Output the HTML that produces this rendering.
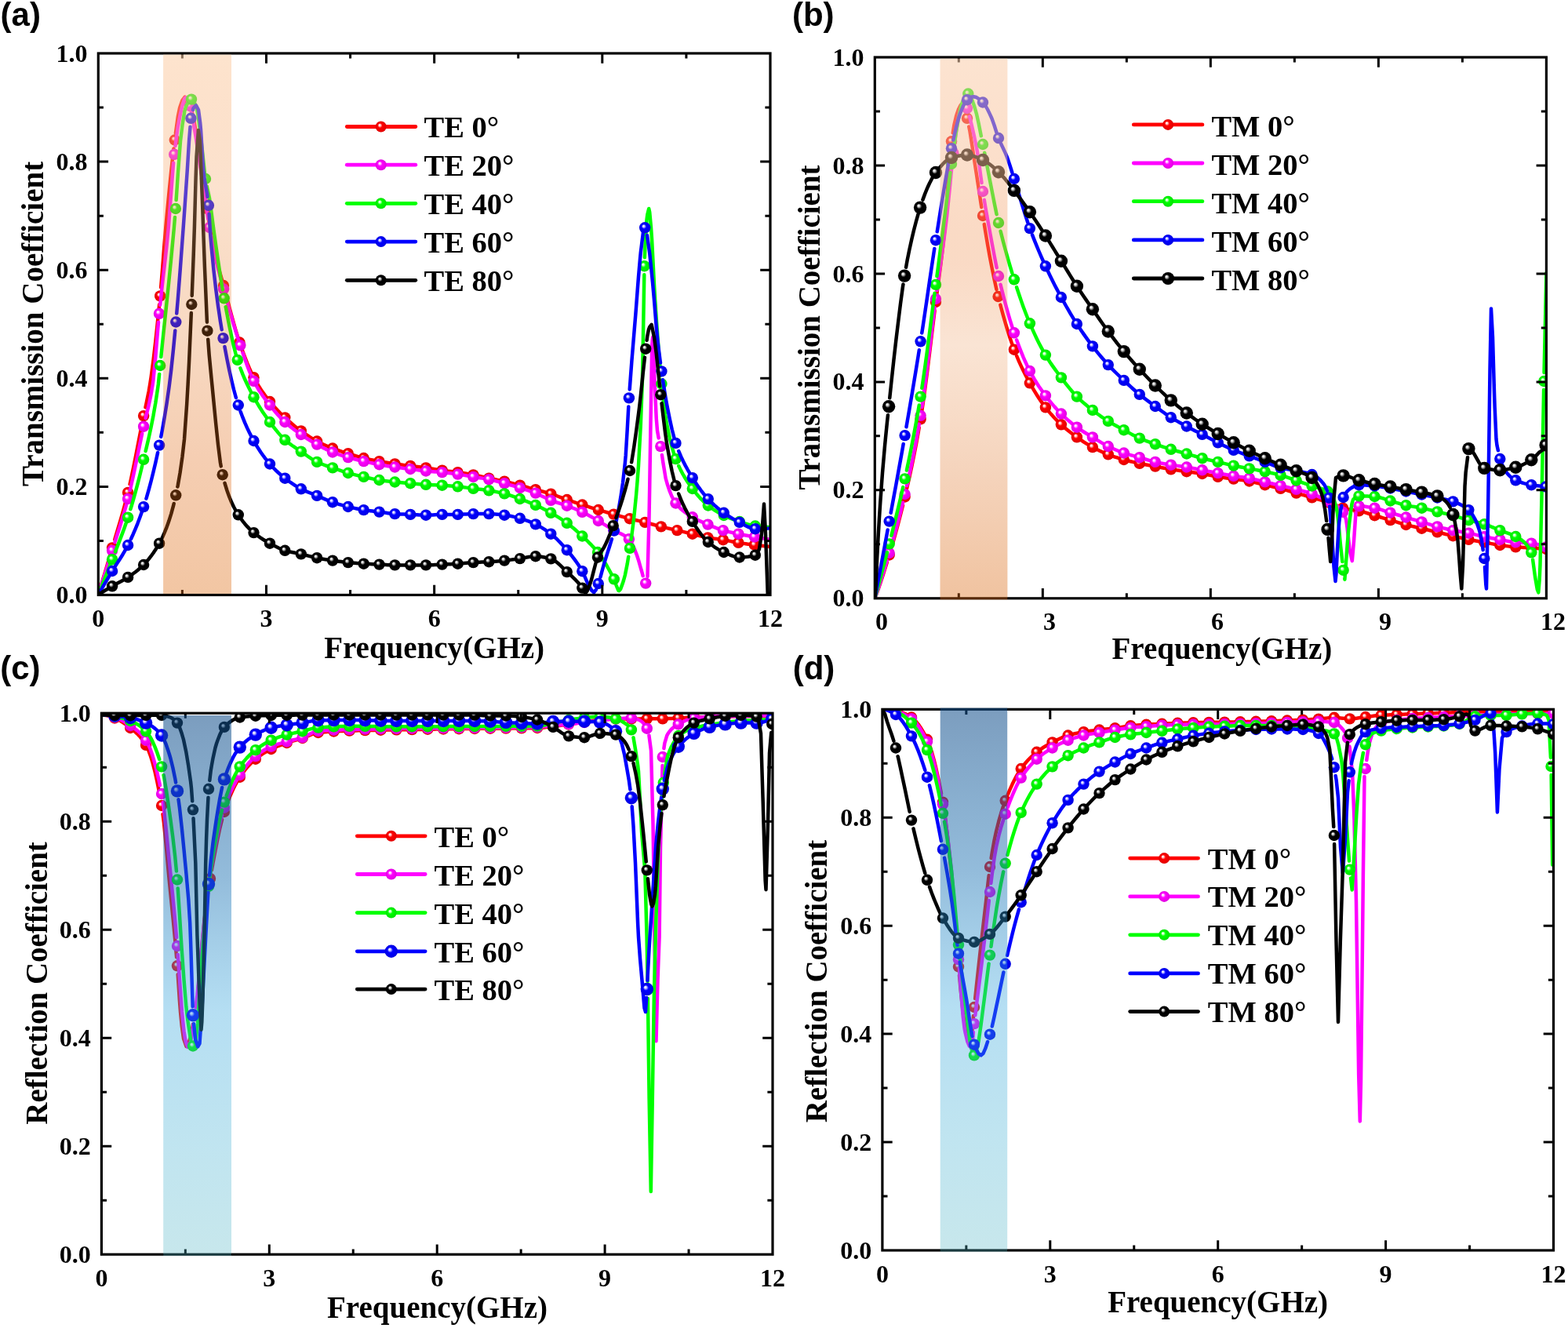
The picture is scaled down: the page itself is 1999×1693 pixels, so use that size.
<!DOCTYPE html><html><head><meta charset="utf-8"><title>Transmission and Reflection Coefficients</title><style>html,body{margin:0;padding:0;background:#fff;overflow:hidden}svg{display:block}</style></head><body><svg xmlns="http://www.w3.org/2000/svg" width="1999" height="1693" viewBox="0 0 1999 1693"><defs><radialGradient id="sr" cx="0.5" cy="0.5" r="0.5" fx="0.36" fy="0.33"><stop offset="0" stop-color="#ffffff"/><stop offset="0.16" stop-color="#ffd9d9"/><stop offset="0.42" stop-color="#ff0000"/><stop offset="1" stop-color="#e00000"/></radialGradient><radialGradient id="sm" cx="0.5" cy="0.5" r="0.5" fx="0.36" fy="0.33"><stop offset="0" stop-color="#ffffff"/><stop offset="0.16" stop-color="#ffd9ff"/><stop offset="0.42" stop-color="#ff00ff"/><stop offset="1" stop-color="#e000e0"/></radialGradient><radialGradient id="sg" cx="0.5" cy="0.5" r="0.5" fx="0.36" fy="0.33"><stop offset="0" stop-color="#ffffff"/><stop offset="0.16" stop-color="#d9ffd9"/><stop offset="0.42" stop-color="#00ff00"/><stop offset="1" stop-color="#00e000"/></radialGradient><radialGradient id="sb" cx="0.5" cy="0.5" r="0.5" fx="0.36" fy="0.33"><stop offset="0" stop-color="#ffffff"/><stop offset="0.16" stop-color="#d9d9ff"/><stop offset="0.42" stop-color="#0000ff"/><stop offset="1" stop-color="#0000e0"/></radialGradient><radialGradient id="sk" cx="0.5" cy="0.5" r="0.5" fx="0.36" fy="0.33"><stop offset="0" stop-color="#ffffff"/><stop offset="0.16" stop-color="#d9d9d9"/><stop offset="0.42" stop-color="#000000"/><stop offset="1" stop-color="#000000"/></radialGradient><linearGradient id="bandA" x1="0" y1="0" x2="0" y2="1"><stop offset="0" stop-color="rgb(252,205,165)" stop-opacity="0.55"/><stop offset="0.25" stop-color="rgb(246,175,120)" stop-opacity="0.36"/><stop offset="0.5" stop-color="rgb(229,118,33)" stop-opacity="0.27"/><stop offset="0.75" stop-color="rgb(225,106,22)" stop-opacity="0.33"/><stop offset="1" stop-color="rgb(221,105,13)" stop-opacity="0.38"/></linearGradient><linearGradient id="bandB" x1="0" y1="0" x2="0" y2="1"><stop offset="0" stop-color="rgb(250,205,170)" stop-opacity="0.55"/><stop offset="0.2" stop-color="rgb(248,190,150)" stop-opacity="0.5"/><stop offset="0.38" stop-color="rgb(240,150,90)" stop-opacity="0.35"/><stop offset="0.53" stop-color="rgb(234,143,76)" stop-opacity="0.24"/><stop offset="0.76" stop-color="rgb(224,120,46)" stop-opacity="0.32"/><stop offset="1" stop-color="rgb(218,104,16)" stop-opacity="0.4"/></linearGradient><linearGradient id="bandC" x1="0" y1="0" x2="0" y2="1"><stop offset="0" stop-color="rgb(20,80,140)" stop-opacity="0.56"/><stop offset="0.3" stop-color="rgb(30,115,180)" stop-opacity="0.48"/><stop offset="0.55" stop-color="rgb(55,167,222)" stop-opacity="0.37"/><stop offset="0.8" stop-color="rgb(65,175,210)" stop-opacity="0.33"/><stop offset="1" stop-color="rgb(80,180,195)" stop-opacity="0.32"/></linearGradient><clipPath id="clipa"><rect x="125.3" y="68" width="856.7" height="690.5"/></clipPath><clipPath id="clipb"><rect x="1115.3" y="73" width="856.1" height="689.8"/></clipPath><clipPath id="clipc"><rect x="129.4" y="909.2" width="855.6" height="690"/></clipPath><clipPath id="clipd"><rect x="1124.9" y="904.3" width="855.6" height="689.7"/></clipPath></defs><rect width="1999" height="1693" fill="#fff"/><g clip-path="url(#clipa)"><path d="M125.3 758 127 752.45 129.85 743.05 132.7 733.59 135.55 724.05 138.4 714.43 141.25 704.73M146.22 687.85 146.95 685.4 149.8 675.91 152.65 666.34 155.5 656.52 158.35 646.29 161.2 635.49M165.56 617.18 166.9 611.3 169.75 597.76 172.6 583.58 175.46 569.02 178.31 554.34 181.16 539.8M185.42 519.35 186.86 512.67 189.71 498.61 191.2 490 192.56 481.17 195.41 459.9 198.26 435.49 201.11 408.59 203.12 388.35M205.13 366.44 206.81 346.51 209.66 309.44 211.3 290 212.51 276.82 215.36 246.6 218.21 218.23 221.06 192.52 221.45 189.42M223.91 169.86 226.76 149.04 229 138 229.61 136.01 232.46 127.8 235.7 123.6 238.16 125.7M243.87 139.08 247 152 249.57 167.04 252 184 255.27 208.05 258 228 260.97 247.22 262.25 255.14M265.68 276.87 266.67 283.28 269.52 301.48 272 315 275.22 329 278.07 339.74 280.92 349.69 283.77 359.58M286.62 369.99 289.47 380.7 292.32 391.46 295.17 402.1 298.02 412.43 300.87 422.28 303.72 431.48M306.57 439.89 309.43 447.91 312.27 455.59 315.13 462.85 317.98 469.64 320.83 475.89M326.53 486.67 329.38 491.47 332.23 495.96 335.08 500.17 337.93 504.15 340.78 507.93M346.48 515 349.33 518.28 352.18 521.39 355.03 524.37 357.88 527.23 360.73 529.98M366.43 535.27 369.28 537.79 372.13 540.24 374.99 542.61 377.83 544.89 380.69 547.09M386.39 551.26 389.24 553.26 392.09 555.21 394.94 557.08 397.79 558.88 400.64 560.58M406.34 563.67 409.19 565.09 412.04 566.44 414.89 567.73 417.74 568.97 420.59 570.15M426.29 572.37 429.14 573.4 431.99 574.39 434.84 575.35 437.69 576.27 440.55 577.18M446.25 578.97 449.1 579.86 451.95 580.73 454.8 581.59 457.65 582.41 460.5 583.19M466.2 584.59 469.05 585.23 471.9 585.84 474.75 586.43 477.6 586.99 480.45 587.53M486.15 588.58 489 589.09 491.85 589.58 494.7 590.06 497.55 590.52 500.4 590.96M506.1 591.78 508.95 592.15 511.81 592.51 514.66 592.86 517.51 593.2 520.36 593.55M526.06 594.26 528.91 594.6 531.76 594.95 534.61 595.3 537.46 595.66 540.31 596.03M546.01 596.85 548.86 597.3 551.71 597.78 554.56 598.26 557.41 598.74 560.26 599.2M565.96 600 568.81 600.34 571.66 600.67 574.51 600.99 577.37 601.31 580.22 601.65M585.92 602.43 588.77 602.87 591.62 603.32 594.47 603.8 597.32 604.29 600.17 604.81M605.87 605.87 608.72 606.45 611.57 607.06 614.42 607.68 617.27 608.3 620.12 608.92M625.82 610.12 628.67 610.7 631.52 611.27 634.37 611.84 637.22 612.43 640.08 613.03M645.77 614.32 648.63 615.01 651.48 615.72 654.33 616.45 657.18 617.19 660.03 617.94M665.73 619.46 668.58 620.23 671.43 621.02 674.28 621.82 677.13 622.62 679.98 623.42M685.68 624.98 688.53 625.74 691.38 626.5 694.23 627.27 697.08 628.05 699.93 628.88M705.63 630.7 708.49 631.71 711.34 632.76 714.19 633.83 717.04 634.91 719.89 635.96M725.59 637.96 728.44 638.93 731.29 639.88 734.14 640.83 736.99 641.77 739.84 642.7M745.54 644.55 748.39 645.48 751.24 646.39 754.09 647.3 756.94 648.2 759.79 649.08M765.49 650.8 768.34 651.64 771.19 652.46 774.04 653.28 776.89 654.08 779.75 654.88M785.45 656.48 788.3 657.28 791.15 658.07 794 658.86 796.85 659.63 799.7 660.39M805.4 661.85 808.25 662.54 811.1 663.22 813.95 663.88 816.8 664.55 819.65 665.24M825.35 666.69 828.2 667.47 831.05 668.25 833.9 669.04 836.75 669.82 839.61 670.58M845.3 672.01 848.16 672.68 851.01 673.33 853.86 673.97 856.71 674.6 859.56 675.24M865.26 676.56 868.11 677.22 870.96 677.89 873.81 678.57 876.66 679.24 879.51 679.92M885.21 681.29 888.06 682.02 890.91 682.76 893.76 683.49 896.61 684.18 899.46 684.82M905.16 685.86 908.01 686.29 910.87 686.67 913.72 687.04 916.57 687.42 919.42 687.82M925.12 688.77 927.97 689.32 930.82 689.89 933.67 690.47 936.52 691.03 939.37 691.56M945.07 692.46 947.92 692.88 950.77 693.27 953.62 693.65 956.47 694.02 959.32 694.38M965.02 695.08 967.87 695.43 970.72 695.76 973.58 696.09 976.42 696.41 979.28 696.71 982 697" fill="none" stroke="#ff0000" stroke-width="4.5" stroke-linecap="round" stroke-linejoin="round"/>
<circle cx="143.1" cy="698.4" r="7.2" fill="url(#sr)"/><circle cx="163.1" cy="627.9" r="7.2" fill="url(#sr)"/><circle cx="183.1" cy="530.1" r="7.2" fill="url(#sr)"/><circle cx="204.2" cy="377.4" r="7.2" fill="url(#sr)"/><circle cx="222.8" cy="178.5" r="7.2" fill="url(#sr)"/><circle cx="241" cy="131" r="7.2" fill="url(#sr)"/><circle cx="264" cy="266" r="7.2" fill="url(#sr)"/><circle cx="285" cy="364" r="7.2" fill="url(#sr)"/><circle cx="305.4" cy="436.5" r="7.2" fill="url(#sr)"/><circle cx="323.5" cy="481.2" r="7.2" fill="url(#sr)"/><circle cx="344" cy="512" r="7.2" fill="url(#sr)"/><circle cx="363.3" cy="532.4" r="7.2" fill="url(#sr)"/><circle cx="383.8" cy="549.4" r="7.2" fill="url(#sr)"/><circle cx="404.1" cy="562.5" r="7.2" fill="url(#sr)"/><circle cx="424" cy="571.5" r="7.2" fill="url(#sr)"/><circle cx="443.8" cy="578.2" r="7.2" fill="url(#sr)"/><circle cx="463.7" cy="584" r="7.2" fill="url(#sr)"/><circle cx="483.5" cy="588.1" r="7.2" fill="url(#sr)"/><circle cx="503.4" cy="591.4" r="7.2" fill="url(#sr)"/><circle cx="523.2" cy="593.9" r="7.2" fill="url(#sr)"/><circle cx="543" cy="596.4" r="7.2" fill="url(#sr)"/><circle cx="563.7" cy="599.7" r="7.2" fill="url(#sr)"/><circle cx="583.6" cy="602.1" r="7.2" fill="url(#sr)"/><circle cx="603.4" cy="605.4" r="7.2" fill="url(#sr)"/><circle cx="623.3" cy="609.6" r="7.2" fill="url(#sr)"/><circle cx="643.1" cy="613.7" r="7.2" fill="url(#sr)"/><circle cx="662.9" cy="618.7" r="7.2" fill="url(#sr)"/><circle cx="682.8" cy="624.2" r="7.2" fill="url(#sr)"/><circle cx="702.3" cy="629.6" r="7.2" fill="url(#sr)"/><circle cx="722.8" cy="637" r="7.2" fill="url(#sr)"/><circle cx="742.3" cy="643.5" r="7.2" fill="url(#sr)"/><circle cx="762.8" cy="650" r="7.2" fill="url(#sr)"/><circle cx="782.3" cy="655.6" r="7.2" fill="url(#sr)"/><circle cx="802.8" cy="661.2" r="7.2" fill="url(#sr)"/><circle cx="822.3" cy="665.9" r="7.2" fill="url(#sr)"/><circle cx="842.8" cy="671.4" r="7.2" fill="url(#sr)"/><circle cx="863.3" cy="676.1" r="7.2" fill="url(#sr)"/><circle cx="882.8" cy="680.7" r="7.2" fill="url(#sr)"/><circle cx="902.4" cy="685.4" r="7.2" fill="url(#sr)"/><circle cx="921.9" cy="688.2" r="7.2" fill="url(#sr)"/><circle cx="941.4" cy="691.9" r="7.2" fill="url(#sr)"/><circle cx="961.9" cy="694.7" r="7.2" fill="url(#sr)"/>
</g>
<g clip-path="url(#clipa)"><path d="M125.3 758 127 752.74 129.85 743.86 132.7 734.92 135.55 725.93 138.4 716.87 141.25 707.75M146.42 691.31 146.95 689.62 149.8 680.75 152.65 671.82 155.5 662.67 158.35 653.12 161.2 643.01M165.7 625.21 166.9 620.29 169.75 607.51 172.6 594.12 175.46 580.36 178.31 566.5 181.16 552.81M185.66 533 186.86 527.98 189.71 516.38 192.56 502.79 194.7 490 195.41 484.77 198.26 455.55 201.11 420.86 202.02 410.76M204.17 388.86 206.81 364.29 209.66 339.35 212.51 313.3 214.8 290 218.21 245.51 221.06 208.24 221.11 207.75M223.51 185.88 223.91 182.52 226.76 162.06 230 145 232.46 134.78 235.31 125.8 237 124 238.16 124.88M243.87 142.38 247 159 249.57 174.31 252 190 255.27 211.34 258.12 230.4 260 243 260.97 249.58 263.82 269.51 265.31 279.13M268.97 300.82 269.52 303.84 272.37 318.05 275 330 278.07 342.63 280.92 353.4 283.77 363.72M286.62 373.99 289.47 384.23 292.32 394.36 295.17 404.32 298.02 414.03 300.87 423.44 303.72 432.49M309.43 449.55 312.27 457.87 315.13 465.88 317.98 473.39 320.83 480.21M326.53 491.36 329.38 496.16 332.23 500.58 335.08 504.72 337.93 508.62 340.78 512.37M346.48 519.62 349.33 523.1 352.18 526.44 355.03 529.64 357.88 532.69 360.73 535.56M366.43 540.79 369.28 543.2 372.13 545.49 374.99 547.68 377.83 549.78 380.69 551.82M386.39 555.76 389.24 557.65 392.09 559.49 394.94 561.26 397.79 562.98 400.64 564.65M406.34 567.83 409.19 569.38 412.04 570.89 414.89 572.36 417.74 573.75 420.59 575.06M426.29 577.39 429.14 578.45 431.99 579.44 434.84 580.39 437.69 581.29 440.55 582.15M446.25 583.79 449.1 584.56 451.95 585.29 454.8 586.01 457.65 586.7 460.5 587.37M466.2 588.66 469.05 589.29 471.9 589.9 474.75 590.49 477.6 591.07 480.45 591.63M486.15 592.68 489 593.19 491.85 593.68 494.7 594.16 497.55 594.62 500.4 595.06M506.1 595.88 508.95 596.25 511.81 596.61 514.66 596.96 517.51 597.3 520.36 597.65M526.06 598.37 528.91 598.76 531.76 599.14 534.61 599.52 537.46 599.89 540.31 600.22M546.01 600.77 548.86 600.99 551.71 601.19 554.56 601.38 557.41 601.58 560.26 601.8M565.96 602.33 568.81 602.64 571.66 602.98 574.51 603.34 577.37 603.72 580.22 604.12M585.92 604.94 588.77 605.4 591.62 605.87 594.47 606.36 597.32 606.86 600.17 607.35M605.87 608.3 608.72 608.75 611.57 609.19 614.42 609.63 617.27 610.1 620.12 610.6M625.82 611.73 628.67 612.39 631.52 613.09 634.37 613.83 637.22 614.6 640.08 615.38M645.77 616.93 648.63 617.74 651.48 618.56 654.33 619.39 657.18 620.25 660.03 621.11M665.73 622.87 668.58 623.75 671.43 624.65 674.28 625.56 677.13 626.52 679.98 627.53M685.68 629.83 688.53 631.19 691.38 632.64 694.23 634.12 697.08 635.56 699.93 636.91M705.63 639.13 708.49 640.08 711.34 640.98 714.19 641.86 717.04 642.75 719.89 643.67M725.59 645.74 728.44 646.85 731.29 647.98 734.14 649.16 736.99 650.39 739.84 651.66M745.54 654.38 748.39 655.86 751.24 657.4 754.09 658.99 756.94 660.61 759.79 662.26M765.49 665.59 768.34 667.33 771.19 669.11 774.04 670.91 776.89 672.7 779.75 674.46M785.45 677.68 788.3 679 791.15 680.28 794 681.65 796.85 683.27 799.7 685.29M805.4 692.32 808.25 698.51 811.1 705.66 812 708 813.95 713.93 816.8 724 818 728 819.65 734.15M825.5 735 827.5 660 828.2 621.82 829.5 540 831.2 440 832.2 430 833.8 470 836.75 533.34 838 549 839.61 558.04 839.7 558.41M843.91 579.98 845.3 589.41 848.7 610 851.01 618.05 853.86 626.48 856.71 633.31 859.56 638.66M865.26 645.95 868.11 648.81 870.96 651.31 873.81 653.51 876.66 655.48 879.51 657.3M885.21 660.7 888.06 662.21 890.91 663.6 893.76 664.91 896.61 666.15 899.46 667.36M905.16 669.78 908.01 670.98 910.87 672.16 913.72 673.29 916.57 674.35 919.42 675.33M925.12 677 927.97 677.73 930.82 678.41 933.67 679.06 936.52 679.68 939.37 680.28M945.07 681.44 947.92 681.99 950.77 682.51 953.62 683.03 956.47 683.53 959.32 684.04M965.02 685.06 967.87 685.56 970.72 686.06 973.58 686.56 976.42 687.05 979.28 687.54 982 688" fill="none" stroke="#ff00ff" stroke-width="4.5" stroke-linecap="round" stroke-linejoin="round"/>
<circle cx="143.1" cy="701.8" r="7.2" fill="url(#sm)"/><circle cx="163.1" cy="635.9" r="7.2" fill="url(#sm)"/><circle cx="183.1" cy="543.7" r="7.2" fill="url(#sm)"/><circle cx="203" cy="399.8" r="7.2" fill="url(#sm)"/><circle cx="222.2" cy="196.8" r="7.2" fill="url(#sm)"/><circle cx="242" cy="135" r="7.2" fill="url(#sm)"/><circle cx="267" cy="290" r="7.2" fill="url(#sm)"/><circle cx="285.1" cy="368.5" r="7.2" fill="url(#sm)"/><circle cx="306.3" cy="440.3" r="7.2" fill="url(#sm)"/><circle cx="323.5" cy="485.8" r="7.2" fill="url(#sm)"/><circle cx="344" cy="516.5" r="7.2" fill="url(#sm)"/><circle cx="363.3" cy="538" r="7.2" fill="url(#sm)"/><circle cx="383.8" cy="554" r="7.2" fill="url(#sm)"/><circle cx="404.1" cy="566.6" r="7.2" fill="url(#sm)"/><circle cx="424" cy="576.5" r="7.2" fill="url(#sm)"/><circle cx="443.8" cy="583.1" r="7.2" fill="url(#sm)"/><circle cx="463.7" cy="588.1" r="7.2" fill="url(#sm)"/><circle cx="483.5" cy="592.2" r="7.2" fill="url(#sm)"/><circle cx="503.4" cy="595.5" r="7.2" fill="url(#sm)"/><circle cx="523.2" cy="598" r="7.2" fill="url(#sm)"/><circle cx="543" cy="600.5" r="7.2" fill="url(#sm)"/><circle cx="563.7" cy="602.1" r="7.2" fill="url(#sm)"/><circle cx="583.6" cy="604.6" r="7.2" fill="url(#sm)"/><circle cx="603.4" cy="607.9" r="7.2" fill="url(#sm)"/><circle cx="623.3" cy="611.2" r="7.2" fill="url(#sm)"/><circle cx="643.1" cy="616.2" r="7.2" fill="url(#sm)"/><circle cx="662.9" cy="622" r="7.2" fill="url(#sm)"/><circle cx="682.8" cy="628.6" r="7.2" fill="url(#sm)"/><circle cx="702.3" cy="637.9" r="7.2" fill="url(#sm)"/><circle cx="722.8" cy="644.7" r="7.2" fill="url(#sm)"/><circle cx="742.3" cy="652.8" r="7.2" fill="url(#sm)"/><circle cx="762.8" cy="664" r="7.2" fill="url(#sm)"/><circle cx="782.3" cy="676" r="7.2" fill="url(#sm)"/><circle cx="801.9" cy="687.2" r="7.2" fill="url(#sm)"/><circle cx="823.2" cy="743.6" r="7.2" fill="url(#sm)"/><circle cx="842.3" cy="569.1" r="7.2" fill="url(#sm)"/><circle cx="861.5" cy="641.5" r="7.2" fill="url(#sm)"/><circle cx="882.8" cy="659.3" r="7.2" fill="url(#sm)"/><circle cx="902.4" cy="668.6" r="7.2" fill="url(#sm)"/><circle cx="921.9" cy="676.1" r="7.2" fill="url(#sm)"/><circle cx="941.4" cy="680.7" r="7.2" fill="url(#sm)"/><circle cx="961.9" cy="684.5" r="7.2" fill="url(#sm)"/>
</g>
<g clip-path="url(#clipa)"><path d="M125.3 758 127 753.84 129.85 746.81 132.7 739.7 135.55 732.53 138.4 725.29 141.25 717.98M146.95 703.37 149.8 696.16 152.65 688.89 155.5 681.42 158.35 673.65 161.2 665.45M166.37 649.2 166.9 647.48 169.75 637.76 172.6 627.57 175.46 616.88 178.31 605.71 181.16 594.04M185.63 575.09 186.86 569.9 189.71 557.64 192.56 544.61 195.41 530.2 198.26 513.87 201.11 495.01 201.8 490 203.11 476.95M205.31 455.06 206.81 440.39 209.66 413.02 212.51 385.79 215.36 358.11 218.21 329.46 221.06 299.25 221.9 290 222.99 276.96M224.63 255.02 226.76 222.91 230 180 232.46 159.66 235.31 141.87 237 136 238.16 133.52 241.01 128.65M246.72 128.65 250 135 252.42 146.81 255.27 169.24 256 175 258.12 193.86 260.97 220.54M263.82 237.43 267 252.4 269.52 270.62 272 290 275.22 312.84 278.07 332.67 280.92 351.66 283.77 369.33 283.8 369.47M287.71 391.11 289.47 400.58 292.32 415.24 295.17 428.99 298.02 441.51 300.87 452.5M306.4 469.29 306.57 469.79 309.43 477.12 312.27 483.81 315.13 489.98 317.98 495.74 320.83 501.22M326.53 511.63 329.38 516.46 332.23 521.04 335.08 525.41 337.93 529.59 340.78 533.62M346.48 541.31 349.33 545.04 352.18 548.66 355.03 552.12 357.88 555.37 360.73 558.36M366.43 563.47 369.28 565.69 372.13 567.76 374.99 569.72 377.83 571.62 380.69 573.5M386.39 577.41 389.24 579.44 392.09 581.48 394.94 583.46 397.79 585.34 400.64 587.07M406.34 589.93 409.19 591.13 412.04 592.23 414.89 593.26 417.74 594.25 420.59 595.22M426.29 597.21 429.14 598.22 431.99 599.22 434.84 600.19 437.69 601.14 440.55 602.04M446.25 603.68 449.1 604.43 451.95 605.15 454.8 605.85 457.65 606.52 460.5 607.18M466.2 608.47 469.05 609.11 471.9 609.75 474.75 610.36 477.6 610.95 480.45 611.49M486.15 612.4 489 612.81 491.85 613.18 494.7 613.54 497.55 613.87 500.4 614.19M506.1 614.77 508.95 615.03 511.81 615.27 514.66 615.51 517.51 615.74 520.36 615.97M526.06 616.44 528.91 616.7 531.76 616.95 534.61 617.19 537.46 617.42 540.31 617.63M546.01 617.95 548.86 618.08 551.71 618.19 554.56 618.3 557.41 618.4 560.26 618.53M565.96 618.84 568.81 619.03 571.66 619.24 574.51 619.47 577.37 619.71 580.22 619.97M585.92 620.54 588.77 620.87 591.62 621.23 594.47 621.61 597.32 622 600.17 622.38M605.87 623.1 608.72 623.44 611.57 623.77 614.42 624.1 617.27 624.45 620.12 624.83M625.82 625.71 628.67 626.22 631.52 626.76 634.37 627.35 637.22 627.98 640.08 628.65M645.77 630.13 648.63 630.99 651.48 631.92 654.33 632.9 657.18 633.92 660.03 634.95M665.73 637.03 668.58 638.1 671.43 639.19 674.28 640.31 677.13 641.47 679.98 642.67M685.68 645.21 688.53 646.57 691.38 647.97 694.23 649.43 697.08 650.93 699.93 652.48M705.63 655.71 708.49 657.38 711.34 659.12 714.19 660.91 717.04 662.78 719.89 664.72M725.59 668.9 728.44 671.17 731.29 673.55 734.14 676.03 736.99 678.58 739.84 681.2M745.54 686.54 748.39 689.24 751.24 692.02 754.09 694.92 756.94 697.99 759.79 701.28M765.49 708.68 768.34 712.83 771.19 717.27 774.04 722.01 776.89 727.03 779.75 732.32M785.45 745.76 788.3 752.71 789.1 753.2 791.15 750.95 794 743.12 795 740 796.85 733.22 799.7 719.05 801.22 709.76M804.59 688.02 805.4 682.46 808.25 659.46 811.1 630.82 812.6 612.8 813.95 594.29 816.8 541.89 818.9 485 819.65 447.93 821.31 350.2M821.91 328.21 822.5 312.49 824.5 280 825.35 273.45 827.2 266 828.2 270.44 830 290 831.05 304.99 833.9 360.79 835 380 836.75 406.37 839.61 446.09 842.44 478.44M844.6 500.33 845.3 506.73 848.16 528.79 850 540 851.01 545.25 853.86 558.74 856.71 570.21 859.56 579.72M865.26 593.98 868.11 599.89 870.96 605.2 873.81 610.01 876.66 614.41 879.51 618.52M885.21 626.15 888.06 629.7 890.91 633.03 893.76 636.14 896.61 639.03 899.46 641.69M905.16 646.32 908.01 648.37 910.87 650.28 913.72 652.07 916.57 653.73 919.42 655.28M925.12 658.1 927.97 659.39 930.82 660.6 933.67 661.75 936.52 662.83 939.37 663.85M945.07 665.75 947.92 666.7 950.77 667.63 953.62 668.51 956.47 669.28 959.32 669.93M965.02 670.77 967.87 671.09 970.72 671.39 973.58 671.64 976.42 671.83 979.28 671.96 982 672" fill="none" stroke="#00ff00" stroke-width="4.5" stroke-linecap="round" stroke-linejoin="round"/>
<circle cx="143.1" cy="713.2" r="7.2" fill="url(#sg)"/><circle cx="163.1" cy="659.7" r="7.2" fill="url(#sg)"/><circle cx="183.1" cy="585.8" r="7.2" fill="url(#sg)"/><circle cx="204.2" cy="466" r="7.2" fill="url(#sg)"/><circle cx="223.9" cy="266" r="7.2" fill="url(#sg)"/><circle cx="244" cy="126.6" r="7.2" fill="url(#sg)"/><circle cx="262" cy="228" r="7.2" fill="url(#sg)"/><circle cx="285.7" cy="380.3" r="7.2" fill="url(#sg)"/><circle cx="302.8" cy="458.9" r="7.2" fill="url(#sg)"/><circle cx="323.5" cy="506.2" r="7.2" fill="url(#sg)"/><circle cx="344" cy="538" r="7.2" fill="url(#sg)"/><circle cx="363.3" cy="560.8" r="7.2" fill="url(#sg)"/><circle cx="383.8" cy="575.6" r="7.2" fill="url(#sg)"/><circle cx="404.1" cy="588.9" r="7.2" fill="url(#sg)"/><circle cx="424" cy="596.4" r="7.2" fill="url(#sg)"/><circle cx="443.8" cy="603" r="7.2" fill="url(#sg)"/><circle cx="463.7" cy="607.9" r="7.2" fill="url(#sg)"/><circle cx="483.5" cy="612" r="7.2" fill="url(#sg)"/><circle cx="503.4" cy="614.5" r="7.2" fill="url(#sg)"/><circle cx="523.2" cy="616.2" r="7.2" fill="url(#sg)"/><circle cx="543" cy="617.8" r="7.2" fill="url(#sg)"/><circle cx="563.7" cy="618.7" r="7.2" fill="url(#sg)"/><circle cx="583.6" cy="620.3" r="7.2" fill="url(#sg)"/><circle cx="603.4" cy="622.8" r="7.2" fill="url(#sg)"/><circle cx="623.3" cy="625.3" r="7.2" fill="url(#sg)"/><circle cx="643.1" cy="629.4" r="7.2" fill="url(#sg)"/><circle cx="662.9" cy="636" r="7.2" fill="url(#sg)"/><circle cx="682.8" cy="643.9" r="7.2" fill="url(#sg)"/><circle cx="702.3" cy="653.8" r="7.2" fill="url(#sg)"/><circle cx="722.8" cy="666.8" r="7.2" fill="url(#sg)"/><circle cx="742.3" cy="683.5" r="7.2" fill="url(#sg)"/><circle cx="762" cy="704" r="7.2" fill="url(#sg)"/><circle cx="782.8" cy="738.3" r="7.2" fill="url(#sg)"/><circle cx="803" cy="698.9" r="7.2" fill="url(#sg)"/><circle cx="821.5" cy="339.2" r="7.2" fill="url(#sg)"/><circle cx="843.4" cy="489.4" r="7.2" fill="url(#sg)"/><circle cx="861.5" cy="585.1" r="7.2" fill="url(#sg)"/><circle cx="882.8" cy="623" r="7.2" fill="url(#sg)"/><circle cx="902.8" cy="644.5" r="7.2" fill="url(#sg)"/><circle cx="922.8" cy="657" r="7.2" fill="url(#sg)"/><circle cx="942.8" cy="665" r="7.2" fill="url(#sg)"/><circle cx="962.8" cy="670.5" r="7.2" fill="url(#sg)"/>
</g>
<g clip-path="url(#clipa)"><path d="M125.3 758 127 755.11 129.85 750.28 132.7 745.46 135.55 740.65 138.4 735.86 141.25 731.09M146.95 721.79 149.8 717.37 152.65 712.96 155.5 708.44 158.35 703.7 161.2 698.63M166.9 687.22 169.75 680.98 172.6 674.35 175.46 667.31 178.31 659.81 181.16 651.83M186.39 635.6 186.86 634.13 189.71 624.18 192.56 613.5 195.41 602.07 198.26 589.91 201.11 577.03M205.22 556.81 206.81 548.67 209.66 532.48 212.51 514.6 215.36 494.74 216 490 218.21 471.86 221.06 444.73 223.26 421.45M225.24 399.54 226.76 381.86 229.61 345.37 232.46 306.89 233.7 290 235.31 267.3 238.7 218 241.01 180.17 242.51 161.76M245.99 140.11 246.5 138 249.9 134.3 253 140 255.27 157.14 256 165 258.12 199.43 259.4 218 260.97 230.34 263.82 245.8 264.48 250.89M266.57 272.78 268.2 299.6 269.52 314.67 272.37 343.77 275.22 368.78 278.07 390.45 280.92 409.56 282.7 420.25M286.43 441.93 286.62 443.02 289.47 458.08 292.32 472.03 295.17 484.84 298.02 496.49 300.87 506.98M306.57 524.58 309.43 532.2 312.27 539.19 315.13 545.63 317.98 551.58 320.83 557.12M326.53 567.21 329.38 571.83 332.23 576.17 335.08 580.26 337.93 584.1 340.78 587.7M346.48 594.25 349.33 597.24 352.18 600.07 355.03 602.74 357.88 605.26 360.73 607.65M366.43 612.1 369.28 614.2 372.13 616.21 374.99 618.12 377.83 619.93 380.69 621.61M386.39 624.58 389.24 625.88 392.09 627.09 394.94 628.24 397.79 629.36 400.64 630.49M406.34 632.86 409.19 634.1 412.04 635.36 414.89 636.6 417.74 637.81 420.59 638.95M426.29 640.98 429.14 641.9 431.99 642.78 434.84 643.63 437.69 644.43 440.55 645.19M446.25 646.58 449.1 647.24 451.95 647.88 454.8 648.48 457.65 649.04 460.5 649.57M466.2 650.47 469.05 650.86 471.9 651.22 474.75 651.56 477.6 651.89 480.45 652.23M486.15 652.95 489 653.36 491.85 653.78 494.7 654.19 497.55 654.55 500.4 654.86M506.1 655.25 508.95 655.38 511.81 655.5 514.66 655.6 517.51 655.69 520.36 655.79M526.06 656.03 528.91 656.18 531.76 656.33 534.61 656.47 537.46 656.59 540.31 656.67M546.01 656.65 548.86 656.54 551.71 656.39 554.56 656.23 557.41 656.08 560.26 655.96M565.96 655.9 568.81 655.9 571.66 655.9 574.51 655.9 577.37 655.9 580.22 655.9M585.92 655.87 588.77 655.76 591.62 655.61 594.47 655.44 597.32 655.28 600.17 655.16M605.87 655.1 608.72 655.1 611.57 655.1 614.42 655.1 617.27 655.1 620.12 655.1M625.82 655.14 628.67 655.27 631.52 655.47 634.37 655.72 637.22 656.02 640.08 656.35M645.77 657.05 648.63 657.52 651.48 658.06 654.33 658.66 657.18 659.33 660.03 660.04M665.73 661.61 668.58 662.53 671.43 663.54 674.28 664.65 677.13 665.83 679.98 667.09M685.68 669.84 688.53 671.41 691.38 673.1 694.23 674.92 697.08 676.86 699.93 678.91M705.63 683.43 708.49 685.99 711.34 688.73 714.19 691.64 717.04 694.69 719.89 697.86M725.59 704.48 728.44 707.95 731.29 711.59 734.14 715.45 736.99 719.58 739.84 724.05M745.54 735.17 748.39 741.85 750 745 751.24 747.26 754.09 752.45 757.2 755.2 759.79 751.84M765.49 735.62 768.34 724.96 770 719 771.19 715.03 774.04 706.08 776.89 697.29 779.75 687.96 779.95 687.22M785.31 665.89 785.45 665.3 788.3 651.36 791.3 634 794 615.53 796.85 590.24 797.7 580.9 799.7 547.92 801.3 518.38M802.72 496.43 805.4 460.33 808.25 426.14 810.4 400 811.1 391.03 813.95 353.53 816 330 816.8 321.81 820 296M825 300 828.2 322.69 831.05 350.49 832 360 833.9 381.56 836.75 416.81 838 430 839.61 444.36 841.97 462.49M844.97 484.29 845.3 486.59 848.16 504.7 850 515 851.01 520.22 853.86 534.48 856.71 547.47 859.56 558.63M865.26 575.07 868.11 581.87 870.96 588 873.81 593.61 876.66 598.79 879.51 603.68M885.21 612.95 888.06 617.3 890.91 621.41 893.76 625.29 896.61 628.95 899.46 632.38M905.16 638.57 908.01 641.41 910.87 644.09 913.72 646.63 916.57 649.02 919.42 651.28M925.12 655.43 927.97 657.36 930.82 659.2 933.67 660.94 936.52 662.59 939.37 664.15M945.07 667.07 947.92 668.65 950.77 670.22 953.62 671.68 956.47 672.91 959.32 673.78M965.02 674.2 967.87 674.18 970.72 674.14 973.58 674.04 976.42 673.88 979.28 673.63 982 673.3" fill="none" stroke="#0000ff" stroke-width="4.5" stroke-linecap="round" stroke-linejoin="round"/>
<circle cx="143.1" cy="728" r="7.2" fill="url(#sb)"/><circle cx="163.1" cy="695" r="7.2" fill="url(#sb)"/><circle cx="183.1" cy="646.1" r="7.2" fill="url(#sb)"/><circle cx="203.1" cy="567.6" r="7.2" fill="url(#sb)"/><circle cx="224.3" cy="410.5" r="7.2" fill="url(#sb)"/><circle cx="243.4" cy="150.8" r="7.2" fill="url(#sb)"/><circle cx="265.9" cy="261.8" r="7.2" fill="url(#sb)"/><circle cx="284.5" cy="431.1" r="7.2" fill="url(#sb)"/><circle cx="303.8" cy="516.5" r="7.2" fill="url(#sb)"/><circle cx="323.5" cy="562" r="7.2" fill="url(#sb)"/><circle cx="344" cy="591.5" r="7.2" fill="url(#sb)"/><circle cx="363.3" cy="609.7" r="7.2" fill="url(#sb)"/><circle cx="383.8" cy="623.3" r="7.2" fill="url(#sb)"/><circle cx="404.1" cy="631.9" r="7.2" fill="url(#sb)"/><circle cx="424" cy="640.2" r="7.2" fill="url(#sb)"/><circle cx="443.8" cy="646" r="7.2" fill="url(#sb)"/><circle cx="463.7" cy="650.1" r="7.2" fill="url(#sb)"/><circle cx="483.5" cy="652.6" r="7.2" fill="url(#sb)"/><circle cx="503.4" cy="655.1" r="7.2" fill="url(#sb)"/><circle cx="523.2" cy="655.9" r="7.2" fill="url(#sb)"/><circle cx="543" cy="656.7" r="7.2" fill="url(#sb)"/><circle cx="563.7" cy="655.9" r="7.2" fill="url(#sb)"/><circle cx="583.6" cy="655.9" r="7.2" fill="url(#sb)"/><circle cx="603.4" cy="655.1" r="7.2" fill="url(#sb)"/><circle cx="623.3" cy="655.1" r="7.2" fill="url(#sb)"/><circle cx="643.1" cy="656.7" r="7.2" fill="url(#sb)"/><circle cx="662.9" cy="660.8" r="7.2" fill="url(#sb)"/><circle cx="682.8" cy="668.4" r="7.2" fill="url(#sb)"/><circle cx="702.3" cy="680.7" r="7.2" fill="url(#sb)"/><circle cx="722.8" cy="701.2" r="7.2" fill="url(#sb)"/><circle cx="742.3" cy="728.2" r="7.2" fill="url(#sb)"/><circle cx="762.8" cy="744" r="7.2" fill="url(#sb)"/><circle cx="782.8" cy="676.6" r="7.2" fill="url(#sb)"/><circle cx="801.9" cy="507.4" r="7.2" fill="url(#sb)"/><circle cx="822.2" cy="290.3" r="7.2" fill="url(#sb)"/><circle cx="843.4" cy="473.4" r="7.2" fill="url(#sb)"/><circle cx="861.5" cy="564.9" r="7.2" fill="url(#sb)"/><circle cx="882.8" cy="609.1" r="7.2" fill="url(#sb)"/><circle cx="902.8" cy="636.1" r="7.2" fill="url(#sb)"/><circle cx="922.8" cy="653.8" r="7.2" fill="url(#sb)"/><circle cx="942.8" cy="665.9" r="7.2" fill="url(#sb)"/><circle cx="962.8" cy="674.2" r="7.2" fill="url(#sb)"/>
</g>
<g clip-path="url(#clipa)"><path d="M125.3 758 127 756.96 129.85 755.22 132.7 753.49 135.55 751.77 138.4 750.07 141.25 748.39M146.95 745.12 149.8 743.57 152.65 742.04 155.5 740.48 158.35 738.85 161.2 737.12M166.9 733.33 169.75 731.31 172.6 729.18 175.46 726.93 178.31 724.51 181.16 721.9M186.86 715.98 189.71 712.61 192.56 708.94 195.41 704.97 198.26 700.69 201.11 696.1M206.81 685.57 209.66 679.2 212.51 672.05 214 668 215.36 664.1 218.21 655.09 221.06 644.71 221.69 642.01M226.4 620.52 226.76 618.75 229.61 602.42 232.46 582.28 235 560 238.16 515.35 239.6 490 241.01 462.7 243.82 398.99M244.72 377.01 246.72 324.87 247.9 290 249.57 227.55 250.5 200 252.9 166.1 255 180 258.12 261.17 259.1 290 260.97 341.01 263.93 410.71M265.21 432.67 266.67 452.48 269.52 482.24 270.3 490 272.37 511.17 275.22 540.35 278.07 567.37 280.92 589.88 281.74 594.38M286.51 615.83 286.62 616.24 289.47 625.49 292.32 633.43 295.17 640.28 298.02 646.22 300.87 651.46M306.57 660.5 309.43 664.41 312.27 667.94 315.13 671.16 317.98 674.08 320.83 676.77M326.53 681.55 329.38 683.68 332.23 685.65 335.08 687.5 337.93 689.24 340.78 690.9M346.48 694.06 349.33 695.61 352.18 697.1 355.03 698.51 357.88 699.8 360.73 700.93M366.43 702.68 369.28 703.38 372.13 704 374.99 704.58 377.83 705.14 380.69 705.72M386.39 707.01 389.24 707.71 392.09 708.42 394.94 709.12 397.79 709.81 400.64 710.47M406.34 711.64 409.19 712.17 412.04 712.68 414.89 713.17 417.74 713.64 420.59 714.09M426.29 714.93 429.14 715.33 431.99 715.72 434.84 716.09 437.69 716.44 440.55 716.76M446.25 717.34 449.1 717.6 451.95 717.85 454.8 718.08 457.65 718.3 460.5 718.5M466.2 718.84 469.05 718.98 471.9 719.11 474.75 719.24 477.6 719.36 480.45 719.47M486.15 719.72 489 719.87 491.85 720.02 494.7 720.17 497.55 720.29 500.4 720.37M506.1 720.4 508.95 720.4 511.81 720.4 514.66 720.4 517.51 720.4 520.36 720.4M526.06 720.4 528.91 720.4 531.76 720.4 534.61 720.4 537.46 720.4 540.31 720.4M546.01 720.37 548.86 720.29 551.71 720.18 554.56 720.05 557.41 719.9 560.26 719.76M565.96 719.51 568.81 719.39 571.66 719.27 574.51 719.15 577.37 719.02 580.22 718.88M585.92 718.55 588.77 718.32 591.62 718.07 594.47 717.81 597.32 717.55 600.17 717.32M605.87 716.97 608.72 716.84 611.57 716.72 614.42 716.61 617.27 716.49 620.12 716.37M625.82 716.04 628.67 715.85 631.52 715.64 634.37 715.4 637.22 715.15 640.08 714.89M645.77 714.32 648.63 713.99 651.48 713.64 654.33 713.27 657.18 712.88 660.03 712.49M665.73 711.66 668.58 711.13 671.43 710.58 674.28 710.06 677.13 709.62 679.98 709.31M685.68 709.29 688.53 709.54 691.38 709.94 694.23 710.46 697.08 711.08 699.93 711.77M705.63 713.8 708.49 715.67 711.34 717.99 714.19 720.64 717.04 723.46 719.89 726.31M725.59 731.63 728.44 734.2 731.29 736.86 734.14 739.7 736.99 742.8 739.84 746.26M746 756.5 748.39 753.86 751.24 746.9 752 745 754.09 738.69 756.94 727.64 759.79 716.75M765.49 704.63 768.34 700.66 770 697.9 771.19 695.59 774.04 689.5 776.89 682.73 779.75 675.43M785.45 660.02 788.3 652.07 791.15 643.71 794 634.73 796.85 624.93 799.7 614.1 800.49 610.71M805.1 589.2 805.4 587.69 808.25 569.98 811.1 549.83 813.95 528.16 815 520 816.8 504.44 819.65 476.51 821.98 455.63M824.63 433.79 825.35 428.32 827 420 828.2 416.94 830.6 413.8 834 430 836.75 451 839.61 478.25 841.12 492.26M843.56 514.13 845.3 529.16 848.16 552.45 850 565 851.01 570.98 853.86 586.82 856.71 600.78 859.56 612.53M865.14 629.48 865.26 629.8 868.11 636.94 870.96 643.35 873.81 649.17 876.66 654.5 879.51 659.47M885.21 668.75 888.06 673.11 890.91 677.24 893.76 681.1 896.61 684.63 899.46 687.81M905.16 692.99 908.01 695.23 910.87 697.29 913.72 699.17 916.57 700.88 919.42 702.41M925.12 705.03 927.97 706.31 930.82 707.54 933.67 708.65 936.52 709.57 939.37 710.2M945.07 710.47 947.92 710.34 950.77 710.1 953.62 709.75 956.47 709.27 959.32 708.65M965.02 705.85 968 700 970.72 682.43 972 670 974 642.6 976 680 978.7 757 982 757" fill="none" stroke="#000000" stroke-width="4.5" stroke-linecap="round" stroke-linejoin="round"/>
<circle cx="143.1" cy="747.3" r="7.2" fill="url(#sk)"/><circle cx="163.1" cy="735.9" r="7.2" fill="url(#sk)"/><circle cx="183.1" cy="720" r="7.2" fill="url(#sk)"/><circle cx="203.1" cy="692.7" r="7.2" fill="url(#sk)"/><circle cx="224.2" cy="631.3" r="7.2" fill="url(#sk)"/><circle cx="244.3" cy="388" r="7.2" fill="url(#sk)"/><circle cx="264.4" cy="421.7" r="7.2" fill="url(#sk)"/><circle cx="283.7" cy="605.2" r="7.2" fill="url(#sk)"/><circle cx="303.8" cy="656.3" r="7.2" fill="url(#sk)"/><circle cx="323.5" cy="679.1" r="7.2" fill="url(#sk)"/><circle cx="344" cy="692.7" r="7.2" fill="url(#sk)"/><circle cx="363.3" cy="701.8" r="7.2" fill="url(#sk)"/><circle cx="383.8" cy="706.4" r="7.2" fill="url(#sk)"/><circle cx="404.1" cy="711.2" r="7.2" fill="url(#sk)"/><circle cx="424" cy="714.6" r="7.2" fill="url(#sk)"/><circle cx="443.8" cy="717.1" r="7.2" fill="url(#sk)"/><circle cx="463.7" cy="718.7" r="7.2" fill="url(#sk)"/><circle cx="483.5" cy="719.6" r="7.2" fill="url(#sk)"/><circle cx="503.4" cy="720.4" r="7.2" fill="url(#sk)"/><circle cx="523.2" cy="720.4" r="7.2" fill="url(#sk)"/><circle cx="543" cy="720.4" r="7.2" fill="url(#sk)"/><circle cx="563.7" cy="719.6" r="7.2" fill="url(#sk)"/><circle cx="583.6" cy="718.7" r="7.2" fill="url(#sk)"/><circle cx="603.4" cy="717.1" r="7.2" fill="url(#sk)"/><circle cx="623.3" cy="716.2" r="7.2" fill="url(#sk)"/><circle cx="643.1" cy="714.6" r="7.2" fill="url(#sk)"/><circle cx="662.9" cy="712.1" r="7.2" fill="url(#sk)"/><circle cx="682.8" cy="709.2" r="7.2" fill="url(#sk)"/><circle cx="702.3" cy="712.4" r="7.2" fill="url(#sk)"/><circle cx="722.8" cy="729.1" r="7.2" fill="url(#sk)"/><circle cx="742.3" cy="749.6" r="7.2" fill="url(#sk)"/><circle cx="762" cy="710.5" r="7.2" fill="url(#sk)"/><circle cx="781.7" cy="670.2" r="7.2" fill="url(#sk)"/><circle cx="803" cy="600" r="7.2" fill="url(#sk)"/><circle cx="823.2" cy="444.7" r="7.2" fill="url(#sk)"/><circle cx="842.3" cy="503.2" r="7.2" fill="url(#sk)"/><circle cx="861.5" cy="619.1" r="7.2" fill="url(#sk)"/><circle cx="882.8" cy="664.9" r="7.2" fill="url(#sk)"/><circle cx="902.8" cy="691" r="7.2" fill="url(#sk)"/><circle cx="922.8" cy="704" r="7.2" fill="url(#sk)"/><circle cx="942.8" cy="710.5" r="7.2" fill="url(#sk)"/><circle cx="962.8" cy="707.7" r="7.2" fill="url(#sk)"/>
</g>
<rect x="125.3" y="68" width="856.7" height="690.5" fill="none" stroke="#000" stroke-width="3.2"/>
<path d="M232.39 758.5v-6.6M232.39 68v6.6M339.48 758.5v-12.8M339.48 68v12.8M446.56 758.5v-6.6M446.56 68v6.6M553.65 758.5v-12.8M553.65 68v12.8M660.74 758.5v-6.6M660.74 68v6.6M767.82 758.5v-12.8M767.82 68v12.8M874.91 758.5v-6.6M874.91 68v6.6M125.3 689.45h6.6M982 689.45h-6.6M125.3 620.4h12.8M982 620.4h-12.8M125.3 551.35h6.6M982 551.35h-6.6M125.3 482.3h12.8M982 482.3h-12.8M125.3 413.25h6.6M982 413.25h-6.6M125.3 344.2h12.8M982 344.2h-12.8M125.3 275.15h6.6M982 275.15h-6.6M125.3 206.1h12.8M982 206.1h-12.8M125.3 137.05h6.6M982 137.05h-6.6" stroke="#000" stroke-width="3" fill="none"/>
<rect x="208.1" y="69.6" width="86.9" height="687.3" fill="url(#bandA)"/>
<g font-family="'Liberation Serif','Times New Roman',serif" font-weight="bold" font-size="32" fill="#000">
<text x="125.3" y="799" text-anchor="middle">0</text>
<text x="339.48" y="799" text-anchor="middle">3</text>
<text x="553.65" y="799" text-anchor="middle">6</text>
<text x="767.82" y="799" text-anchor="middle">9</text>
<text x="982" y="799" text-anchor="middle">12</text>
<text x="111.6" y="769.1" text-anchor="end">0.0</text>
<text x="111.6" y="631" text-anchor="end">0.2</text>
<text x="111.6" y="492.9" text-anchor="end">0.4</text>
<text x="111.6" y="354.8" text-anchor="end">0.6</text>
<text x="111.6" y="216.7" text-anchor="end">0.8</text>
<text x="111.6" y="78.6" text-anchor="end">1.0</text>
</g>
<g font-family="'Liberation Serif','Times New Roman',serif" font-weight="bold" font-size="39" fill="#000">
<text x="553.6" y="839.3" text-anchor="middle">Frequency(GHz)</text>
<text transform="translate(55.1 412.9) rotate(-90)" text-anchor="middle">Transmission Coefficient</text>
</g>
<text x="0.6" y="33" font-family="'Liberation Sans',Arial,sans-serif" font-weight="bold" font-size="42" fill="#000">(a)</text>
<line x1="442.3" y1="161.5" x2="529.8" y2="161.5" stroke="#ff0000" stroke-width="4.8" stroke-linecap="round"/>
<circle cx="485.7" cy="161.5" r="7.0" fill="url(#sr)"/>
<text x="540.5" y="175.3" font-family="'Liberation Serif','Times New Roman',serif" font-weight="bold" font-size="38.5" fill="#000">TE 0°</text>
<line x1="442.3" y1="210.2" x2="529.8" y2="210.2" stroke="#ff00ff" stroke-width="4.8" stroke-linecap="round"/>
<circle cx="485.7" cy="210.2" r="7.0" fill="url(#sm)"/>
<text x="540.5" y="224" font-family="'Liberation Serif','Times New Roman',serif" font-weight="bold" font-size="38.5" fill="#000">TE 20°</text>
<line x1="442.3" y1="259.3" x2="529.8" y2="259.3" stroke="#00ff00" stroke-width="4.8" stroke-linecap="round"/>
<circle cx="485.7" cy="259.3" r="7.0" fill="url(#sg)"/>
<text x="540.5" y="273.1" font-family="'Liberation Serif','Times New Roman',serif" font-weight="bold" font-size="38.5" fill="#000">TE 40°</text>
<line x1="442.3" y1="308.1" x2="529.8" y2="308.1" stroke="#0000ff" stroke-width="4.8" stroke-linecap="round"/>
<circle cx="485.7" cy="308.1" r="7.0" fill="url(#sb)"/>
<text x="540.5" y="321.9" font-family="'Liberation Serif','Times New Roman',serif" font-weight="bold" font-size="38.5" fill="#000">TE 60°</text>
<line x1="442.3" y1="357.3" x2="529.8" y2="357.3" stroke="#000000" stroke-width="4.8" stroke-linecap="round"/>
<circle cx="485.7" cy="357.3" r="7.0" fill="url(#sk)"/>
<text x="540.5" y="371.1" font-family="'Liberation Serif','Times New Roman',serif" font-weight="bold" font-size="38.5" fill="#000">TE 80°</text>
<g clip-path="url(#clipb)"><path d="M1115.3 762.8 1116.61 759.28 1119.46 751.39 1122.31 743.18 1125.15 734.68 1128 725.89 1130.85 716.83M1136.55 697.93 1139.4 688.09 1142.25 677.94 1145.09 667.44 1147.94 656.53 1150.79 645.18 1151.03 644.19M1156.09 622.79 1156.49 621.07 1159.34 608.41 1162.19 595.21 1165.03 581.36 1167.88 566.71 1170.73 551.14 1171.74 545.24M1175.28 523.53 1176.43 516.12 1179.28 495.65 1182.13 473.64 1184.97 450.62 1187.82 427.13 1190.67 403.72 1191.64 395.92M1194.44 374.09 1196.37 359.41 1199.22 337.84 1202.07 314.22 1204 296 1204.91 285.87 1207.76 246 1210.61 204.94 1211.94 191.25M1214.76 169.44 1216.31 159.88 1219.16 147.62 1220 145 1222.01 139.35 1224.85 133.64 1226 133 1227.7 134.56 1230.55 142.19M1235.27 161.56 1236.25 166.22 1239.1 184.22 1241.95 203.28 1243 210 1244.79 221.38 1247.64 240.15 1250.49 259.01 1251.3 264.13M1254.76 285.86 1256.19 294.62 1259.04 311.58 1262 328 1264.73 342.09 1267.58 356.03 1270.43 368.97M1275.35 388.65 1276.13 391.69 1278.98 402.21 1281.83 412.22 1284.67 421.69 1287.52 430.58 1290.37 438.87M1296.07 453.64 1298.92 460.31 1301.77 466.6 1304.61 472.54 1307.46 478.18 1310.31 483.57M1316.01 493.78 1318.86 498.61 1321.71 503.25 1324.55 507.68 1327.4 511.9 1330.25 515.89M1335.95 523.22 1338.8 526.62 1341.65 529.86 1344.49 532.96 1347.34 535.91 1350.19 538.73M1355.89 544.01 1358.74 546.47 1361.59 548.84 1364.43 551.11 1367.28 553.29 1370.13 555.41M1375.83 559.46 1378.68 561.4 1381.53 563.29 1384.37 565.11 1387.22 566.86 1390.07 568.53M1395.77 571.62 1398.62 573.07 1401.47 574.47 1404.31 575.81 1407.16 577.08 1410.01 578.29M1415.71 580.5 1418.56 581.53 1421.41 582.51 1424.25 583.44 1427.1 584.34 1429.95 585.19M1435.65 586.77 1438.5 587.51 1441.35 588.22 1444.19 588.89 1447.04 589.54 1449.89 590.17M1455.59 591.38 1458.44 591.94 1461.29 592.48 1464.13 593.01 1466.98 593.53 1469.83 594.05M1475.53 595.12 1478.38 595.66 1481.23 596.21 1484.07 596.75 1486.92 597.28 1489.77 597.79M1495.47 598.72 1498.32 599.15 1501.17 599.57 1504.01 599.97 1506.86 600.37 1509.71 600.76M1515.41 601.57 1518.26 601.95 1521.11 602.33 1523.95 602.72 1526.8 603.11 1529.65 603.53M1535.35 604.46 1538.2 604.99 1541.05 605.56 1543.89 606.14 1546.74 606.72 1549.59 607.26M1555.29 608.2 1558.14 608.62 1560.99 609.02 1563.83 609.4 1566.68 609.78 1569.53 610.16M1575.23 610.95 1578.08 611.34 1580.93 611.72 1583.77 612.11 1586.62 612.51 1589.47 612.95M1595.17 613.97 1598.02 614.59 1600.87 615.26 1603.71 615.96 1606.56 616.68 1609.41 617.4M1615.11 618.76 1617.96 619.42 1620.81 620.07 1623.65 620.73 1626.5 621.39 1629.35 622.08M1635.05 623.55 1637.9 624.33 1640.75 625.15 1643.59 625.97 1646.44 626.81 1649.29 627.64M1654.99 629.28 1657.84 630.09 1660.69 630.89 1663.53 631.7 1666.38 632.51 1669.23 633.32M1674.93 634.98 1677.78 635.8 1680.63 636.62 1683.47 637.45 1686.32 638.29 1689.17 639.15 1692.02 640.04M1697.72 641.96 1700.57 643.08 1703.41 644.26 1706.26 645.44 1709.11 646.57M1714.81 648.45 1716.7 648.9 1717.66 649.09 1720.51 649.57 1723.35 649.97 1726.2 650.33 1729.05 650.71M1734.75 651.79 1737.6 652.53 1740.45 653.36 1743.29 654.26 1746.14 655.19 1748.99 656.12M1754.69 657.85 1757.54 658.69 1760.39 659.53 1763.23 660.37 1766.08 661.21 1768.93 662.05M1774.63 663.73 1777.48 664.6 1780.33 665.47 1783.17 666.34 1786.02 667.19 1788.87 668.01M1794.57 669.53 1797.42 670.23 1800.27 670.9 1803.11 671.55 1805.96 672.2 1808.81 672.85M1814.51 674.17 1817.36 674.84 1820.21 675.51 1823.05 676.19 1825.9 676.86 1828.75 677.53M1834.45 678.89 1837.3 679.57 1840.15 680.26 1842.99 680.94 1845.84 681.63 1848.69 682.31M1854.39 683.68 1857.24 684.37 1860.09 685.07 1862.93 685.77 1865.78 686.45 1868.63 687.1M1874.33 688.28 1877.18 688.81 1880.03 689.31 1882.87 689.8 1885.72 690.27 1888.57 690.75M1894.27 691.76 1897.12 692.3 1899.97 692.85 1902.81 693.39 1905.66 693.92 1908.51 694.42M1914.21 695.27 1917.06 695.65 1919.91 696.01 1922.75 696.36 1925.6 696.67 1928.45 696.96M1934.15 697.44 1937 697.63 1939.85 697.79 1942.69 697.95 1945.54 698.1 1948.39 698.26 1951.24 698.43M1954.09 698.62 1956.94 698.83 1959.79 699.04 1962.63 699.27 1965.48 699.5 1968.33 699.74" fill="none" stroke="#ff0000" stroke-width="4.5" stroke-linecap="round" stroke-linejoin="round"/>
<circle cx="1133.7" cy="707.5" r="7.2" fill="url(#sr)"/><circle cx="1153.6" cy="633.5" r="7.2" fill="url(#sr)"/><circle cx="1173.6" cy="534.4" r="7.2" fill="url(#sr)"/><circle cx="1193" cy="385" r="7.2" fill="url(#sr)"/><circle cx="1213" cy="180.3" r="7.2" fill="url(#sr)"/><circle cx="1233" cy="150.8" r="7.2" fill="url(#sr)"/><circle cx="1253" cy="275" r="7.2" fill="url(#sr)"/><circle cx="1272.6" cy="378" r="7.2" fill="url(#sr)"/><circle cx="1292.9" cy="445.7" r="7.2" fill="url(#sr)"/><circle cx="1312.9" cy="488.3" r="7.2" fill="url(#sr)"/><circle cx="1332.9" cy="519.4" r="7.2" fill="url(#sr)"/><circle cx="1352.9" cy="541.3" r="7.2" fill="url(#sr)"/><circle cx="1372.9" cy="557.4" r="7.2" fill="url(#sr)"/><circle cx="1392.9" cy="570.1" r="7.2" fill="url(#sr)"/><circle cx="1412.8" cy="579.4" r="7.2" fill="url(#sr)"/><circle cx="1432.8" cy="586" r="7.2" fill="url(#sr)"/><circle cx="1452.8" cy="590.8" r="7.2" fill="url(#sr)"/><circle cx="1472.8" cy="594.6" r="7.2" fill="url(#sr)"/><circle cx="1492.8" cy="598.3" r="7.2" fill="url(#sr)"/><circle cx="1512.8" cy="601.2" r="7.2" fill="url(#sr)"/><circle cx="1532.7" cy="604" r="7.2" fill="url(#sr)"/><circle cx="1552.7" cy="607.8" r="7.2" fill="url(#sr)"/><circle cx="1572.7" cy="610.6" r="7.2" fill="url(#sr)"/><circle cx="1592.7" cy="613.5" r="7.2" fill="url(#sr)"/><circle cx="1612.7" cy="618.2" r="7.2" fill="url(#sr)"/><circle cx="1632.6" cy="622.9" r="7.2" fill="url(#sr)"/><circle cx="1652.6" cy="628.6" r="7.2" fill="url(#sr)"/><circle cx="1672.6" cy="634.3" r="7.2" fill="url(#sr)"/><circle cx="1695" cy="641" r="7.2" fill="url(#sr)"/><circle cx="1711.96" cy="647.59" r="7.2" fill="url(#sr)"/><circle cx="1732.5" cy="651.3" r="7.2" fill="url(#sr)"/><circle cx="1752.5" cy="657.2" r="7.2" fill="url(#sr)"/><circle cx="1772.5" cy="663.1" r="7.2" fill="url(#sr)"/><circle cx="1792.5" cy="669" r="7.2" fill="url(#sr)"/><circle cx="1812.5" cy="673.7" r="7.2" fill="url(#sr)"/><circle cx="1832.4" cy="678.4" r="7.2" fill="url(#sr)"/><circle cx="1852.4" cy="683.2" r="7.2" fill="url(#sr)"/><circle cx="1872.4" cy="687.9" r="7.2" fill="url(#sr)"/><circle cx="1892.3" cy="691.4" r="7.2" fill="url(#sr)"/><circle cx="1912.3" cy="695" r="7.2" fill="url(#sr)"/><circle cx="1932.3" cy="697.3" r="7.2" fill="url(#sr)"/><circle cx="1952.3" cy="698.5" r="7.2" fill="url(#sr)"/><circle cx="1971.18" cy="699.98" r="7.2" fill="url(#sr)"/>
</g>
<g clip-path="url(#clipb)"><path d="M1115.3 762.8 1116.61 759.05 1119.46 750.7 1122.31 742.07 1125.15 733.18 1128 724.03 1130.85 714.63M1136.55 695.17 1139.4 685.15 1142.25 674.87 1145.09 664.26 1147.94 653.26 1150.79 641.81 1151.05 640.7M1156.06 619.28 1156.49 617.4 1159.34 604.57 1162.19 591.19 1165.03 577.16 1167.88 562.35 1170.73 546.65 1171.75 540.64M1175.27 518.93 1176.43 511.37 1179.28 490.68 1182.13 468.47 1184.97 445.38 1187.82 422.03 1190.67 399.06 1191.59 391.91M1194.49 370.1 1196.37 356.33 1199.22 336.08 1202.07 315.5 1204.91 293.8 1207.2 275 1210.61 241.43 1213.46 212.05 1214.16 205.93M1216.85 184.1 1219.16 166.76 1222.01 149.28 1223.7 142 1224.85 138 1227.7 130.13 1229 129 1230.55 130.99M1236.07 148.56 1236.25 149.16 1239.1 161.1 1240 165 1241.95 173.54 1244.79 187.33 1246.1 194.5 1247.64 204.45 1250.49 225.95 1251.49 233.1M1254.78 254.86 1256.19 263.5 1259.04 279.67 1261.89 295.21 1262.7 299.6 1264.73 310.6 1267.58 325.8 1270.43 340.2 1270.66 341.25M1275.54 362.7 1276.13 365.18 1278.98 376.61 1281.83 387.49 1284.67 397.8 1287.52 407.54 1290.37 416.68M1296.07 433.32 1298.92 441.03 1301.77 448.36 1304.61 455.29 1307.46 461.79 1310.31 467.87M1316.01 478.73 1318.86 483.65 1321.71 488.28 1324.55 492.66 1327.4 496.83 1330.25 500.82M1335.95 508.37 1338.8 511.93 1341.65 515.35 1344.49 518.63 1347.34 521.77 1350.19 524.77M1355.89 530.39 1358.74 533.04 1361.59 535.6 1364.43 538.04 1367.28 540.39 1370.13 542.63M1375.83 546.77 1378.68 548.68 1381.53 550.5 1384.37 552.26 1387.22 553.98 1390.07 555.69M1395.77 559.16 1398.62 560.91 1401.47 562.65 1404.31 564.36 1407.16 566.01 1410.01 567.57M1415.71 570.41 1418.56 571.74 1421.41 573.02 1424.25 574.24 1427.1 575.4 1429.95 576.49M1435.65 578.43 1438.5 579.29 1441.35 580.09 1444.19 580.87 1447.04 581.63 1449.89 582.39M1455.59 584.01 1458.44 584.87 1461.29 585.74 1464.13 586.59 1466.98 587.41 1469.83 588.18M1475.53 589.51 1478.38 590.1 1481.23 590.67 1484.07 591.2 1486.92 591.71 1489.77 592.2M1495.47 593.11 1498.32 593.51 1501.17 593.89 1504.01 594.26 1506.86 594.63 1509.71 595.03M1515.41 595.94 1518.26 596.46 1521.11 597 1523.95 597.57 1526.8 598.14 1529.65 598.71M1535.35 599.81 1538.2 600.35 1541.05 600.89 1543.89 601.43 1546.74 601.98 1549.59 602.52M1555.29 603.59 1558.14 604.14 1560.99 604.69 1563.83 605.23 1566.68 605.76 1569.53 606.27M1575.23 607.19 1578.08 607.59 1580.93 607.97 1583.77 608.35 1586.62 608.74 1589.47 609.16M1595.17 610.17 1598.02 610.79 1600.87 611.46 1603.71 612.16 1606.56 612.88 1609.41 613.6M1615.11 614.97 1617.96 615.64 1620.81 616.31 1623.65 616.98 1626.5 617.65 1629.35 618.33M1635.05 619.68 1637.9 620.35 1640.75 621.01 1643.59 621.68 1646.44 622.37 1649.29 623.06M1654.99 624.51 1657.84 625.23 1660.69 625.96 1663.53 626.72 1666.38 627.52 1669.23 628.38M1674.93 630.37 1677.78 631.56 1680.63 632.86 1683.47 634.25 1686.32 635.7 1689.17 637.19M1694.87 640.13 1697.72 641.47 1700.57 642.87 1703.41 644.49 1706.26 646.51 1708 648 1709.11 649.09M1714.81 658.64 1716 662 1717.66 673.45 1720.5 700 1723.8 715.1 1726 690 1728.5 653.6M1734.75 645.35 1737.6 645.52 1740.45 645.81 1743.29 646.19 1746.14 646.62 1748.99 647.1M1754.69 648.13 1757.54 648.84 1760.39 649.67 1763.23 650.58 1766.08 651.53 1768.93 652.48M1774.63 654.23 1777.48 655.07 1780.33 655.91 1783.17 656.75 1786.02 657.59 1788.87 658.43M1794.57 660.11 1797.42 660.95 1800.27 661.79 1803.11 662.62 1805.96 663.46 1808.81 664.3M1814.51 666.01 1817.36 666.89 1820.21 667.78 1823.05 668.67 1825.9 669.55 1828.75 670.39M1834.45 671.94 1837.3 672.66 1840.15 673.37 1842.99 674.05 1845.84 674.7 1848.69 675.33M1854.39 676.48 1857.24 676.99 1860.09 677.47 1862.93 677.94 1865.78 678.4 1868.63 678.89M1874.33 680.01 1877.18 680.66 1880.03 681.36 1882.87 682.07 1885.72 682.79 1888.57 683.48M1894.27 684.69 1897.12 685.24 1899.97 685.76 1902.81 686.26 1905.66 686.75 1908.51 687.24M1914.21 688.25 1917.06 688.81 1919.91 689.39 1922.75 689.96 1925.6 690.49 1928.45 690.94M1934.15 691.55 1937 691.73 1939.85 691.87 1942.69 692 1945.54 692.13 1948.39 692.29 1951.24 692.5M1954.09 692.81 1956.94 693.29 1959.79 693.91 1962.63 694.66 1965.48 695.51 1968.33 696.44" fill="none" stroke="#ff00ff" stroke-width="4.5" stroke-linecap="round" stroke-linejoin="round"/>
<circle cx="1133.7" cy="705" r="7.2" fill="url(#sm)"/><circle cx="1153.6" cy="630" r="7.2" fill="url(#sm)"/><circle cx="1173.6" cy="529.8" r="7.2" fill="url(#sm)"/><circle cx="1193" cy="381" r="7.2" fill="url(#sm)"/><circle cx="1215.4" cy="195" r="7.2" fill="url(#sm)"/><circle cx="1233" cy="138" r="7.2" fill="url(#sm)"/><circle cx="1253" cy="244" r="7.2" fill="url(#sm)"/><circle cx="1273" cy="352" r="7.2" fill="url(#sm)"/><circle cx="1292.9" cy="424.3" r="7.2" fill="url(#sm)"/><circle cx="1312.9" cy="473" r="7.2" fill="url(#sm)"/><circle cx="1332.9" cy="504.4" r="7.2" fill="url(#sm)"/><circle cx="1352.9" cy="527.5" r="7.2" fill="url(#sm)"/><circle cx="1372.9" cy="544.7" r="7.2" fill="url(#sm)"/><circle cx="1392.9" cy="557.4" r="7.2" fill="url(#sm)"/><circle cx="1412.8" cy="569" r="7.2" fill="url(#sm)"/><circle cx="1432.8" cy="577.5" r="7.2" fill="url(#sm)"/><circle cx="1452.8" cy="583.2" r="7.2" fill="url(#sm)"/><circle cx="1472.8" cy="588.9" r="7.2" fill="url(#sm)"/><circle cx="1492.8" cy="592.7" r="7.2" fill="url(#sm)"/><circle cx="1512.8" cy="595.5" r="7.2" fill="url(#sm)"/><circle cx="1532.7" cy="599.3" r="7.2" fill="url(#sm)"/><circle cx="1552.7" cy="603.1" r="7.2" fill="url(#sm)"/><circle cx="1572.7" cy="606.8" r="7.2" fill="url(#sm)"/><circle cx="1592.7" cy="609.7" r="7.2" fill="url(#sm)"/><circle cx="1612.7" cy="614.4" r="7.2" fill="url(#sm)"/><circle cx="1632.6" cy="619.1" r="7.2" fill="url(#sm)"/><circle cx="1652.6" cy="623.9" r="7.2" fill="url(#sm)"/><circle cx="1672.6" cy="629.5" r="7.2" fill="url(#sm)"/><circle cx="1692.6" cy="639" r="7.2" fill="url(#sm)"/><circle cx="1711.96" cy="652.77" r="7.2" fill="url(#sm)"/><circle cx="1732.5" cy="645.3" r="7.2" fill="url(#sm)"/><circle cx="1752.5" cy="647.7" r="7.2" fill="url(#sm)"/><circle cx="1772.5" cy="653.6" r="7.2" fill="url(#sm)"/><circle cx="1792.5" cy="659.5" r="7.2" fill="url(#sm)"/><circle cx="1812.5" cy="665.4" r="7.2" fill="url(#sm)"/><circle cx="1832.4" cy="671.4" r="7.2" fill="url(#sm)"/><circle cx="1852.4" cy="676.1" r="7.2" fill="url(#sm)"/><circle cx="1872.4" cy="679.6" r="7.2" fill="url(#sm)"/><circle cx="1892.3" cy="684.3" r="7.2" fill="url(#sm)"/><circle cx="1912.3" cy="687.9" r="7.2" fill="url(#sm)"/><circle cx="1932.3" cy="691.4" r="7.2" fill="url(#sm)"/><circle cx="1952.3" cy="692.6" r="7.2" fill="url(#sm)"/><circle cx="1971.18" cy="697.42" r="7.2" fill="url(#sm)"/>
</g>
<g clip-path="url(#clipb)"><path d="M1115.3 762.8 1116.61 758.1 1119.46 747.73 1122.31 737.2 1125.15 726.5 1128 715.63 1130.85 704.6 1130.99 704.06M1136.4 682.74 1136.55 682.13 1139.4 670.81 1142.25 659.34 1145.09 647.64 1147.94 635.61 1150.79 623.17 1151.24 621.14M1155.89 599.64 1156.49 596.84 1159.34 583.12 1162.19 568.94 1165.03 554.21 1167.88 538.83 1170.73 522.71 1171.78 516.45M1175.29 494.73 1176.43 487.38 1179.28 467.51 1182.13 446.5 1184.97 424.75 1187.82 402.65 1190.67 380.61 1191.57 373.81M1194.44 352 1196.37 337.43 1199.22 315.65 1201.3 299.6 1202.07 293.65 1204.91 271.3 1207 255 1207.76 249.07 1210.61 226.89 1211.54 219.9M1214.51 198.1 1216.31 185.13 1219 168 1222.01 150.99 1224.85 137.02 1227.2 129.5 1230.55 122.92M1236.25 120.98 1239.1 127 1242 135 1244.79 144.57 1247.64 157.36 1250.49 171.58 1250.82 173.22M1255.16 194.79 1256.19 199.92 1259.04 214.77 1262 230 1264.73 243.92 1267.58 258.48 1270.43 272.45 1270.61 273.26M1275.59 294.69 1276.13 296.9 1278.98 308.07 1281.83 318.74 1284.67 328.95 1287.52 338.75 1290.37 348.19M1296.07 366.18 1298.92 374.79 1301.77 383.12 1304.61 391.13 1307.46 398.78 1310.31 406.05M1316.01 419.43 1318.86 425.69 1321.71 431.68 1324.55 437.4 1327.4 442.85 1330.25 448.03M1335.95 457.56 1338.8 461.95 1341.65 466.13 1344.49 470.14 1347.34 474.03 1350.19 477.83M1355.89 485.32 1358.74 489.01 1361.59 492.63 1364.43 496.14 1367.28 499.51 1370.13 502.7M1375.83 508.47 1378.68 511.12 1381.53 513.65 1384.37 516.07 1387.22 518.41 1390.07 520.69M1395.77 525.1 1398.62 527.22 1401.47 529.29 1404.31 531.29 1407.16 533.24 1410.01 535.12M1415.71 538.68 1418.56 540.36 1421.41 541.98 1424.25 543.57 1427.1 545.12 1429.95 546.66M1435.65 549.75 1438.5 551.32 1441.35 552.87 1444.19 554.4 1447.04 555.87 1449.89 557.27M1455.59 559.79 1458.44 560.94 1461.29 562.05 1464.13 563.11 1466.98 564.14 1469.83 565.15M1475.53 567.16 1478.38 568.13 1481.23 569.1 1484.07 570.04 1486.92 570.96 1489.77 571.86M1495.47 573.6 1498.32 574.43 1501.17 575.24 1504.01 576.04 1506.86 576.83 1509.71 577.63M1515.41 579.25 1518.26 580.09 1521.11 580.93 1523.95 581.77 1526.8 582.59 1529.65 583.39M1535.35 584.87 1538.2 585.56 1541.05 586.23 1543.89 586.88 1546.74 587.53 1549.59 588.18M1555.29 589.52 1558.14 590.2 1560.99 590.9 1563.83 591.58 1566.68 592.26 1569.53 592.91M1575.23 594.12 1578.08 594.68 1580.93 595.22 1583.77 595.75 1586.62 596.27 1589.47 596.8M1595.17 597.86 1598.02 598.39 1600.87 598.91 1603.71 599.44 1606.56 599.97 1609.41 600.53M1615.11 601.71 1617.96 602.33 1620.81 602.97 1623.65 603.62 1626.5 604.31 1629.35 605.03M1635.05 606.6 1637.9 607.48 1640.75 608.41 1643.59 609.38 1646.44 610.37 1649.29 611.36M1654.99 613.32 1657.84 614.3 1660.69 615.3 1663.53 616.3 1666.38 617.31 1669.23 618.32M1674.93 620.26 1677.78 621.08 1680.63 621.86 1683.47 622.67 1686.32 623.61 1689.17 624.75M1694.87 628.16 1697.72 631.36 1700 635 1703.41 646 1704.9 653.6 1706.26 665.22 1708.5 690 1709.11 695.86 1711.37 715.97M1714.26 737.77 1714.4 738.7 1716.5 710 1717.66 694.29 1719.1 677.3 1720.51 664.34 1723.35 642.71 1725 637.1 1726.2 635.77 1729.05 633.45M1734.75 632.41 1737.6 632.44 1740.45 632.51 1743.29 632.59 1746.14 632.7 1748.99 632.82M1754.69 633.22 1757.54 633.76 1760.39 634.52 1763.23 635.43 1766.08 636.41 1768.93 637.39M1774.63 639.11 1777.48 639.97 1780.33 640.84 1783.17 641.71 1786.02 642.55 1788.87 643.33M1794.57 644.63 1797.42 645.15 1800.27 645.63 1803.11 646.09 1805.96 646.54 1808.81 647.01M1814.51 648.12 1817.36 648.75 1820.21 649.41 1823.05 650.11 1825.9 650.81 1828.75 651.51M1834.45 652.88 1837.3 653.55 1840.15 654.21 1842.99 654.87 1845.84 655.55 1848.69 656.25M1854.39 657.74 1857.24 658.56 1860.09 659.42 1862.93 660.29 1865.78 661.16 1868.63 662.02M1874.33 663.61 1877.18 664.33 1880.03 665.01 1882.87 665.68 1885.72 666.38 1888.57 667.12M1894.27 668.84 1897.12 669.87 1899.97 670.98 1902.81 672.15 1905.66 673.35 1908.51 674.55M1914.21 676.83 1917.06 677.83 1919.91 678.79 1922.75 679.77 1925.6 680.84 1928.45 682.04M1934.15 685.04 1937 686.66 1939.85 688.51 1942.69 690.78 1945.54 693.7 1948.39 697.46 1951.24 702.29M1954.09 713.45 1957 735 1959.79 751.41 1961.3 755.3 1962.63 739.54 1963.5 720 1965.8 620 1968.09 497M1968.55 475 1971.4 348" fill="none" stroke="#00ff00" stroke-width="4.5" stroke-linecap="round" stroke-linejoin="round"/>
<circle cx="1133.7" cy="693.4" r="7.2" fill="url(#sg)"/><circle cx="1153.6" cy="610.4" r="7.2" fill="url(#sg)"/><circle cx="1173.6" cy="505.6" r="7.2" fill="url(#sg)"/><circle cx="1193" cy="362.9" r="7.2" fill="url(#sg)"/><circle cx="1213" cy="209" r="7.2" fill="url(#sg)"/><circle cx="1234.3" cy="119.5" r="7.2" fill="url(#sg)"/><circle cx="1253" cy="184" r="7.2" fill="url(#sg)"/><circle cx="1273" cy="284" r="7.2" fill="url(#sg)"/><circle cx="1292.9" cy="356.3" r="7.2" fill="url(#sg)"/><circle cx="1312.9" cy="412.3" r="7.2" fill="url(#sg)"/><circle cx="1332.9" cy="452.6" r="7.2" fill="url(#sg)"/><circle cx="1352.9" cy="481.4" r="7.2" fill="url(#sg)"/><circle cx="1372.9" cy="505.6" r="7.2" fill="url(#sg)"/><circle cx="1392.9" cy="522.9" r="7.2" fill="url(#sg)"/><circle cx="1412.8" cy="536.9" r="7.2" fill="url(#sg)"/><circle cx="1432.8" cy="548.2" r="7.2" fill="url(#sg)"/><circle cx="1452.8" cy="558.6" r="7.2" fill="url(#sg)"/><circle cx="1472.8" cy="566.2" r="7.2" fill="url(#sg)"/><circle cx="1492.8" cy="572.8" r="7.2" fill="url(#sg)"/><circle cx="1512.8" cy="578.5" r="7.2" fill="url(#sg)"/><circle cx="1532.7" cy="584.2" r="7.2" fill="url(#sg)"/><circle cx="1552.7" cy="588.9" r="7.2" fill="url(#sg)"/><circle cx="1572.7" cy="593.6" r="7.2" fill="url(#sg)"/><circle cx="1592.7" cy="597.4" r="7.2" fill="url(#sg)"/><circle cx="1612.7" cy="601.2" r="7.2" fill="url(#sg)"/><circle cx="1632.6" cy="605.9" r="7.2" fill="url(#sg)"/><circle cx="1652.6" cy="612.5" r="7.2" fill="url(#sg)"/><circle cx="1672.6" cy="619.5" r="7.2" fill="url(#sg)"/><circle cx="1692.6" cy="626.5" r="7.2" fill="url(#sg)"/><circle cx="1712.6" cy="726.9" r="7.2" fill="url(#sg)"/><circle cx="1732.5" cy="632.4" r="7.2" fill="url(#sg)"/><circle cx="1752.5" cy="633" r="7.2" fill="url(#sg)"/><circle cx="1772.5" cy="638.5" r="7.2" fill="url(#sg)"/><circle cx="1792.5" cy="644.2" r="7.2" fill="url(#sg)"/><circle cx="1812.5" cy="647.7" r="7.2" fill="url(#sg)"/><circle cx="1832.4" cy="652.4" r="7.2" fill="url(#sg)"/><circle cx="1852.4" cy="657.2" r="7.2" fill="url(#sg)"/><circle cx="1872.4" cy="663.1" r="7.2" fill="url(#sg)"/><circle cx="1892.3" cy="668.2" r="7.2" fill="url(#sg)"/><circle cx="1912.3" cy="676.1" r="7.2" fill="url(#sg)"/><circle cx="1932.3" cy="684" r="7.2" fill="url(#sg)"/><circle cx="1952.3" cy="704.4" r="7.2" fill="url(#sg)"/><circle cx="1968.3" cy="486" r="7.2" fill="url(#sg)"/>
</g>
<g clip-path="url(#clipb)"><path d="M1115.3 762.8 1116.61 755.91 1119.46 740.87 1122.31 725.76 1125.15 710.58 1128 695.32 1130.85 680 1131.7 675.42M1135.7 653.78 1136.55 649.18 1139.4 633.77 1142.25 618.3 1145.09 602.73 1147.94 587 1150.79 571.07 1151.69 565.93M1155.48 544.26 1156.49 538.45 1159.34 521.85 1162.19 505.05 1165.03 488.03 1167.88 470.76 1170.73 453.24 1171.86 446.16M1175.28 424.43 1176.43 417.04 1179.28 398.01 1182.13 378.6 1184.97 359.11 1187.82 339.82 1190.67 321.02 1191.29 317.07M1194.73 295.34 1196.37 285.06 1199.22 267.15 1202.07 249.51 1204.91 232.41 1207.76 216.11 1210.61 200.91 1210.8 199.98M1215.32 178.45 1216.31 173.86 1219.16 161.55 1222.01 150.95 1224 145 1224.85 142.77 1227.7 135.76 1230.55 130.15M1236.25 124.94 1239.1 123.59 1241.4 123.2 1244.79 124.05 1247.64 125.82 1250.49 128.19M1256.19 134.51 1259.04 139.51 1261.89 145.37 1264 150 1264.73 151.72 1267.58 159.78 1270.43 168.69M1276.13 183.24 1278.98 189.2 1281.83 195.36 1283.9 200.4 1284.67 202.47 1287.52 210.88 1290.37 219.96M1296.07 238.06 1298.92 247.37 1301.77 256.76 1304.61 266.06 1307.46 275.11 1310.31 283.75M1316.01 299.4 1318.86 306.69 1321.71 313.72 1324.55 320.5 1327.4 327.08 1330.25 333.48M1335.95 345.83 1338.8 351.76 1341.65 357.52 1344.49 363.14 1347.34 368.63 1350.19 373.99M1355.89 384.42 1358.74 389.49 1361.59 394.46 1364.43 399.31 1367.28 404.04 1370.13 408.65M1375.83 417.48 1378.68 421.72 1381.53 425.87 1384.37 429.91 1387.22 433.85 1390.07 437.69M1395.77 445.08 1398.62 448.64 1401.47 452.12 1404.31 455.52 1407.16 458.82 1410.01 462.04M1415.71 468.19 1418.56 471.12 1421.41 473.97 1424.25 476.76 1427.1 479.5 1429.95 482.21M1435.65 487.58 1438.5 490.24 1441.35 492.88 1444.19 495.47 1447.04 498 1449.89 500.46M1455.59 505.15 1458.44 507.37 1461.29 509.54 1464.13 511.66 1466.98 513.76 1469.83 515.83M1475.53 520.01 1478.38 522.11 1481.23 524.21 1484.07 526.28 1486.92 528.29 1489.77 530.23M1495.47 533.84 1498.32 535.53 1501.17 537.15 1504.01 538.74 1506.86 540.29 1509.71 541.83M1515.41 544.9 1518.26 546.41 1521.11 547.9 1523.95 549.38 1526.8 550.85 1529.65 552.32M1535.35 555.29 1538.2 556.79 1541.05 558.29 1543.89 559.79 1546.74 561.27 1549.59 562.74M1555.29 565.59 1558.14 567 1560.99 568.41 1563.83 569.79 1566.68 571.13 1569.53 572.43M1575.23 574.83 1578.08 575.94 1580.93 577.01 1583.77 578.04 1586.62 579.07 1589.47 580.1M1595.17 582.23 1598.02 583.31 1600.87 584.4 1603.71 585.48 1606.56 586.57 1609.41 587.65M1615.11 589.84 1617.96 591.01 1620.81 592.2 1623.65 593.37 1626.5 594.47 1629.35 595.46M1635.05 596.98 1637.9 597.56 1640.75 598.08 1643.59 598.57 1646.44 599.05 1649.29 599.55M1654.99 600.69 1657.84 601.23 1660.69 601.79 1663.53 602.38 1666.38 603.05 1669.23 603.85M1674.93 606.01 1677.78 607.62 1680.63 609.69 1683.47 612.28 1686.32 615.47 1688.4 618.2 1689.17 619.37 1692.02 625.86M1695.15 645.67 1697.72 678.8 1698.5 690 1700.57 723.08 1702.5 741.1 1703.41 731.96 1705 700 1706.26 678.95 1707.3 665.4 1709.11 650.72 1710.35 644.77M1714.81 629.83 1717.66 626.07 1720.51 623.58 1721.5 622.9 1723.35 621.71 1726.2 620.06 1729.05 618.82M1734.75 618.23 1737.6 618.32 1740.45 618.48 1743.29 618.68 1746.14 618.92 1748.99 619.18M1754.69 619.72 1757.54 620.07 1760.39 620.47 1763.23 620.92 1766.08 621.39 1768.93 621.88M1774.63 622.88 1777.48 623.42 1780.33 623.98 1783.17 624.57 1786.02 625.16 1788.87 625.76M1794.57 626.91 1797.42 627.48 1800.27 628.05 1803.11 628.62 1805.96 629.19 1808.81 629.76M1814.51 630.9 1817.36 631.46 1820.21 632.01 1823.05 632.57 1825.9 633.13 1828.75 633.72M1834.45 634.94 1837.3 635.55 1840.15 636.16 1842.99 636.8 1845.84 637.49 1848.69 638.25M1854.39 640.09 1857.24 641.16 1860.09 642.37 1862.93 643.76 1865.78 645.35 1868.63 647.2M1874.33 652.05 1877.18 655.99 1880.03 661 1882 665 1882.87 666.97 1885.72 675.25 1887 680 1888.57 686.97 1890.68 701.12M1892.96 722.98 1894.27 744.84 1895 750.5 1897.12 647.5 1897.8 600 1899.5 470 1901 393.6 1903 430 1905 500 1905.66 519.5 1907.5 560 1908.51 568.11 1909.89 574.27M1914.21 590.5 1917.06 596.93 1920 601.6 1922.75 604.88 1925.6 607.73 1928.45 610.04M1934.15 613.11 1937 614.24 1939.85 615.22 1942.69 616.07 1945.54 616.81 1948.39 617.45 1951.24 618.01M1954.09 618.5 1956.94 618.91 1959.79 619.27 1962.63 619.6 1965.48 619.91 1968.33 620.23" fill="none" stroke="#0000ff" stroke-width="4.5" stroke-linecap="round" stroke-linejoin="round"/>
<circle cx="1133.7" cy="664.6" r="7.2" fill="url(#sb)"/><circle cx="1153.6" cy="555.1" r="7.2" fill="url(#sb)"/><circle cx="1173.6" cy="435.3" r="7.2" fill="url(#sb)"/><circle cx="1193" cy="306.2" r="7.2" fill="url(#sb)"/><circle cx="1213" cy="189.2" r="7.2" fill="url(#sb)"/><circle cx="1233" cy="127.2" r="7.2" fill="url(#sb)"/><circle cx="1253" cy="130.5" r="7.2" fill="url(#sb)"/><circle cx="1273" cy="176" r="7.2" fill="url(#sb)"/><circle cx="1292.9" cy="228" r="7.2" fill="url(#sb)"/><circle cx="1312.9" cy="291.1" r="7.2" fill="url(#sb)"/><circle cx="1332.9" cy="339.3" r="7.2" fill="url(#sb)"/><circle cx="1352.9" cy="379" r="7.2" fill="url(#sb)"/><circle cx="1372.9" cy="413" r="7.2" fill="url(#sb)"/><circle cx="1392.9" cy="441.4" r="7.2" fill="url(#sb)"/><circle cx="1412.8" cy="465.1" r="7.2" fill="url(#sb)"/><circle cx="1432.8" cy="484.9" r="7.2" fill="url(#sb)"/><circle cx="1452.8" cy="502.9" r="7.2" fill="url(#sb)"/><circle cx="1472.8" cy="518" r="7.2" fill="url(#sb)"/><circle cx="1492.8" cy="532.2" r="7.2" fill="url(#sb)"/><circle cx="1512.8" cy="543.5" r="7.2" fill="url(#sb)"/><circle cx="1532.7" cy="553.9" r="7.2" fill="url(#sb)"/><circle cx="1552.7" cy="564.3" r="7.2" fill="url(#sb)"/><circle cx="1572.7" cy="573.8" r="7.2" fill="url(#sb)"/><circle cx="1592.7" cy="581.3" r="7.2" fill="url(#sb)"/><circle cx="1612.7" cy="588.9" r="7.2" fill="url(#sb)"/><circle cx="1632.6" cy="596.4" r="7.2" fill="url(#sb)"/><circle cx="1652.6" cy="600.2" r="7.2" fill="url(#sb)"/><circle cx="1672.6" cy="605" r="7.2" fill="url(#sb)"/><circle cx="1694.3" cy="634.7" r="7.2" fill="url(#sb)"/><circle cx="1712.6" cy="634" r="7.2" fill="url(#sb)"/><circle cx="1732.5" cy="618.2" r="7.2" fill="url(#sb)"/><circle cx="1752.5" cy="619.5" r="7.2" fill="url(#sb)"/><circle cx="1772.5" cy="622.5" r="7.2" fill="url(#sb)"/><circle cx="1792.5" cy="626.5" r="7.2" fill="url(#sb)"/><circle cx="1812.5" cy="630.5" r="7.2" fill="url(#sb)"/><circle cx="1832.4" cy="634.5" r="7.2" fill="url(#sb)"/><circle cx="1852.4" cy="639.4" r="7.2" fill="url(#sb)"/><circle cx="1872.4" cy="650.1" r="7.2" fill="url(#sb)"/><circle cx="1892.3" cy="712" r="7.2" fill="url(#sb)"/><circle cx="1912.3" cy="585" r="7.2" fill="url(#sb)"/><circle cx="1932.3" cy="612.3" r="7.2" fill="url(#sb)"/><circle cx="1952.3" cy="618.2" r="7.2" fill="url(#sb)"/><circle cx="1970.6" cy="620.5" r="7.2" fill="url(#sb)"/>
</g>
<g clip-path="url(#clipb)"><path d="M1115.3 762.8 1116.5 750 1118 715 1119.46 686.53 1121 660 1122.31 639.79 1125 603 1128 568.51 1129 558 1130.85 539.51 1131.95 529.14M1134.26 507.26 1136.55 485.63 1139.4 459.32 1142.25 434.31 1143 428 1145.09 410.7 1147.94 387.8 1150.79 366.66 1151.43 362.47M1155.03 340.77 1156.49 332.56 1159.34 318.4 1162.19 305.5 1163 302 1165.03 293.55 1167.88 282.47 1170.73 272.32M1176.43 254.64 1179.28 246.86 1182.13 239.93 1183 238 1184.97 233.83 1187.82 228.24 1190.67 223.34M1196.37 215.7 1199.22 212.22 1202.07 209 1204.91 206.15 1207.76 203.77 1210.61 201.97M1216.31 200.06 1219.16 199.34 1222.01 198.71 1224.85 198.19 1227.7 197.8 1230.55 197.57M1236.25 197.76 1239.1 198.36 1241.95 199.23 1244.79 200.32 1247.64 201.54 1250.49 202.85M1256.19 205.67 1259.04 207.48 1261.89 209.55 1264.73 211.83 1267.58 214.27 1270.43 216.83M1276.13 222.31 1278.98 225.44 1281.83 228.81 1284.67 232.34 1287.52 235.98 1290.37 239.65M1296.07 247 1298.92 250.78 1301.77 254.64 1304.61 258.57 1307.46 262.56 1310.31 266.59M1316.01 274.81 1318.86 279.02 1321.71 283.29 1324.55 287.61 1327.4 291.98 1330.25 296.38M1335.95 305.3 1338.8 309.85 1341.65 314.44 1344.49 319.07 1347.34 323.7 1350.19 328.33M1355.89 337.53 1358.74 342.16 1361.59 346.8 1364.43 351.42 1367.28 355.99 1370.13 360.5M1375.83 369.25 1378.68 373.51 1381.53 377.71 1384.37 381.87 1387.22 386 1390.07 390.11M1395.77 398.36 1398.62 402.49 1401.47 406.6 1404.31 410.69 1407.16 414.73 1410.01 418.7M1415.71 426.4 1418.56 430.16 1421.41 433.87 1424.25 437.53 1427.1 441.12 1429.95 444.64M1435.65 451.48 1438.5 454.8 1441.35 458.05 1444.19 461.25 1447.04 464.41 1449.89 467.54M1455.59 473.71 1458.44 476.74 1461.29 479.75 1464.13 482.72 1466.98 485.65 1469.83 488.54M1475.53 494.2 1478.38 496.99 1481.23 499.75 1484.07 502.46 1486.92 505.12 1489.77 507.72M1495.47 512.69 1498.32 515.08 1501.17 517.42 1504.01 519.7 1506.86 521.94 1509.71 524.15M1515.41 528.46 1518.26 530.57 1521.11 532.65 1523.95 534.7 1526.8 536.7 1529.65 538.66M1535.35 542.43 1538.2 544.24 1541.05 546.02 1543.89 547.76 1546.74 549.47 1549.59 551.16M1555.29 554.52 1558.14 556.17 1560.99 557.8 1563.83 559.41 1566.68 561 1569.53 562.57M1575.23 565.66 1578.08 567.18 1580.93 568.69 1583.77 570.17 1586.62 571.64 1589.47 573.08M1595.17 575.92 1598.02 577.31 1600.87 578.69 1603.71 580.05 1606.56 581.39 1609.41 582.71M1615.11 585.28 1617.96 586.54 1620.81 587.78 1623.65 589 1626.5 590.21 1629.35 591.39M1635.05 593.66 1637.9 594.73 1640.75 595.77 1643.59 596.8 1646.44 597.83 1649.29 598.9M1654.99 601.11 1657.84 602.11 1660.69 603.09 1663.53 604.14 1666.38 605.36 1669.23 606.82M1674.93 611.09 1677.78 614.74 1680.63 619.69 1683.47 626.01 1685 630 1686.32 634.5 1689.17 649.4 1691.13 664M1693.53 685.86 1694.8 700.9 1696.2 716 1698 690 1700 640 1703 609 1706.26 607.4 1709.11 606.67M1714.81 606.54 1717.66 607.1 1720.51 607.96 1723.35 609.01 1726.2 610.13 1729.05 611.21M1734.75 612.88 1737.6 613.61 1740.45 614.31 1743.29 614.99 1746.14 615.65 1748.99 616.27M1754.69 617.43 1757.54 617.95 1760.39 618.45 1763.23 618.93 1766.08 619.41 1768.93 619.88M1774.63 620.88 1777.48 621.39 1780.33 621.91 1783.17 622.42 1786.02 622.94 1788.87 623.45M1794.57 624.46 1797.42 624.94 1800.27 625.41 1803.11 625.89 1805.96 626.38 1808.81 626.89M1814.51 628 1817.36 628.55 1820.21 629.12 1823.05 629.72 1825.9 630.41 1828.75 631.19M1834.45 633.24 1837.3 634.72 1840.15 636.63 1842.99 639.03 1844 640 1845.84 642.18 1848.69 646.97M1854.39 663.31 1857.24 679.55 1858.5 689.1 1860.09 709.31 1861.5 730 1863.3 750.5 1865 720 1865.78 690.62 1867.5 620 1868.63 602.27 1871.04 583.02M1874.33 572.72 1877.18 575.51 1880.03 579.84 1882.87 584.91 1885.72 589.92 1888.57 594.07M1894.27 597.32 1897.12 597.86 1899.97 598.33 1902.81 598.71 1905.66 599 1908.51 599.2M1914.21 599.25 1917.06 599.01 1919.91 598.6 1922.75 598.06 1925.6 597.41 1928.45 596.7M1934.15 595.18 1937 594.23 1939.85 593.1 1942.69 591.8 1945.54 590.35 1948.39 588.74 1951.24 586.99M1954.09 584.96 1956.94 582.32 1959.79 579.34 1962 577 1962.63 576.4 1965.48 574.5 1968.33 571.85" fill="none" stroke="#000000" stroke-width="4.5" stroke-linecap="round" stroke-linejoin="round"/>
<circle cx="1133.1" cy="518.2" r="8.2" fill="url(#sk)"/><circle cx="1153.1" cy="351.6" r="8.2" fill="url(#sk)"/><circle cx="1173.1" cy="264.6" r="8.2" fill="url(#sk)"/><circle cx="1193" cy="220" r="8.2" fill="url(#sk)"/><circle cx="1213" cy="201" r="8.2" fill="url(#sk)"/><circle cx="1233" cy="197.5" r="8.2" fill="url(#sk)"/><circle cx="1253" cy="204" r="8.2" fill="url(#sk)"/><circle cx="1273" cy="219.2" r="8.2" fill="url(#sk)"/><circle cx="1292.9" cy="242.9" r="8.2" fill="url(#sk)"/><circle cx="1312.9" cy="270.3" r="8.2" fill="url(#sk)"/><circle cx="1332.9" cy="300.5" r="8.2" fill="url(#sk)"/><circle cx="1352.9" cy="332.7" r="8.2" fill="url(#sk)"/><circle cx="1372.9" cy="364.8" r="8.2" fill="url(#sk)"/><circle cx="1392.9" cy="394.2" r="8.2" fill="url(#sk)"/><circle cx="1412.8" cy="422.5" r="8.2" fill="url(#sk)"/><circle cx="1432.8" cy="448.1" r="8.2" fill="url(#sk)"/><circle cx="1452.8" cy="470.7" r="8.2" fill="url(#sk)"/><circle cx="1472.8" cy="491.5" r="8.2" fill="url(#sk)"/><circle cx="1492.8" cy="510.4" r="8.2" fill="url(#sk)"/><circle cx="1512.8" cy="526.5" r="8.2" fill="url(#sk)"/><circle cx="1532.7" cy="540.7" r="8.2" fill="url(#sk)"/><circle cx="1552.7" cy="553" r="8.2" fill="url(#sk)"/><circle cx="1572.7" cy="564.3" r="8.2" fill="url(#sk)"/><circle cx="1592.7" cy="574.7" r="8.2" fill="url(#sk)"/><circle cx="1612.7" cy="584.2" r="8.2" fill="url(#sk)"/><circle cx="1632.6" cy="592.7" r="8.2" fill="url(#sk)"/><circle cx="1652.6" cy="600.2" r="8.2" fill="url(#sk)"/><circle cx="1672.6" cy="609" r="8.2" fill="url(#sk)"/><circle cx="1692.6" cy="674.9" r="8.2" fill="url(#sk)"/><circle cx="1712.6" cy="606.4" r="8.2" fill="url(#sk)"/><circle cx="1732.5" cy="612.3" r="8.2" fill="url(#sk)"/><circle cx="1752.5" cy="617" r="8.2" fill="url(#sk)"/><circle cx="1772.5" cy="620.5" r="8.2" fill="url(#sk)"/><circle cx="1792.5" cy="624.1" r="8.2" fill="url(#sk)"/><circle cx="1812.5" cy="627.6" r="8.2" fill="url(#sk)"/><circle cx="1832.4" cy="632.4" r="8.2" fill="url(#sk)"/><circle cx="1852.4" cy="656" r="8.2" fill="url(#sk)"/><circle cx="1872.4" cy="572.1" r="8.2" fill="url(#sk)"/><circle cx="1892.3" cy="596.9" r="8.2" fill="url(#sk)"/><circle cx="1912.3" cy="599.3" r="8.2" fill="url(#sk)"/><circle cx="1932.3" cy="595.7" r="8.2" fill="url(#sk)"/><circle cx="1952.3" cy="586.3" r="8.2" fill="url(#sk)"/><circle cx="1970.6" cy="567.4" r="8.2" fill="url(#sk)"/>
</g>
<rect x="1115.3" y="73" width="856.1" height="689.8" fill="none" stroke="#000" stroke-width="3.2"/>
<path d="M1222.31 762.8v-6.6M1222.31 73v6.6M1329.33 762.8v-12.8M1329.33 73v12.8M1436.34 762.8v-6.6M1436.34 73v6.6M1543.35 762.8v-12.8M1543.35 73v12.8M1650.36 762.8v-6.6M1650.36 73v6.6M1757.38 762.8v-12.8M1757.38 73v12.8M1864.39 762.8v-6.6M1864.39 73v6.6M1115.3 693.82h6.6M1971.4 693.82h-6.6M1115.3 624.84h12.8M1971.4 624.84h-12.8M1115.3 555.86h6.6M1971.4 555.86h-6.6M1115.3 486.88h12.8M1971.4 486.88h-12.8M1115.3 417.9h6.6M1971.4 417.9h-6.6M1115.3 348.92h12.8M1971.4 348.92h-12.8M1115.3 279.94h6.6M1971.4 279.94h-6.6M1115.3 210.96h12.8M1971.4 210.96h-12.8M1115.3 141.98h6.6M1971.4 141.98h-6.6" stroke="#000" stroke-width="3" fill="none"/>
<rect x="1198.5" y="74.7" width="85.9" height="689.7" fill="url(#bandB)"/>
<g font-family="'Liberation Serif','Times New Roman',serif" font-weight="bold" font-size="32" fill="#000">
<text x="1123.9" y="803.3" text-anchor="middle">0</text>
<text x="1337.92" y="803.3" text-anchor="middle">3</text>
<text x="1551.95" y="803.3" text-anchor="middle">6</text>
<text x="1765.97" y="803.3" text-anchor="middle">9</text>
<text x="1980" y="803.3" text-anchor="middle">12</text>
<text x="1101.6" y="773.4" text-anchor="end">0.0</text>
<text x="1101.6" y="635.44" text-anchor="end">0.2</text>
<text x="1101.6" y="497.48" text-anchor="end">0.4</text>
<text x="1101.6" y="359.52" text-anchor="end">0.6</text>
<text x="1101.6" y="221.56" text-anchor="end">0.8</text>
<text x="1101.6" y="83.6" text-anchor="end">1.0</text>
</g>
<g font-family="'Liberation Serif','Times New Roman',serif" font-weight="bold" font-size="39" fill="#000">
<text x="1557.9" y="839.6" text-anchor="middle">Frequency(GHz)</text>
<text transform="translate(1044.5 417.5) rotate(-90)" text-anchor="middle">Transmission Coefficient</text>
</g>
<text x="1009.9" y="33.2" font-family="'Liberation Sans',Arial,sans-serif" font-weight="bold" font-size="42" fill="#000">(b)</text>
<line x1="1445.3" y1="158.9" x2="1532.9" y2="158.9" stroke="#ff0000" stroke-width="4.8" stroke-linecap="round"/>
<circle cx="1489.1" cy="158.9" r="7.0" fill="url(#sr)"/>
<text x="1544.4" y="173.8" font-family="'Liberation Serif','Times New Roman',serif" font-weight="bold" font-size="38.5" fill="#000">TM 0°</text>
<line x1="1445.3" y1="208" x2="1532.9" y2="208" stroke="#ff00ff" stroke-width="4.8" stroke-linecap="round"/>
<circle cx="1489.1" cy="208" r="7.0" fill="url(#sm)"/>
<text x="1544.4" y="222.9" font-family="'Liberation Serif','Times New Roman',serif" font-weight="bold" font-size="38.5" fill="#000">TM 20°</text>
<line x1="1445.3" y1="256.7" x2="1532.9" y2="256.7" stroke="#00ff00" stroke-width="4.8" stroke-linecap="round"/>
<circle cx="1489.1" cy="256.7" r="7.0" fill="url(#sg)"/>
<text x="1544.4" y="271.6" font-family="'Liberation Serif','Times New Roman',serif" font-weight="bold" font-size="38.5" fill="#000">TM 40°</text>
<line x1="1445.3" y1="305.9" x2="1532.9" y2="305.9" stroke="#0000ff" stroke-width="4.8" stroke-linecap="round"/>
<circle cx="1489.1" cy="305.9" r="7.0" fill="url(#sb)"/>
<text x="1544.4" y="320.8" font-family="'Liberation Serif','Times New Roman',serif" font-weight="bold" font-size="38.5" fill="#000">TM 60°</text>
<line x1="1445.3" y1="355" x2="1532.9" y2="355" stroke="#000000" stroke-width="4.8" stroke-linecap="round"/>
<circle cx="1489.1" cy="355" r="8.0" fill="url(#sk)"/>
<text x="1544.4" y="369.9" font-family="'Liberation Serif','Times New Roman',serif" font-weight="bold" font-size="38.5" fill="#000">TM 80°</text>
<g clip-path="url(#clipc)"><path d="M129.4 911 131.95 911.35 134.8 911.92 137.65 912.65 140.5 913.51 143.35 914.47M149.05 916.69 151.9 918.12 154.75 919.77 157.6 921.61 160.45 923.6 163.3 925.73M169 930.25 171.85 932.64 174.7 935.24 177.55 938.16 180.4 941.5 183.25 945.39M188.95 955.71 191.81 963.34 194.66 972.72 197.5 983.81 200.35 996.54 203.21 1010.88 204.16 1016.17M207.51 1037.91 208.91 1048.72 211.76 1078.29 214.61 1110.16 216 1125 217.46 1139.72 220.31 1168.16 223.16 1197.98 225.07 1220.34M226.72 1242.28 228.86 1275.04 230 1290 231.71 1307.58 234 1324 237.5 1334 240.26 1329.83 242 1325 243.11 1321 245.96 1305.82 245.96 1305.81M250.5 1284.3 251.66 1274.72 254.51 1238.39 256 1220 257.36 1205.27 260.21 1175.83 262 1160 263.06 1151.81 265.91 1132.44 266.18 1130.85M269.92 1109.17 271.61 1099.65 274.46 1084.25 277.31 1069.78 280.16 1056.55 283.01 1044.88M288.71 1026.78 291.56 1019.18 294.42 1012.27 297.26 1006 300.12 1000.34 302.97 995.25M308.67 986.52 311.52 982.67 314.37 979.13 317.22 975.88 320.07 972.9 322.92 970.19M328.62 965.47 331.47 963.38 334.32 961.45 337.17 959.66 340.02 957.99 342.87 956.44M348.57 953.64 351.42 952.38 354.27 951.2 357.12 950.08 359.97 949.02 362.82 948M368.52 946.07 371.37 945.19 374.22 944.36 377.07 943.55 379.92 942.73 382.77 941.88M388.47 939.96 391.32 938.79 394.18 937.56 397.02 936.38 399.88 935.32 402.73 934.5M408.43 933.71 411.28 933.45 414.13 933.2 416.98 932.98 419.83 932.79 422.68 932.61M428.38 932.29 431.23 932.16 434.08 932.04 436.93 931.93 439.78 931.82 442.63 931.73M448.33 931.55 450 931.5 451.18 931.47 454.03 931.39 456.88 931.31 459.73 931.24 462.58 931.17M468.28 931.05 471.13 931 473.98 930.94 476.83 930.89 479.68 930.84 482.53 930.79M488.23 930.7 491.08 930.65 493.94 930.6 496.79 930.56 500 930.5 502.49 930.46M508.19 930.36 511.04 930.31 513.89 930.26 516.74 930.22 519.59 930.17 522.44 930.12M528.14 930.03 530.99 929.99 533.84 929.94 536.69 929.9 539.54 929.85 542.39 929.81M548.09 929.73 550.94 929.68 553.79 929.64 556.64 929.6 559.49 929.56 562.34 929.52M568.04 929.44 570.89 929.39 573.74 929.36 576.59 929.32 579.44 929.28 582.29 929.24M587.99 929.16 590.85 929.12 593.7 929.08 596.54 929.05 599.39 929.01 600 929 602.25 928.97M607.95 928.91 610.8 928.88 613.65 928.85 616.5 928.83 619.35 928.8 622.2 928.78M627.9 928.74 630.75 928.72 633.6 928.7 636.45 928.67 639.3 928.65 642.15 928.63M647.85 928.58 650.7 928.56 653.55 928.53 656.4 928.5 659.25 928.46 662.1 928.43M667.8 928.34 670.65 928.3 673.5 928.25 676.35 928.19 679.2 928.13 682.05 928.07M687.75 927.88 690.61 927.67 693.46 927.4 696.3 927.08 699.15 926.73 702.01 926.37M707.71 925.7 710.56 925.35 713.41 924.99 716.26 924.62 719.11 924.23 721.96 923.84M727.66 923.03 730.51 922.62 733.36 922.2 736.21 921.78 739.06 921.37 741.91 920.95M747.61 920.1 750.46 919.62 753.31 919.12 756.16 918.63 759.01 918.19 761.86 917.81M767.56 917.31 770.41 917.1 773.26 916.92 776.11 916.75 778.96 916.62 781.81 916.54M787.51 916.5 790.37 916.5 793.22 916.5 796.07 916.5 798.91 916.5 801.77 916.5M807.47 916.49 810.32 916.46 813.17 916.43 816.02 916.38 818.87 916.34 821.72 916.31M827.42 916.3 830.27 916.3 833.12 916.3 835.97 916.3 838.82 916.3 841.67 916.3M847.37 916.27 850.22 916.19 853.07 916.06 855.92 915.9 858.77 915.73 861.62 915.56M867.32 915.28 870.17 915.15 873.02 915.01 875.87 914.87 878.72 914.74 881.57 914.62M887.27 914.43 890.12 914.35 892.98 914.28 895.83 914.21 898.67 914.15 901.53 914.08M907.23 913.94 910.08 913.87 912.93 913.8 915.78 913.73 918.63 913.66 921.48 913.59M927.18 913.44 930.03 913.35 932.88 913.26 935.73 913.17 938.58 913.09 941.43 913.03M947.13 913 949.98 913 952.83 913 955.68 913 958.53 913 961.38 913M967.08 913 969.93 913 972.78 913 975.63 913 978.48 913 981.33 913" fill="none" stroke="#ff0000" stroke-width="4.5" stroke-linecap="round" stroke-linejoin="round"/>
<circle cx="146.2" cy="915.5" r="7.2" fill="url(#sr)"/><circle cx="166.2" cy="928" r="7.2" fill="url(#sr)"/><circle cx="186.1" cy="949.9" r="7.2" fill="url(#sr)"/><circle cx="206.1" cy="1027" r="7.2" fill="url(#sr)"/><circle cx="226" cy="1231.3" r="7.2" fill="url(#sr)"/><circle cx="248" cy="1295" r="7.2" fill="url(#sr)"/><circle cx="268" cy="1120" r="7.2" fill="url(#sr)"/><circle cx="285.9" cy="1035" r="7.2" fill="url(#sr)"/><circle cx="305.8" cy="990.7" r="7.2" fill="url(#sr)"/><circle cx="325.8" cy="967.7" r="7.2" fill="url(#sr)"/><circle cx="345.7" cy="955" r="7.2" fill="url(#sr)"/><circle cx="365.7" cy="947" r="7.2" fill="url(#sr)"/><circle cx="385.6" cy="941" r="7.2" fill="url(#sr)"/><circle cx="405.6" cy="934" r="7.2" fill="url(#sr)"/><circle cx="425.53" cy="932.44" r="7.2" fill="url(#sr)"/><circle cx="445.48" cy="931.64" r="7.2" fill="url(#sr)"/><circle cx="465.43" cy="931.11" r="7.2" fill="url(#sr)"/><circle cx="485.38" cy="930.74" r="7.2" fill="url(#sr)"/><circle cx="505.34" cy="930.41" r="7.2" fill="url(#sr)"/><circle cx="525.29" cy="930.08" r="7.2" fill="url(#sr)"/><circle cx="545.24" cy="929.77" r="7.2" fill="url(#sr)"/><circle cx="565.19" cy="929.48" r="7.2" fill="url(#sr)"/><circle cx="585.14" cy="929.2" r="7.2" fill="url(#sr)"/><circle cx="605.1" cy="928.94" r="7.2" fill="url(#sr)"/><circle cx="625.05" cy="928.76" r="7.2" fill="url(#sr)"/><circle cx="645" cy="928.61" r="7.2" fill="url(#sr)"/><circle cx="664.95" cy="928.39" r="7.2" fill="url(#sr)"/><circle cx="685" cy="928" r="7.2" fill="url(#sr)"/><circle cx="705.1" cy="926" r="7.2" fill="url(#sr)"/><circle cx="724.81" cy="923.44" r="7.2" fill="url(#sr)"/><circle cx="745" cy="920.5" r="7.2" fill="url(#sr)"/><circle cx="765" cy="917.5" r="7.2" fill="url(#sr)"/><circle cx="785" cy="916.5" r="7.2" fill="url(#sr)"/><circle cx="805" cy="916.5" r="7.2" fill="url(#sr)"/><circle cx="824.8" cy="916.3" r="7.2" fill="url(#sr)"/><circle cx="844.8" cy="916.3" r="7.2" fill="url(#sr)"/><circle cx="864.8" cy="915.4" r="7.2" fill="url(#sr)"/><circle cx="885" cy="914.5" r="7.2" fill="url(#sr)"/><circle cx="905" cy="914" r="7.2" fill="url(#sr)"/><circle cx="925" cy="913.5" r="7.2" fill="url(#sr)"/><circle cx="945" cy="913" r="7.2" fill="url(#sr)"/><circle cx="965" cy="913" r="7.2" fill="url(#sr)"/><circle cx="984.18" cy="913" r="7.2" fill="url(#sr)"/>
</g>
<g clip-path="url(#clipc)"><path d="M129.4 911 131.95 911.24 134.8 911.66 137.65 912.23 140.5 912.91 143.35 913.68M149.05 915.46 151.9 916.65 154.75 918.03 157.6 919.58 160.45 921.28 163.3 923.08M169 926.9 171.85 928.93 174.7 931.14 177.55 933.63 180.4 936.49 183.25 939.82M188.95 948.75 191.81 955.45 194.66 963.75 197.5 973.58 200.35 984.9 203.21 997.65 203.92 1001.22M207.69 1022.88 208.91 1031.18 211.76 1057.37 214.61 1086.19 216 1100 217.46 1114.16 220.31 1142.66 223.16 1173 225.06 1195.04M226.76 1216.97 228.86 1247.17 232 1290 234.56 1314.72 236 1324 237.41 1330.2 239.5 1335 240.26 1334.54 243 1328 245.96 1310.62 246.58 1305.91M249.43 1284.09 251.4 1269 254.51 1237.42 257.36 1206.38 258 1200 260.21 1178.48 263.06 1151.79 264.65 1138.92M267.62 1117.12 268.76 1109.48 271.61 1092.64 275 1075 277.31 1063.83 280.16 1050.83 283.01 1039.28M288.71 1021.98 291.56 1014.9 294.42 1008.48 297.26 1002.65 300.12 997.34 302.97 992.47M308.67 983.75 311.52 979.77 314.37 976.06 317.22 972.62 320.07 969.47 322.92 966.63M328.62 961.87 331.47 959.76 334.32 957.81 337.17 956.02 340.02 954.41 342.87 952.96M348.57 950.58 351.42 949.6 354.27 948.7 357.12 947.87 359.97 947.09 362.82 946.31M368.52 944.73 371.37 944 374.22 943.29 377.07 942.59 379.92 941.85 382.77 941.06M388.47 939.09 391.32 937.73 394.18 936.26 397.02 934.8 399.88 933.52 402.73 932.54M408.43 931.76 411.28 931.54 414.13 931.34 416.98 931.17 419.83 931.01 422.68 930.87M428.38 930.63 431.23 930.53 434.08 930.44 436.93 930.35 439.78 930.27 442.63 930.2M448.33 930.05 450 930 451.18 929.97 454.03 929.89 456.88 929.82 459.73 929.75 462.58 929.68M468.28 929.55 471.13 929.49 473.98 929.43 476.83 929.38 479.68 929.32 482.53 929.27M488.23 929.18 491.08 929.13 493.94 929.09 496.79 929.05 500 929 502.49 928.97M508.19 928.89 511.04 928.86 513.89 928.82 516.74 928.79 519.59 928.76 522.44 928.73M528.14 928.67 530.99 928.65 533.84 928.62 536.69 928.59 539.54 928.57 542.39 928.54M548.09 928.49 550.94 928.47 553.79 928.44 556.64 928.42 559.49 928.39 562.34 928.37M568.04 928.32 570.89 928.29 573.74 928.27 576.59 928.24 579.44 928.22 582.29 928.19M587.99 928.13 590.85 928.1 593.7 928.07 596.54 928.04 599.39 928.01 600 928 602.25 927.97M607.95 927.91 610.8 927.88 613.65 927.86 616.5 927.83 619.35 927.8 622.2 927.78M627.9 927.73 630.75 927.7 633.6 927.67 636.45 927.64 639.3 927.61 642.15 927.58M647.85 927.52 650.7 927.48 653.55 927.44 656.4 927.4 659.25 927.36 662.1 927.31M667.8 927.21 670.65 927.15 673.5 927.09 676.35 927.03 679.2 926.96 682.05 926.88M687.75 926.68 690.61 926.48 693.46 926.22 696.3 925.93 699.15 925.62 702.01 925.31M707.71 924.75 710.56 924.48 713.41 924.21 716.26 923.93 719.11 923.65 721.96 923.37M727.66 922.8 730.51 922.51 733.36 922.22 736.21 921.92 739.06 921.63 741.91 921.33M747.61 920.71 750.46 920.39 753.31 920.04 756.16 919.69 759.01 919.33 761.86 918.97M767.56 918.26 770.41 917.92 773.26 917.6 776.11 917.29 778.96 917.01 781.81 916.75M787.51 916.31 790.37 916.1 793.22 915.89 796.07 915.7 798.91 915.55 801.77 915.44M807.47 915.61 810.32 916.28 813.17 917.26 815 918 816.02 918.48 818.87 920.47 821.72 923.64M827.42 937.45 830 957 832.5 1050 833.12 1089.97 834.5 1200 836.5 1327.3 838.5 1250 840.6 1194.5 842 1080 844.53 976M846.39 954.12 847.37 947.42 850.22 937.83 851.3 935.8 853.07 933.12 855.92 929.73 858.77 927.21 861.62 925.26M867.32 921.98 870.17 920.45 873.02 919.04 875.87 917.8 878.72 916.76 881.57 915.95M887.27 915.12 890.12 914.87 892.98 914.66 895.83 914.49 898.67 914.34 901.53 914.19M907.23 913.86 910.08 913.68 912.93 913.49 915.78 913.31 918.63 913.16 921.48 913.05M927.18 913 930.03 913 932.88 913 935.73 913 938.58 913 941.43 913M947.13 912.99 949.98 912.95 952.83 912.88 955.68 912.79 958.53 912.7 961.38 912.6M967.08 912.45 969.93 912.38 972.78 912.31 975.63 912.23 978.48 912.16 981.33 912.09" fill="none" stroke="#ff00ff" stroke-width="4.5" stroke-linecap="round" stroke-linejoin="round"/>
<circle cx="146.2" cy="914.5" r="7.2" fill="url(#sm)"/><circle cx="166.2" cy="925" r="7.2" fill="url(#sm)"/><circle cx="186.1" cy="943.7" r="7.2" fill="url(#sm)"/><circle cx="206.1" cy="1012" r="7.2" fill="url(#sm)"/><circle cx="226" cy="1206" r="7.2" fill="url(#sm)"/><circle cx="248" cy="1295" r="7.2" fill="url(#sm)"/><circle cx="266" cy="1128" r="7.2" fill="url(#sm)"/><circle cx="285.9" cy="1029.7" r="7.2" fill="url(#sm)"/><circle cx="305.8" cy="988" r="7.2" fill="url(#sm)"/><circle cx="325.8" cy="964.1" r="7.2" fill="url(#sm)"/><circle cx="345.7" cy="951.7" r="7.2" fill="url(#sm)"/><circle cx="365.7" cy="945.5" r="7.2" fill="url(#sm)"/><circle cx="385.6" cy="940.2" r="7.2" fill="url(#sm)"/><circle cx="405.6" cy="932" r="7.2" fill="url(#sm)"/><circle cx="425.53" cy="930.74" r="7.2" fill="url(#sm)"/><circle cx="445.48" cy="930.12" r="7.2" fill="url(#sm)"/><circle cx="465.43" cy="929.61" r="7.2" fill="url(#sm)"/><circle cx="485.38" cy="929.22" r="7.2" fill="url(#sm)"/><circle cx="505.34" cy="928.93" r="7.2" fill="url(#sm)"/><circle cx="525.29" cy="928.7" r="7.2" fill="url(#sm)"/><circle cx="545.24" cy="928.52" r="7.2" fill="url(#sm)"/><circle cx="565.19" cy="928.34" r="7.2" fill="url(#sm)"/><circle cx="585.14" cy="928.16" r="7.2" fill="url(#sm)"/><circle cx="605.1" cy="927.94" r="7.2" fill="url(#sm)"/><circle cx="625.05" cy="927.75" r="7.2" fill="url(#sm)"/><circle cx="645" cy="927.55" r="7.2" fill="url(#sm)"/><circle cx="664.95" cy="927.26" r="7.2" fill="url(#sm)"/><circle cx="685" cy="926.8" r="7.2" fill="url(#sm)"/><circle cx="705.1" cy="925" r="7.2" fill="url(#sm)"/><circle cx="724.81" cy="923.08" r="7.2" fill="url(#sm)"/><circle cx="745" cy="921" r="7.2" fill="url(#sm)"/><circle cx="764.71" cy="918.61" r="7.2" fill="url(#sm)"/><circle cx="785" cy="916.5" r="7.2" fill="url(#sm)"/><circle cx="804.9" cy="915.4" r="7.2" fill="url(#sm)"/><circle cx="824.8" cy="928.7" r="7.2" fill="url(#sm)"/><circle cx="844.8" cy="965" r="7.2" fill="url(#sm)"/><circle cx="864.8" cy="923.4" r="7.2" fill="url(#sm)"/><circle cx="884.7" cy="915.4" r="7.2" fill="url(#sm)"/><circle cx="905" cy="914" r="7.2" fill="url(#sm)"/><circle cx="925" cy="913" r="7.2" fill="url(#sm)"/><circle cx="945" cy="913" r="7.2" fill="url(#sm)"/><circle cx="965" cy="912.5" r="7.2" fill="url(#sm)"/><circle cx="984.18" cy="912.02" r="7.2" fill="url(#sm)"/>
</g>
<g clip-path="url(#clipc)"><path d="M129.4 911 131.95 911.26 134.8 911.61 137.65 912.02 140.5 912.47 143.35 912.97M149.05 914.07 151.9 914.69 154.75 915.38 157.6 916.14 160.45 916.99 163.3 917.93M169 920.17 171.85 921.54 174.7 923.12 177.55 924.95 180.4 927.05 183.25 929.46M188.95 935.65 191.81 940.14 194.66 945.63 197.5 952.12 200.35 959.56 203.21 967.95M208.56 988.12 208.91 989.63 211.76 1006.25 214.61 1025.32 216 1035 217.46 1045.29 220.31 1066.92 223.16 1091.85 224.95 1110.55M226.72 1132.48 228.86 1164.84 231.5 1207.5 234.56 1249.67 237.41 1284.08 239.2 1299.7 240.26 1307.16 243.11 1325.29M249 1332 252 1305 254.51 1264.49 256 1240 257.36 1222.02 260.21 1188.66 261 1180 263.06 1157.81 264.84 1140.94M267.42 1119.09 268.76 1108.81 271.61 1089.6 275 1070 277.31 1058.09 280.16 1044.55 283.01 1032.63M288.71 1014.25 291.56 1006.45 294.42 999.3 297.26 992.81 300.12 987 302.97 981.85M308.67 973.44 311.52 969.86 314.37 966.61 317.22 963.65 320.07 960.94 322.92 958.44M328.62 953.95 331.47 951.9 334.32 949.98 337.17 948.2 340.02 946.56 342.87 945.05M348.57 942.45 351.42 941.29 354.27 940.21 357.12 939.21 359.97 938.28 362.82 937.41M368.52 935.87 371.37 935.2 374.22 934.58 377.07 933.99 379.92 933.41 382.77 932.82M388.47 931.49 391.32 930.72 394.18 929.92 397.02 929.15 399.88 928.47 402.73 927.94M408.43 927.39 411.28 927.19 414.13 927.01 416.98 926.83 419.83 926.67 422.68 926.52M428.38 926.26 431.23 926.15 434.08 926.05 436.93 925.97 439.78 925.91 442.63 925.86M448.33 925.8 450 925.8 451.18 925.8 454.03 925.81 456.88 925.83 459.73 925.85 462.58 925.88M468.28 925.95 471.13 925.99 473.98 926.03 476.83 926.08 479.68 926.12 482.53 926.16M488.23 926.23 491.08 926.26 493.94 926.28 496.79 926.29 500 926.3 502.49 926.3M508.19 926.3 511.04 926.29 513.89 926.29 516.74 926.29 519.59 926.28 522.44 926.28M528.14 926.26 530.99 926.26 533.84 926.25 536.69 926.24 539.54 926.23 542.39 926.23M548.09 926.21 550.94 926.2 553.79 926.19 556.64 926.18 559.49 926.17 562.34 926.15M568.04 926.13 570.89 926.12 573.74 926.11 576.59 926.1 579.44 926.08 582.29 926.07M587.99 926.05 590.85 926.04 593.7 926.03 596.54 926.01 599.39 926 600 926 602.25 925.99M607.95 925.97 610.8 925.96 613.65 925.95 616.5 925.94 619.35 925.94 622.2 925.93M627.9 925.91 630.75 925.9 633.6 925.89 636.45 925.88 639.3 925.87 642.15 925.86M647.85 925.83 650.7 925.82 653.55 925.8 656.4 925.78 659.25 925.76 662.1 925.74M667.8 925.7 670.65 925.67 673.5 925.64 676.35 925.61 679.2 925.58 682.05 925.54M687.75 925.35 690.61 925 693.46 924.51 696.3 923.91 699.15 923.27 702.01 922.63M707.71 921.5 710.56 920.92 713.41 920.32 716.26 919.72 719.11 919.13 721.96 918.57M727.66 917.56 730.51 917.06 733.36 916.58 736.21 916.13 739.06 915.71 741.91 915.34M747.61 914.75 750.46 914.47 753.31 914.2 756.16 913.97 759.01 913.78 761.86 913.65M767.56 913.66 770.41 913.85 773.26 914.15 776.11 914.56 778.96 915.05 781.81 915.61M787.51 917.06 790.37 918.33 793.22 919.9 795 921 796.07 921.66 798.91 923.55 801.77 926.1M807.47 940.17 810 955 813.17 975.76 814 983.6 816.02 1020.13 818 1060 818.87 1070.68 822.3 1110 824.57 1194.46 825.6 1251M825.94 1273 827.6 1400 829.8 1519 831.8 1400 833.12 1312.5 834 1262 835.97 1185.62 837.1 1150 838.82 1098.57 840.5 1060 841.67 1042.01 844.52 1009.04 844.56 1008.73M847.19 986.89 847.37 985.51 850.22 968.12 851 965 853.07 958.64 855.92 951.97 858.77 946.8 860.1 944.6 861.62 942.16M867.32 936.24 870.17 934.34 873.02 932.7 875.87 931.3 878.72 930.09 881.57 929.06M887.27 927.39 890.12 926.7 892.98 926.1 895.83 925.56 898.67 925.06 901.53 924.58M907.23 923.62 910.08 923.15 912.93 922.69 915.78 922.25 918.63 921.84 921.48 921.45M927.18 920.74 930.03 920.41 932.88 920.09 935.73 919.79 938.58 919.52 941.43 919.27M947.13 918.87 949.98 918.7 952.83 918.56 955.68 918.43 958.53 918.3 961.38 918.17M967.08 917.9 969.93 917.75 972.78 917.61 975.63 917.47 978.48 917.33 981.33 917.18" fill="none" stroke="#00ff00" stroke-width="4.5" stroke-linecap="round" stroke-linejoin="round"/>
<circle cx="146.2" cy="913.5" r="7.2" fill="url(#sg)"/><circle cx="166.2" cy="919" r="7.2" fill="url(#sg)"/><circle cx="186.1" cy="932.2" r="7.2" fill="url(#sg)"/><circle cx="206.1" cy="977.4" r="7.2" fill="url(#sg)"/><circle cx="226" cy="1121.5" r="7.2" fill="url(#sg)"/><circle cx="246" cy="1333.5" r="7.2" fill="url(#sg)"/><circle cx="266" cy="1130" r="7.2" fill="url(#sg)"/><circle cx="285.9" cy="1022.6" r="7.2" fill="url(#sg)"/><circle cx="305.8" cy="977.4" r="7.2" fill="url(#sg)"/><circle cx="325.8" cy="956.1" r="7.2" fill="url(#sg)"/><circle cx="345.7" cy="943.7" r="7.2" fill="url(#sg)"/><circle cx="365.7" cy="936.6" r="7.2" fill="url(#sg)"/><circle cx="385.6" cy="932.2" r="7.2" fill="url(#sg)"/><circle cx="405.6" cy="927.6" r="7.2" fill="url(#sg)"/><circle cx="425.53" cy="926.38" r="7.2" fill="url(#sg)"/><circle cx="445.48" cy="925.82" r="7.2" fill="url(#sg)"/><circle cx="465.43" cy="925.91" r="7.2" fill="url(#sg)"/><circle cx="485.38" cy="926.2" r="7.2" fill="url(#sg)"/><circle cx="505.34" cy="926.3" r="7.2" fill="url(#sg)"/><circle cx="525.29" cy="926.27" r="7.2" fill="url(#sg)"/><circle cx="545.24" cy="926.22" r="7.2" fill="url(#sg)"/><circle cx="565.19" cy="926.14" r="7.2" fill="url(#sg)"/><circle cx="585.14" cy="926.06" r="7.2" fill="url(#sg)"/><circle cx="605.1" cy="925.98" r="7.2" fill="url(#sg)"/><circle cx="625.05" cy="925.92" r="7.2" fill="url(#sg)"/><circle cx="645" cy="925.85" r="7.2" fill="url(#sg)"/><circle cx="664.95" cy="925.72" r="7.2" fill="url(#sg)"/><circle cx="685" cy="925.5" r="7.2" fill="url(#sg)"/><circle cx="705.1" cy="922" r="7.2" fill="url(#sg)"/><circle cx="725.1" cy="918" r="7.2" fill="url(#sg)"/><circle cx="745" cy="915" r="7.2" fill="url(#sg)"/><circle cx="765" cy="913.6" r="7.2" fill="url(#sg)"/><circle cx="785" cy="916.3" r="7.2" fill="url(#sg)"/><circle cx="804.9" cy="930.4" r="7.2" fill="url(#sg)"/><circle cx="825.8" cy="1262" r="7.2" fill="url(#sg)"/><circle cx="845.8" cy="997.8" r="7.2" fill="url(#sg)"/><circle cx="865" cy="938" r="7.2" fill="url(#sg)"/><circle cx="885" cy="928" r="7.2" fill="url(#sg)"/><circle cx="905" cy="924" r="7.2" fill="url(#sg)"/><circle cx="925" cy="921" r="7.2" fill="url(#sg)"/><circle cx="945" cy="919" r="7.2" fill="url(#sg)"/><circle cx="965" cy="918" r="7.2" fill="url(#sg)"/><circle cx="984.18" cy="917.04" r="7.2" fill="url(#sg)"/>
</g>
<g clip-path="url(#clipc)"><path d="M129.4 911 131.95 911.19 134.8 911.42 137.65 911.67 140.5 911.93 143.35 912.21M149.05 912.79 151.9 913.08 154.75 913.39 157.6 913.72 160.45 914.09 163.3 914.51M169 915.57 171.85 916.28 174.7 917.12 177.55 918.07 180.4 919.14 183.25 920.32M188.95 923.01 191.81 924.62 194.66 926.47 197.5 928.63 200.35 931.14 203.21 934.06M208.91 942.29 211.76 949.21 214.61 957.58 216 962 217.46 966.99 220.31 978.43 223.16 992.22 224.1 997.57M227.51 1019.3 228.86 1029.07 231.71 1054.74 234.56 1083.65 236.1 1100 237.41 1113.64 240.26 1146.23 242.2 1176.8 243.11 1201.02 245.66 1283.31M247.07 1305.25 249 1325 252.2 1334.3 254.5 1330.4 257.36 1289.01 259.1 1253.6 260.21 1233.13 263 1180 265.38 1137.98M267.02 1116.05 268.76 1097.29 271.61 1073.36 275 1050 277.31 1035.27 280.16 1018.57 283.01 1004.33 283.09 1004.04M288.71 985.21 291.56 977.79 294.42 971.23 297.26 965.47 300.12 960.47 302.97 956.18M308.67 949.49 311.52 946.73 314.37 944.28 317.22 942.08 320.07 940.1 322.92 938.29M328.62 935.03 331.47 933.51 334.32 932.09 337.17 930.79 340.02 929.62 342.87 928.62M348.57 927.11 351.42 926.52 354.27 925.98 357.12 925.5 359.97 925.06 362.82 924.63M368.52 923.79 371.37 923.42 374.22 923.06 377.07 922.71 379.92 922.36 382.77 921.99M388.47 921.11 391.32 920.54 394.18 919.92 397.02 919.33 399.88 918.83 402.73 918.46M408.43 918.26 411.28 918.22 414.13 918.19 416.98 918.16 419.83 918.13 422.68 918.11M428.38 918.06 431.23 918.05 434.08 918.03 436.93 918.02 439.78 918.01 442.63 918.01M448.33 918 450 918 451.18 918 454.03 918.02 456.88 918.05 459.73 918.1 462.58 918.16M468.28 918.3 471.13 918.38 473.98 918.47 476.83 918.55 479.68 918.64 482.53 918.72M488.23 918.86 491.08 918.92 493.94 918.96 496.79 918.99 500 919 502.49 919M508.19 919 511.04 919 513.89 919 516.74 919 519.59 919 522.44 919M528.14 919 530.99 919 533.84 919 536.69 919 539.54 919 542.39 919M548.09 919 550.94 919 553.79 919 556.64 919 559.49 919 562.34 919M568.04 919 570.89 919 573.74 919 576.59 919 579.44 919 582.29 919M587.99 919 590.85 919 593.7 919 596.54 919 599.39 919 600 919 602.25 919.01M607.95 919.09 610.8 919.16 613.65 919.24 616.5 919.34 619.35 919.46 622.2 919.59M627.9 919.88 630.75 920.04 633.6 920.21 636.45 920.38 639.3 920.55 642.15 920.73M647.85 921.08 650.7 921.25 653.55 921.42 656.4 921.58 659.25 921.73 662.1 921.87M667.8 922.13 670.65 922.23 673.5 922.33 676.35 922.4 679.2 922.45 682.05 922.49M687.75 922.38 690.61 922.05 693.46 921.58 696.3 921.07 699.15 920.58 702.01 920.2M707.71 919.95 710.56 919.91 713.41 919.87 716.26 919.84 719.11 919.82 721.96 919.81M727.66 919.8 730.51 919.8 733.36 919.8 736.21 919.8 739.06 919.8 741.91 919.8M747.61 919.82 750.46 919.87 753.31 919.97 756.16 920.1 759.01 920.26 761.86 920.45M767.56 921.1 770.41 921.97 773.26 923.24 776.11 924.9 778.96 926.92 781.81 929.25M787.51 935.64 790.37 941.64 792.8 948.2 796.07 961.87 798.91 977.86 799.9 983.6 801.77 994.27 803.42 1006.4M805.7 1028.27 807.47 1052.63 810 1100 813.17 1178.06 814 1194.5 816.02 1222 818.5 1250 821.5 1285 823 1290 824.12 1271.98M825.38 1250.02 827.5 1210 829.5 1180 830.27 1168.51 831.5 1150 833.12 1123.75 836 1080 838.82 1050.33 840 1040 841.67 1026.58 843.16 1016.68M846.92 995.01 847.37 992.73 850.22 980.78 852 975 853.07 972.13 855.92 965.85 858 962 858.77 960.64 861.62 955.96M867.32 948.92 870.17 946.01 873.02 943.33 875.87 940.89 878.72 938.7 881.57 936.75M887.27 933.55 890.12 932.15 892.98 930.87 895.83 929.71 898.67 928.67 901.53 927.76M907.23 926.31 910.08 925.7 912.93 925.15 915.78 924.65 918.63 924.2 921.48 923.79M927.18 923.08 930.03 922.73 932.88 922.39 935.73 922.09 938.58 921.84 941.43 921.67M947.13 921.6 949.98 921.6 952.83 921.6 955.68 921.6 958.53 921.6 961.38 921.6M967.08 921.49 969.93 921.11 972.78 920.49 975.63 919.7 978.48 918.76 981.33 917.72" fill="none" stroke="#0000ff" stroke-width="4.5" stroke-linecap="round" stroke-linejoin="round"/>
<circle cx="146.2" cy="912.5" r="8.2" fill="url(#sb)"/><circle cx="166.2" cy="915" r="8.2" fill="url(#sb)"/><circle cx="186.1" cy="921.6" r="8.2" fill="url(#sb)"/><circle cx="206.1" cy="937.5" r="8.2" fill="url(#sb)"/><circle cx="226" cy="1008.4" r="8.2" fill="url(#sb)"/><circle cx="246" cy="1294.3" r="8.2" fill="url(#sb)"/><circle cx="266" cy="1127" r="8.2" fill="url(#sb)"/><circle cx="285.9" cy="993.4" r="8.2" fill="url(#sb)"/><circle cx="305.8" cy="952.6" r="8.2" fill="url(#sb)"/><circle cx="325.8" cy="936.6" r="8.2" fill="url(#sb)"/><circle cx="345.7" cy="927.8" r="8.2" fill="url(#sb)"/><circle cx="365.7" cy="924.2" r="8.2" fill="url(#sb)"/><circle cx="385.6" cy="921.6" r="8.2" fill="url(#sb)"/><circle cx="405.6" cy="918.3" r="8.2" fill="url(#sb)"/><circle cx="425.53" cy="918.08" r="8.2" fill="url(#sb)"/><circle cx="445.48" cy="918" r="8.2" fill="url(#sb)"/><circle cx="465.43" cy="918.23" r="8.2" fill="url(#sb)"/><circle cx="485.38" cy="918.79" r="8.2" fill="url(#sb)"/><circle cx="505.34" cy="919" r="8.2" fill="url(#sb)"/><circle cx="525.29" cy="919" r="8.2" fill="url(#sb)"/><circle cx="545.24" cy="919" r="8.2" fill="url(#sb)"/><circle cx="565.19" cy="919" r="8.2" fill="url(#sb)"/><circle cx="585.14" cy="919" r="8.2" fill="url(#sb)"/><circle cx="605.1" cy="919.04" r="8.2" fill="url(#sb)"/><circle cx="625.05" cy="919.73" r="8.2" fill="url(#sb)"/><circle cx="645" cy="920.9" r="8.2" fill="url(#sb)"/><circle cx="664.95" cy="922.01" r="8.2" fill="url(#sb)"/><circle cx="685" cy="922.5" r="8.2" fill="url(#sb)"/><circle cx="705.1" cy="920" r="8.2" fill="url(#sb)"/><circle cx="725.1" cy="919.8" r="8.2" fill="url(#sb)"/><circle cx="745" cy="919.8" r="8.2" fill="url(#sb)"/><circle cx="765" cy="920.7" r="8.2" fill="url(#sb)"/><circle cx="785" cy="932.2" r="8.2" fill="url(#sb)"/><circle cx="804.9" cy="1017.3" r="8.2" fill="url(#sb)"/><circle cx="824.8" cy="1261" r="8.2" fill="url(#sb)"/><circle cx="844.8" cy="1005.8" r="8.2" fill="url(#sb)"/><circle cx="864.8" cy="951.7" r="8.2" fill="url(#sb)"/><circle cx="884.7" cy="934.9" r="8.2" fill="url(#sb)"/><circle cx="904.7" cy="926.9" r="8.2" fill="url(#sb)"/><circle cx="924.6" cy="923.4" r="8.2" fill="url(#sb)"/><circle cx="944.6" cy="921.6" r="8.2" fill="url(#sb)"/><circle cx="964.6" cy="921.6" r="8.2" fill="url(#sb)"/><circle cx="984.18" cy="916.62" r="8.2" fill="url(#sb)"/>
</g>
<g clip-path="url(#clipc)"><path d="M129.4 911.5 131.95 911.54 134.8 911.59 137.65 911.64 140.5 911.69 143.35 911.75M149.05 911.86 151.9 911.93 154.75 912.01 157.6 912.08 160.45 912.14 163.3 912.18M169 912.18 171.85 912.12 174.7 912.04 177.55 911.96 180.4 911.88 183.25 911.82M188.95 911.8 191.81 911.8 194.66 911.8 197.5 911.8 200.35 911.8 203.21 911.8M208.91 912.03 211.76 912.66 214.61 913.53 216 914 217.46 914.58 220.31 916.22 223.16 918.55M228.86 926.89 231.71 935.08 234 943 237.41 959.28 240 975 243.11 996.79 244 1005 245.2 1021.33M246.54 1043.29 249.3 1100 251.4 1192 254.2 1269 256.5 1312.7 257.36 1302.44 258.6 1269 260.5 1192 262.2 1100 263.06 1070.23 264 1045 265.44 1016.79M267.29 994.88 268.76 982.36 270 975 271.61 966.15 274.46 953.25 276 948 277.31 944.2 280.16 936.82 283.01 930.95M288.71 924.15 291.56 921.66 294.42 919.5 297.26 917.68 300.12 916.22 302.97 915.16M308.67 914.09 311.52 913.74 314.37 913.46 317.22 913.22 320.07 913.02 322.92 912.85M328.62 912.56 331.47 912.43 334.32 912.32 337.17 912.21 340.02 912.13 342.87 912.05M348.57 911.95 351.42 911.91 354.27 911.87 357.12 911.83 359.97 911.79 362.82 911.75M368.52 911.69 371.37 911.66 374.22 911.63 377.07 911.6 379.92 911.58 382.77 911.56M388.47 911.53 391.32 911.52 394.18 911.51 397.02 911.5 400 911.5 402.73 911.5M408.43 911.5 411.28 911.5 414.13 911.5 416.98 911.5 419.83 911.5 422.68 911.5M428.38 911.5 431.23 911.5 434.08 911.5 436.93 911.5 439.78 911.5 442.63 911.5M448.33 911.5 451.18 911.5 454.03 911.5 456.88 911.5 459.73 911.5 462.58 911.5M468.28 911.5 471.13 911.5 473.98 911.5 476.83 911.5 479.68 911.5 482.53 911.5M488.23 911.5 491.08 911.5 493.94 911.5 496.79 911.5 499.63 911.5 502.49 911.5M508.19 911.5 511.04 911.5 513.89 911.5 516.74 911.5 519.59 911.5 522.44 911.5M528.14 911.5 530.99 911.5 533.84 911.5 536.69 911.5 539.54 911.5 542.39 911.5M548.09 911.5 550.94 911.5 553.79 911.5 556.64 911.5 559.49 911.5 562.34 911.5M568.04 911.5 570.89 911.5 573.74 911.5 576.59 911.5 579.44 911.5 582.29 911.5M587.99 911.5 590.85 911.5 593.7 911.5 596.54 911.5 599.39 911.5 600 911.5 602.25 911.52M607.95 911.74 610.8 911.9 613.65 912.07 616.5 912.23 619.35 912.37 622.2 912.47M627.9 912.5 630.75 912.5 633.6 912.5 636.45 912.5 639.3 912.5 642.15 912.5M647.85 912.55 650.7 912.67 653.55 912.87 656.4 913.11 659.25 913.39 662.1 913.69M667.8 914.32 670.65 914.69 673.5 915.13 676.35 915.62 679.2 916.17 682.05 916.79M687.75 918.34 690.61 919.45 693.46 920.75 696.3 922.19 699.15 923.71 702.01 925.26M707.71 928.41 710.56 930.32 713.41 932.35 716.26 934.34 719.11 936.11 721.96 937.5M727.66 938.79 730.51 939.17 733.36 939.51 736.21 939.8 739.06 940.01 741.91 940.15M747.61 939.95 750.46 939.23 753.31 938.21 756.16 937.09 759.01 936.04 761.86 935.25M767.56 934.93 770.41 935.03 773.26 935.2 776.11 935.44 778.96 935.74 781.81 936.11M787.51 937.46 790.37 939.34 793.22 941.97 796 945 798.91 949.45 801.77 955.66M807.47 972.84 810.32 985.46 813 1000 816.02 1022.62 818.87 1049.21 820 1060 821.72 1077.21 823.75 1098.45M825.94 1120.34 828 1140 830.27 1152.81 831.5 1155.5 833.12 1151.34 835 1140 835.97 1129.45 839 1080 841.67 1051.93 843.48 1037.02M846.48 1015.23 847.37 1009.51 850.22 993.98 852 985 853.07 979.62 855.92 966.07 858 958 858.77 955.46 861.62 946.94M867.32 936.62 870.17 933.03 873.02 929.89 875.87 927.21 878.72 924.96 881.57 923.13M887.27 920.61 890.12 919.68 892.98 918.89 895.83 918.19 898.67 917.56 901.53 916.97M907.23 915.75 910.08 915.11 912.93 914.5 915.78 913.92 918.63 913.42 921.48 913.01M927.18 912.52 930.03 912.33 932.88 912.16 935.73 912.02 938.58 911.9 941.43 911.83M947.13 911.82 949.98 911.89 952.83 912.03 955.68 912.26 958.53 912.57 961.38 912.99M967.08 918.55 970 935 972.78 1024.68 973.5 1050 975.63 1122.55 976.5 1134.2 979 1050 981 960 983.25 933.96" fill="none" stroke="#000000" stroke-width="4.5" stroke-linecap="round" stroke-linejoin="round"/>
<circle cx="146.2" cy="911.8" r="7.2" fill="url(#sk)"/><circle cx="166.2" cy="912.2" r="7.2" fill="url(#sk)"/><circle cx="186.1" cy="911.8" r="7.2" fill="url(#sk)"/><circle cx="206.1" cy="911.8" r="7.2" fill="url(#sk)"/><circle cx="226" cy="921.6" r="7.2" fill="url(#sk)"/><circle cx="246" cy="1032.3" r="7.2" fill="url(#sk)"/><circle cx="266" cy="1005.8" r="7.2" fill="url(#sk)"/><circle cx="285.9" cy="926.9" r="7.2" fill="url(#sk)"/><circle cx="305.8" cy="914.5" r="7.2" fill="url(#sk)"/><circle cx="325.8" cy="912.7" r="7.2" fill="url(#sk)"/><circle cx="345.7" cy="912" r="7.2" fill="url(#sk)"/><circle cx="365.67" cy="911.72" r="7.2" fill="url(#sk)"/><circle cx="385.62" cy="911.54" r="7.2" fill="url(#sk)"/><circle cx="405.58" cy="911.5" r="7.2" fill="url(#sk)"/><circle cx="425.53" cy="911.5" r="7.2" fill="url(#sk)"/><circle cx="445.48" cy="911.5" r="7.2" fill="url(#sk)"/><circle cx="465.43" cy="911.5" r="7.2" fill="url(#sk)"/><circle cx="485.38" cy="911.5" r="7.2" fill="url(#sk)"/><circle cx="505.34" cy="911.5" r="7.2" fill="url(#sk)"/><circle cx="525.29" cy="911.5" r="7.2" fill="url(#sk)"/><circle cx="545.24" cy="911.5" r="7.2" fill="url(#sk)"/><circle cx="565.19" cy="911.5" r="7.2" fill="url(#sk)"/><circle cx="585.14" cy="911.5" r="7.2" fill="url(#sk)"/><circle cx="605.1" cy="911.61" r="7.2" fill="url(#sk)"/><circle cx="625" cy="912.5" r="7.2" fill="url(#sk)"/><circle cx="645" cy="912.5" r="7.2" fill="url(#sk)"/><circle cx="665" cy="914" r="7.2" fill="url(#sk)"/><circle cx="685" cy="917.5" r="7.2" fill="url(#sk)"/><circle cx="705.1" cy="926.9" r="7.2" fill="url(#sk)"/><circle cx="725.1" cy="938.4" r="7.2" fill="url(#sk)"/><circle cx="745" cy="940.2" r="7.2" fill="url(#sk)"/><circle cx="765" cy="934.9" r="7.2" fill="url(#sk)"/><circle cx="785" cy="936.6" r="7.2" fill="url(#sk)"/><circle cx="804.9" cy="964.1" r="7.2" fill="url(#sk)"/><circle cx="824.8" cy="1109.4" r="7.2" fill="url(#sk)"/><circle cx="844.8" cy="1026.1" r="7.2" fill="url(#sk)"/><circle cx="864.8" cy="940.2" r="7.2" fill="url(#sk)"/><circle cx="884.7" cy="921.6" r="7.2" fill="url(#sk)"/><circle cx="904.7" cy="916.3" r="7.2" fill="url(#sk)"/><circle cx="924.6" cy="912.7" r="7.2" fill="url(#sk)"/><circle cx="944.6" cy="911.8" r="7.2" fill="url(#sk)"/><circle cx="964.6" cy="913.6" r="7.2" fill="url(#sk)"/><circle cx="984.2" cy="923" r="7.2" fill="url(#sk)"/>
</g>
<rect x="129.4" y="909.2" width="855.6" height="690" fill="none" stroke="#000" stroke-width="3.2"/>
<path d="M236.35 1599.2v-6.6M236.35 909.2v6.6M343.3 1599.2v-12.8M343.3 909.2v12.8M450.25 1599.2v-6.6M450.25 909.2v6.6M557.2 1599.2v-12.8M557.2 909.2v12.8M664.15 1599.2v-6.6M664.15 909.2v6.6M771.1 1599.2v-12.8M771.1 909.2v12.8M878.05 1599.2v-6.6M878.05 909.2v6.6M129.4 1530.2h6.6M985 1530.2h-6.6M129.4 1461.2h12.8M985 1461.2h-12.8M129.4 1392.2h6.6M985 1392.2h-6.6M129.4 1323.2h12.8M985 1323.2h-12.8M129.4 1254.2h6.6M985 1254.2h-6.6M129.4 1185.2h12.8M985 1185.2h-12.8M129.4 1116.2h6.6M985 1116.2h-6.6M129.4 1047.2h12.8M985 1047.2h-12.8M129.4 978.2h6.6M985 978.2h-6.6" stroke="#000" stroke-width="3" fill="none"/>
<rect x="208.2" y="912" width="86.8" height="688.9" fill="url(#bandC)"/>
<g font-family="'Liberation Serif','Times New Roman',serif" font-weight="bold" font-size="32" fill="#000">
<text x="129.4" y="1639.7" text-anchor="middle">0</text>
<text x="343.3" y="1639.7" text-anchor="middle">3</text>
<text x="557.2" y="1639.7" text-anchor="middle">6</text>
<text x="771.1" y="1639.7" text-anchor="middle">9</text>
<text x="985" y="1639.7" text-anchor="middle">12</text>
<text x="115.7" y="1609.8" text-anchor="end">0.0</text>
<text x="115.7" y="1471.8" text-anchor="end">0.2</text>
<text x="115.7" y="1333.8" text-anchor="end">0.4</text>
<text x="115.7" y="1195.8" text-anchor="end">0.6</text>
<text x="115.7" y="1057.8" text-anchor="end">0.8</text>
<text x="115.7" y="919.8" text-anchor="end">1.0</text>
</g>
<g font-family="'Liberation Serif','Times New Roman',serif" font-weight="bold" font-size="39" fill="#000">
<text x="557.5" y="1679.6" text-anchor="middle">Frequency(GHz)</text>
<text transform="translate(59.9 1253.45) rotate(-90)" text-anchor="middle">Reflection Coefficient</text>
</g>
<text x="0.2" y="865.5" font-family="'Liberation Sans',Arial,sans-serif" font-weight="bold" font-size="42" fill="#000">(c)</text>
<line x1="455.3" y1="1065.8" x2="542.1" y2="1065.8" stroke="#ff0000" stroke-width="4.8" stroke-linecap="round"/>
<circle cx="498.8" cy="1065.8" r="7.0" fill="url(#sr)"/>
<text x="553.6" y="1079.9" font-family="'Liberation Serif','Times New Roman',serif" font-weight="bold" font-size="38.5" fill="#000">TE 0°</text>
<line x1="455.3" y1="1114.5" x2="542.1" y2="1114.5" stroke="#ff00ff" stroke-width="4.8" stroke-linecap="round"/>
<circle cx="498.8" cy="1114.5" r="7.0" fill="url(#sm)"/>
<text x="553.6" y="1128.6" font-family="'Liberation Serif','Times New Roman',serif" font-weight="bold" font-size="38.5" fill="#000">TE 20°</text>
<line x1="455.3" y1="1163.6" x2="542.1" y2="1163.6" stroke="#00ff00" stroke-width="4.8" stroke-linecap="round"/>
<circle cx="498.8" cy="1163.6" r="7.0" fill="url(#sg)"/>
<text x="553.6" y="1177.7" font-family="'Liberation Serif','Times New Roman',serif" font-weight="bold" font-size="38.5" fill="#000">TE 40°</text>
<line x1="455.3" y1="1212.8" x2="542.1" y2="1212.8" stroke="#0000ff" stroke-width="4.8" stroke-linecap="round"/>
<circle cx="498.8" cy="1212.8" r="8.2" fill="url(#sb)"/>
<text x="553.6" y="1226.9" font-family="'Liberation Serif','Times New Roman',serif" font-weight="bold" font-size="38.5" fill="#000">TE 60°</text>
<line x1="455.3" y1="1261.1" x2="542.1" y2="1261.1" stroke="#000000" stroke-width="4.8" stroke-linecap="round"/>
<circle cx="498.8" cy="1261.1" r="7.0" fill="url(#sk)"/>
<text x="553.6" y="1275.2" font-family="'Liberation Serif','Times New Roman',serif" font-weight="bold" font-size="38.5" fill="#000">TE 80°</text>
<g clip-path="url(#clipd)"><path d="M1124.9 904.3 1128 904.37 1130.85 904.56 1133.7 904.84 1136.55 905.19 1139.4 905.6M1145.1 906.63 1147.95 907.46 1150.8 908.51 1153.65 909.76 1156.5 911.21 1159.35 912.84M1165.05 916.88 1167.9 919.79 1170.75 923.32 1173.6 927.45 1176.45 932.14 1179.3 937.37M1185 950.03 1187.85 958.62 1190.7 968.78 1193.55 980.41 1196.4 993.41 1199.25 1007.69 1200 1011.78M1203.67 1033.47 1204.95 1041.84 1207.8 1064.93 1210.65 1091.37 1213 1115 1216.35 1156.63 1219.2 1196.93 1221.14 1221.53M1223 1243.45 1224.9 1264.19 1227.75 1291.04 1229 1300 1230.6 1310.25 1233.44 1325.19 1235 1328 1236.3 1326.65 1238.5 1320 1239.14 1316.13 1241.03 1294.96M1243.15 1273.06 1244.85 1256.83 1247.69 1230.72 1250 1210 1253.39 1180.31 1256.24 1155.73 1256.9 1150 1259.09 1129.7 1260.71 1115.92M1263.67 1094.13 1264.79 1086.81 1267.64 1070.99 1270 1060 1273.34 1046.72 1276.19 1036.82 1279.04 1028.07M1284.74 1013.13 1287.59 1006.37 1290.44 1000.05 1293.29 994.2 1296.14 988.85 1298.99 984.04M1304.69 976 1307.54 972.49 1310.39 969.27 1313.24 966.3 1316.09 963.57 1318.94 961.05M1324.64 956.58 1327.49 954.6 1330.34 952.75 1333.19 951.02 1336.04 949.38 1338.89 947.83M1344.59 944.85 1347.44 943.4 1350.29 942.01 1353.14 940.69 1355.99 939.48 1358.84 938.4M1364.54 936.67 1367.39 935.94 1370.24 935.26 1373.09 934.65 1375.94 934.08 1378.79 933.56M1384.49 932.63 1387.34 932.23 1390.19 931.85 1393.04 931.5 1395.89 931.16 1398.74 930.83M1404.44 930.16 1407.29 929.86 1410.14 929.56 1412.99 929.27 1415.84 928.96 1418.69 928.64M1424.39 927.9 1427.24 927.44 1430.09 926.96 1432.93 926.48 1435.79 926.03 1438.63 925.62M1444.34 925.02 1447.18 924.77 1450.04 924.55 1452.88 924.34 1455.73 924.15 1458.58 923.97M1464.28 923.63 1467.13 923.48 1469.98 923.34 1472.83 923.21 1475.68 923.07 1478.53 922.94M1484.23 922.65 1487.08 922.49 1489.93 922.33 1492.78 922.18 1495.63 922.03 1498.48 921.9M1504.18 921.71 1507.03 921.63 1509.88 921.55 1512.73 921.47 1515.58 921.4 1518.43 921.34M1524.13 921.21 1526.98 921.16 1529.83 921.1 1532.68 921.05 1535.53 921 1538.38 920.95M1544.08 920.85 1546.93 920.81 1549.78 920.76 1552.63 920.72 1555.48 920.68 1558.33 920.63M1564.03 920.55 1566.88 920.5 1569.73 920.45 1572.58 920.41 1575.43 920.36 1578.28 920.31M1583.98 920.2 1586.83 920.14 1589.68 920.08 1592.53 920.02 1595.38 919.95 1598.23 919.88M1603.93 919.73 1606.78 919.65 1609.63 919.57 1612.48 919.48 1615.33 919.4 1618.18 919.31M1623.88 919.14 1626.73 919.04 1629.58 918.95 1632.42 918.85 1635.28 918.75 1638.12 918.64M1643.83 918.42 1646.67 918.31 1649.53 918.19 1652.37 918.07 1655.22 917.94 1658.07 917.81M1663.77 917.54 1666.62 917.4 1669.47 917.25 1672.32 917.1 1675.17 916.94 1678.02 916.78M1683.72 916.39 1686.57 916.08 1689.42 915.74 1692.27 915.39 1695.12 915.1 1697.97 914.88M1703.67 914.88 1706.52 915.11 1709.37 915.42 1712.22 915.76 1715.07 916.08 1717.92 916.31M1723.62 916.31 1726.47 916.06 1729.32 915.7 1732.17 915.28 1735.02 914.82 1737.87 914.38M1743.57 913.67 1746.42 913.31 1749.27 912.95 1752.12 912.6 1754.97 912.29 1757.82 912.02M1763.52 911.65 1766.37 911.52 1769.22 911.4 1772.07 911.3 1774.92 911.2 1777.77 911.11M1783.47 910.9 1786.32 910.8 1789.17 910.7 1792.02 910.61 1794.87 910.51 1797.72 910.41M1803.42 910.2 1806.27 910.08 1809.12 909.97 1811.97 909.85 1814.82 909.74 1817.67 909.62M1823.37 909.39 1826.22 909.27 1829.07 909.16 1831.91 909.04 1834.77 908.93 1837.62 908.81M1843.32 908.6 1846.16 908.49 1849.02 908.39 1851.86 908.28 1854.71 908.19 1857.56 908.09M1863.26 907.92 1866.11 907.85 1868.96 907.78 1871.81 907.71 1874.66 907.64 1877.51 907.57M1883.21 907.42 1886.06 907.33 1888.91 907.24 1891.76 907.15 1894.61 907.07 1897.46 907.02M1903.16 907 1906.01 907 1908.86 907 1911.71 907 1914.56 907 1917.41 907M1923.11 906.98 1925.96 906.91 1928.81 906.81 1931.66 906.7 1934.51 906.61 1937.36 906.53M1943.06 906.5 1945.91 906.5 1948.76 906.5 1951.61 906.5 1954.46 906.5 1957.31 906.5M1963.01 906.5 1965.86 906.5 1968.71 906.5 1971.56 906.5 1974.41 906.5 1977.26 906.5" fill="none" stroke="#ff0000" stroke-width="4.5" stroke-linecap="round" stroke-linejoin="round"/>
<circle cx="1142" cy="906" r="7.2" fill="url(#sr)"/><circle cx="1162" cy="914.5" r="7.2" fill="url(#sr)"/><circle cx="1182" cy="942.8" r="7.2" fill="url(#sr)"/><circle cx="1202" cy="1022.6" r="7.2" fill="url(#sr)"/><circle cx="1222" cy="1232.5" r="7.2" fill="url(#sr)"/><circle cx="1242" cy="1284" r="7.2" fill="url(#sr)"/><circle cx="1262" cy="1105" r="7.2" fill="url(#sr)"/><circle cx="1281.7" cy="1020.8" r="7.2" fill="url(#sr)"/><circle cx="1301.7" cy="980" r="7.2" fill="url(#sr)"/><circle cx="1321.7" cy="958.8" r="7.2" fill="url(#sr)"/><circle cx="1341.6" cy="946.4" r="7.2" fill="url(#sr)"/><circle cx="1361.6" cy="937.5" r="7.2" fill="url(#sr)"/><circle cx="1381.5" cy="933.1" r="7.2" fill="url(#sr)"/><circle cx="1401.5" cy="930.5" r="7.2" fill="url(#sr)"/><circle cx="1421.5" cy="928.3" r="7.2" fill="url(#sr)"/><circle cx="1441.4" cy="925.3" r="7.2" fill="url(#sr)"/><circle cx="1461.4" cy="923.8" r="7.2" fill="url(#sr)"/><circle cx="1481.4" cy="922.8" r="7.2" fill="url(#sr)"/><circle cx="1501.3" cy="921.8" r="7.2" fill="url(#sr)"/><circle cx="1521.28" cy="921.27" r="7.2" fill="url(#sr)"/><circle cx="1541.23" cy="920.9" r="7.2" fill="url(#sr)"/><circle cx="1561.18" cy="920.59" r="7.2" fill="url(#sr)"/><circle cx="1581.13" cy="920.25" r="7.2" fill="url(#sr)"/><circle cx="1601.2" cy="919.8" r="7.2" fill="url(#sr)"/><circle cx="1621.03" cy="919.23" r="7.2" fill="url(#sr)"/><circle cx="1640.97" cy="918.54" r="7.2" fill="url(#sr)"/><circle cx="1660.92" cy="917.68" r="7.2" fill="url(#sr)"/><circle cx="1681" cy="916.6" r="7.2" fill="url(#sr)"/><circle cx="1700.9" cy="914.8" r="7.2" fill="url(#sr)"/><circle cx="1720.8" cy="916.4" r="7.2" fill="url(#sr)"/><circle cx="1740.8" cy="914" r="7.2" fill="url(#sr)"/><circle cx="1760.8" cy="911.8" r="7.2" fill="url(#sr)"/><circle cx="1780.7" cy="911" r="7.2" fill="url(#sr)"/><circle cx="1800.7" cy="910.3" r="7.2" fill="url(#sr)"/><circle cx="1820.6" cy="909.5" r="7.2" fill="url(#sr)"/><circle cx="1840.6" cy="908.7" r="7.2" fill="url(#sr)"/><circle cx="1860.6" cy="908" r="7.2" fill="url(#sr)"/><circle cx="1880.5" cy="907.5" r="7.2" fill="url(#sr)"/><circle cx="1900.5" cy="907" r="7.2" fill="url(#sr)"/><circle cx="1920.5" cy="907" r="7.2" fill="url(#sr)"/><circle cx="1940.4" cy="906.5" r="7.2" fill="url(#sr)"/><circle cx="1960.4" cy="906.5" r="7.2" fill="url(#sr)"/><circle cx="1980.11" cy="906.5" r="7.2" fill="url(#sr)"/>
</g>
<g clip-path="url(#clipd)"><path d="M1124.9 904.3 1128 904.4 1130.85 904.64 1133.7 905.01 1136.55 905.46 1139.4 905.99M1145.1 907.28 1147.95 908.26 1150.8 909.49 1153.65 910.93 1156.5 912.58 1159.35 914.43M1165.05 918.89 1167.9 921.95 1170.75 925.6 1173.6 929.83 1176.45 934.62 1179.3 939.96M1185 952.9 1187.85 961.68 1190.7 972 1193.55 983.71 1196.4 996.69 1199.25 1010.78 1199.95 1014.49M1203.78 1036.16 1204.95 1043.28 1207.8 1064.2 1210.65 1088.18 1213 1110 1216.35 1148.6 1219.2 1186.86 1221.15 1212.23M1222.83 1234.17 1224.9 1261.51 1227.75 1296.53 1229.6 1311.3 1230.6 1316.45 1233.44 1328.19 1235.8 1333.6 1238.5 1336 1239.14 1334.06 1240.92 1316.05M1243.33 1294.18 1244.85 1281.69 1247.69 1259.1 1250.55 1236.37 1252 1224.4 1253.39 1212.7 1256.24 1188.41 1259.09 1163.48 1260.6 1150 1260.82 1147.94M1263.34 1126.08 1264.79 1114.26 1267.64 1093.59 1270 1080 1273.34 1065.22 1276.19 1054.7 1279.04 1045.53M1284.74 1029.16 1287.59 1021.56 1290.44 1014.41 1293.29 1007.76 1296.14 1001.66 1298.99 996.18M1304.69 987.09 1307.54 983.14 1310.39 979.52 1313.24 976.18 1316.09 973.1 1318.94 970.25M1324.64 965.17 1327.49 962.89 1330.34 960.76 1333.19 958.76 1336.04 956.88 1338.89 955.11M1344.59 951.8 1347.44 950.24 1350.29 948.76 1353.14 947.35 1355.99 946.03 1358.84 944.8M1364.54 942.6 1367.39 941.59 1370.24 940.63 1373.09 939.73 1375.94 938.9 1378.79 938.15M1384.49 936.87 1387.34 936.33 1390.19 935.84 1393.04 935.37 1395.89 934.92 1398.74 934.46M1404.44 933.49 1407.29 933 1410.14 932.5 1412.99 932.01 1415.84 931.53 1418.69 931.06M1424.39 930.13 1427.24 929.65 1430.09 929.17 1432.93 928.72 1435.79 928.29 1438.63 927.91M1444.34 927.33 1447.18 927.09 1450.04 926.88 1452.88 926.69 1455.73 926.5 1458.58 926.3M1464.28 925.88 1467.13 925.64 1469.98 925.41 1472.83 925.18 1475.68 924.96 1478.53 924.77M1484.23 924.45 1487.08 924.31 1489.93 924.18 1492.78 924.06 1495.63 923.96 1498.48 923.87M1504.18 923.75 1507.03 923.7 1509.88 923.65 1512.73 923.62 1515.58 923.58 1518.43 923.55M1524.13 923.49 1526.98 923.46 1529.83 923.43 1532.68 923.41 1535.53 923.37 1538.38 923.34M1544.08 923.26 1546.93 923.22 1549.78 923.18 1552.63 923.14 1555.48 923.1 1558.33 923.05M1564.03 922.97 1566.88 922.92 1569.73 922.88 1572.58 922.83 1575.43 922.79 1578.28 922.74M1583.98 922.64 1586.83 922.59 1589.68 922.53 1592.53 922.48 1595.38 922.42 1598.23 922.36M1603.93 922.24 1606.78 922.16 1609.63 922.08 1612.48 921.99 1615.33 921.89 1618.18 921.78M1623.88 921.56 1626.73 921.44 1629.58 921.32 1632.42 921.2 1635.28 921.08 1638.12 920.96M1643.83 920.72 1646.67 920.61 1649.53 920.5 1652.37 920.39 1655.22 920.29 1658.07 920.2M1663.77 920.04 1666.62 919.97 1669.47 919.91 1672.32 919.86 1675.17 919.83 1678.02 919.81M1683.72 919.82 1686.57 919.89 1689.42 920.01 1692.27 920.18 1695.12 920.4 1697.97 920.67M1703.67 921.99 1706.52 924.13 1709.37 927.02 1712 930 1715.07 934.13M1720.36 951.57 1720.77 953.54 1724.2 986.5 1726.47 1045.28 1729 1150 1732.17 1370.33 1733.8 1429.4 1735.02 1377.13 1737 1200 1737.87 1115.26 1739.5 990M1742.29 969.1 1743.57 959.76 1745.6 948.4 1746.42 945.16 1749.27 935.74 1752 930 1754.97 926.27 1757.82 923.65M1763.52 921.11 1766.37 920.35 1769.22 919.73 1772.07 919.21 1774.92 918.78 1777.77 918.39M1783.47 917.64 1786.32 917.3 1789.17 916.99 1792.02 916.7 1794.87 916.45 1797.72 916.21M1803.42 915.83 1806.27 915.67 1809.12 915.53 1811.97 915.4 1814.82 915.27 1817.67 915.14M1823.37 914.86 1826.22 914.72 1829.07 914.58 1831.91 914.43 1834.77 914.29 1837.62 914.15M1843.32 913.86 1846.16 913.72 1849.02 913.58 1851.86 913.44 1854.71 913.29 1857.56 913.15M1863.26 912.87 1866.11 912.72 1868.96 912.58 1871.81 912.44 1874.66 912.29 1877.51 912.15M1883.21 911.86 1886.06 911.7 1888.91 911.54 1891.76 911.39 1894.61 911.25 1897.46 911.12M1903.16 910.92 1906.01 910.84 1908.86 910.77 1911.71 910.7 1914.56 910.64 1917.41 910.57M1923.11 910.43 1925.96 910.34 1928.81 910.24 1931.66 910.15 1934.51 910.07 1937.36 910.02M1943.06 910 1945.91 910 1948.76 910 1951.61 910 1954.46 910 1957.31 910M1963.01 909.99 1965.86 909.95 1968.71 909.89 1971.56 909.81 1974.41 909.72 1977.26 909.62" fill="none" stroke="#ff00ff" stroke-width="4.5" stroke-linecap="round" stroke-linejoin="round"/>
<circle cx="1142" cy="906.5" r="7.2" fill="url(#sm)"/><circle cx="1162" cy="916.3" r="7.2" fill="url(#sm)"/><circle cx="1182" cy="945.5" r="7.2" fill="url(#sm)"/><circle cx="1202" cy="1025.3" r="7.2" fill="url(#sm)"/><circle cx="1222" cy="1223.2" r="7.2" fill="url(#sm)"/><circle cx="1242" cy="1305.1" r="7.2" fill="url(#sm)"/><circle cx="1262" cy="1137" r="7.2" fill="url(#sm)"/><circle cx="1281.7" cy="1037.7" r="7.2" fill="url(#sm)"/><circle cx="1301.7" cy="991.6" r="7.2" fill="url(#sm)"/><circle cx="1321.7" cy="967.7" r="7.2" fill="url(#sm)"/><circle cx="1341.6" cy="953.5" r="7.2" fill="url(#sm)"/><circle cx="1361.6" cy="943.7" r="7.2" fill="url(#sm)"/><circle cx="1381.5" cy="937.5" r="7.2" fill="url(#sm)"/><circle cx="1401.5" cy="934" r="7.2" fill="url(#sm)"/><circle cx="1421.5" cy="930.6" r="7.2" fill="url(#sm)"/><circle cx="1441.4" cy="927.6" r="7.2" fill="url(#sm)"/><circle cx="1461.4" cy="926.1" r="7.2" fill="url(#sm)"/><circle cx="1481.4" cy="924.6" r="7.2" fill="url(#sm)"/><circle cx="1501.3" cy="923.8" r="7.2" fill="url(#sm)"/><circle cx="1521.28" cy="923.52" r="7.2" fill="url(#sm)"/><circle cx="1541.3" cy="923.3" r="7.2" fill="url(#sm)"/><circle cx="1561.18" cy="923.01" r="7.2" fill="url(#sm)"/><circle cx="1581.13" cy="922.69" r="7.2" fill="url(#sm)"/><circle cx="1601.2" cy="922.3" r="7.2" fill="url(#sm)"/><circle cx="1621.03" cy="921.67" r="7.2" fill="url(#sm)"/><circle cx="1640.97" cy="920.84" r="7.2" fill="url(#sm)"/><circle cx="1660.92" cy="920.11" r="7.2" fill="url(#sm)"/><circle cx="1681" cy="919.8" r="7.2" fill="url(#sm)"/><circle cx="1700.9" cy="921" r="7.2" fill="url(#sm)"/><circle cx="1718.1" cy="940.8" r="7.2" fill="url(#sm)"/><circle cx="1740.8" cy="980" r="7.2" fill="url(#sm)"/><circle cx="1760.8" cy="922" r="7.2" fill="url(#sm)"/><circle cx="1780.7" cy="918" r="7.2" fill="url(#sm)"/><circle cx="1800.7" cy="916" r="7.2" fill="url(#sm)"/><circle cx="1820.6" cy="915" r="7.2" fill="url(#sm)"/><circle cx="1840.6" cy="914" r="7.2" fill="url(#sm)"/><circle cx="1860.6" cy="913" r="7.2" fill="url(#sm)"/><circle cx="1880.5" cy="912" r="7.2" fill="url(#sm)"/><circle cx="1900.5" cy="911" r="7.2" fill="url(#sm)"/><circle cx="1920.5" cy="910.5" r="7.2" fill="url(#sm)"/><circle cx="1940.4" cy="910" r="7.2" fill="url(#sm)"/><circle cx="1960.4" cy="910" r="7.2" fill="url(#sm)"/><circle cx="1980.11" cy="909.51" r="7.2" fill="url(#sm)"/>
</g>
<g clip-path="url(#clipd)"><path d="M1124.9 904.3 1128 904.44 1130.85 904.8 1133.7 905.33 1136.55 906 1139.4 906.76M1145.1 908.65 1147.95 910.11 1150.8 911.92 1153.65 914.03 1156.5 916.41 1159.35 919.01M1165.05 925 1167.9 928.8 1170.75 933.2 1173.6 938.17 1176.45 943.71 1179.3 949.81M1185 964.27 1187.85 973.61 1190.7 984.33 1193.55 996.22 1196.4 1009.14 1199.25 1022.89 1199.86 1026.01M1203.95 1047.63 1204.95 1053.13 1207.8 1071.17 1210.65 1091.48 1213 1110 1216.35 1142.97 1219.2 1175.17 1220.96 1193.65M1223.2 1215.53 1224.9 1231 1227.75 1255.45 1230.6 1278.78 1232 1290 1233.44 1302.2 1236.3 1325.65 1238 1335 1239.14 1339.25M1244.85 1339.2 1246 1335 1247.69 1326.92 1250.55 1307.02 1253.39 1284.53 1254 1280 1256.24 1262.86 1259.09 1240.05 1260.59 1228.51M1263.48 1206.7 1264.79 1197.07 1267.64 1176.7 1270.49 1157.86 1271.8 1150 1273.34 1141.22 1276.19 1125.94 1279.04 1112.06 1279.22 1111.32M1284.42 1089.94 1284.74 1088.68 1287.59 1078.12 1290.44 1068.18 1293.29 1058.92 1296.14 1050.37 1298.99 1042.57M1304.69 1029.2 1307.54 1023.28 1310.39 1017.78 1313.24 1012.68 1316.09 1007.94 1318.94 1003.55M1324.64 995.66 1327.49 992.07 1330.34 988.7 1333.19 985.54 1336.04 982.59 1338.89 979.84M1344.59 974.89 1347.44 972.63 1350.29 970.51 1353.14 968.51 1355.99 966.62 1358.84 964.84M1364.54 961.55 1367.39 960.02 1370.24 958.58 1373.09 957.2 1375.94 955.89 1378.79 954.64M1384.49 952.31 1387.34 951.24 1390.19 950.22 1393.04 949.24 1395.89 948.28 1398.74 947.32M1404.44 945.39 1407.29 944.4 1410.14 943.41 1412.99 942.45 1415.84 941.55 1418.69 940.72M1424.39 939.34 1427.24 938.74 1430.09 938.17 1432.93 937.65 1435.79 937.16 1438.63 936.71M1444.34 935.9 1447.18 935.55 1450.04 935.23 1452.88 934.92 1455.73 934.61 1458.58 934.31M1464.28 933.68 1467.13 933.37 1469.98 933.05 1472.83 932.74 1475.68 932.43 1478.53 932.12M1484.23 931.47 1487.08 931.12 1489.93 930.77 1492.78 930.42 1495.63 930.09 1498.48 929.78M1504.18 929.25 1507.03 929.02 1509.88 928.81 1512.73 928.61 1515.58 928.41 1518.43 928.21M1524.13 927.78 1526.98 927.54 1529.83 927.3 1532.68 927.07 1535.53 926.85 1538.38 926.66M1544.08 926.38 1546.93 926.27 1549.78 926.17 1552.63 926.08 1555.48 925.99 1558.33 925.9M1564.03 925.68 1566.88 925.53 1569.73 925.38 1572.58 925.24 1575.43 925.12 1578.28 925.03M1583.98 925 1586.83 925 1589.68 925 1592.53 925 1595.38 925 1598.23 925M1603.93 925 1606.78 925 1609.63 925 1612.48 925 1615.33 925 1618.18 925M1623.88 925 1626.73 925 1629.58 925 1632.42 925 1635.28 925 1638.12 925M1643.83 925.04 1646.67 925.15 1649.53 925.32 1652.37 925.56 1655.22 925.86 1658.07 926.2M1663.77 927.01 1666.62 927.47 1669.47 927.95 1672.32 928.44 1675.17 928.95 1678.02 929.46M1683.72 930.46 1686.57 930.92 1689.42 931.43 1692.27 932.06 1695.12 932.87 1697.97 933.95M1703.67 940 1706.52 950.2 1709.37 964.68 1710.5 971.3 1712.22 987.25 1715.07 1027 1716 1040 1717.92 1068.43 1720.01 1097.63M1722.03 1119.53 1723.7 1134.4 1727 1080 1729.32 1038.58 1732 1000 1735.02 976.27 1737.87 959.77M1743.57 943.08 1746.42 938.3 1749.27 935.27 1750.2 934.7 1752.12 933.84 1754.97 932.88 1757.82 932.19M1763.52 931.12 1766.37 930.67 1769.22 930.27 1772.07 929.91 1774.92 929.58 1777.77 929.29M1783.47 928.75 1786.32 928.5 1789.17 928.28 1792.02 928.07 1794.87 927.87 1797.72 927.68M1803.42 927.34 1806.27 927.19 1809.12 927.05 1811.97 926.91 1814.82 926.78 1817.67 926.64M1823.37 926.37 1826.22 926.24 1829.07 926.12 1831.91 925.99 1834.77 925.85 1837.62 925.7M1843.32 925.29 1846.16 925.04 1849.02 924.75 1851.86 924.41 1854.71 924.02 1857.56 923.56M1863.26 922.16 1866.11 920.73 1868.96 918.97 1871.81 917.12 1874.66 915.41 1877.51 914.06M1883.21 913.01 1886.06 912.74 1888.91 912.51 1891.76 912.33 1894.61 912.18 1897.46 912.07M1903.16 911.96 1906.01 911.93 1908.86 911.91 1911.71 911.89 1914.56 911.87 1917.41 911.84M1923.11 911.71 1925.96 911.53 1928.81 911.29 1931.66 911.02 1934.51 910.75 1937.36 910.5M1943.06 910.16 1945.91 910 1948.76 909.85 1951.61 909.71 1954.46 909.6 1957.31 909.53M1963.01 909.6 1965.86 909.98 1968.71 910.7 1972 912 1974.5 918 1976.94 966.01M1977.65 988 1979.2 1102.5 1980.5 1070" fill="none" stroke="#00ff00" stroke-width="4.5" stroke-linecap="round" stroke-linejoin="round"/>
<circle cx="1142" cy="907.5" r="7.2" fill="url(#sg)"/><circle cx="1162" cy="921.6" r="7.2" fill="url(#sg)"/><circle cx="1182" cy="956.1" r="7.2" fill="url(#sg)"/><circle cx="1202" cy="1036.8" r="7.2" fill="url(#sg)"/><circle cx="1222" cy="1204.6" r="7.2" fill="url(#sg)"/><circle cx="1242" cy="1345.4" r="7.2" fill="url(#sg)"/><circle cx="1262" cy="1217.6" r="7.2" fill="url(#sg)"/><circle cx="1281.7" cy="1100.6" r="7.2" fill="url(#sg)"/><circle cx="1301.7" cy="1035.9" r="7.2" fill="url(#sg)"/><circle cx="1321.7" cy="999.6" r="7.2" fill="url(#sg)"/><circle cx="1341.6" cy="977.4" r="7.2" fill="url(#sg)"/><circle cx="1361.6" cy="963.2" r="7.2" fill="url(#sg)"/><circle cx="1381.5" cy="953.5" r="7.2" fill="url(#sg)"/><circle cx="1401.5" cy="946.4" r="7.2" fill="url(#sg)"/><circle cx="1421.5" cy="940" r="7.2" fill="url(#sg)"/><circle cx="1441.4" cy="936.3" r="7.2" fill="url(#sg)"/><circle cx="1461.4" cy="934" r="7.2" fill="url(#sg)"/><circle cx="1481.4" cy="931.8" r="7.2" fill="url(#sg)"/><circle cx="1501.3" cy="929.5" r="7.2" fill="url(#sg)"/><circle cx="1521.3" cy="928" r="7.2" fill="url(#sg)"/><circle cx="1541.3" cy="926.5" r="7.2" fill="url(#sg)"/><circle cx="1561.2" cy="925.8" r="7.2" fill="url(#sg)"/><circle cx="1581.2" cy="925" r="7.2" fill="url(#sg)"/><circle cx="1601.08" cy="925" r="7.2" fill="url(#sg)"/><circle cx="1621.03" cy="925" r="7.2" fill="url(#sg)"/><circle cx="1641.1" cy="925" r="7.2" fill="url(#sg)"/><circle cx="1660.92" cy="926.59" r="7.2" fill="url(#sg)"/><circle cx="1681" cy="930" r="7.2" fill="url(#sg)"/><circle cx="1700.9" cy="935.4" r="7.2" fill="url(#sg)"/><circle cx="1720.8" cy="1108.6" r="7.2" fill="url(#sg)"/><circle cx="1740.8" cy="949.2" r="7.2" fill="url(#sg)"/><circle cx="1760.8" cy="931.6" r="7.2" fill="url(#sg)"/><circle cx="1780.7" cy="929" r="7.2" fill="url(#sg)"/><circle cx="1800.7" cy="927.5" r="7.2" fill="url(#sg)"/><circle cx="1820.6" cy="926.5" r="7.2" fill="url(#sg)"/><circle cx="1840.6" cy="925.5" r="7.2" fill="url(#sg)"/><circle cx="1860.6" cy="923" r="7.2" fill="url(#sg)"/><circle cx="1880.5" cy="913.3" r="7.2" fill="url(#sg)"/><circle cx="1900.5" cy="912" r="7.2" fill="url(#sg)"/><circle cx="1920.5" cy="911.8" r="7.2" fill="url(#sg)"/><circle cx="1940.4" cy="910.3" r="7.2" fill="url(#sg)"/><circle cx="1960.4" cy="909.5" r="7.2" fill="url(#sg)"/><circle cx="1977.5" cy="977" r="7.2" fill="url(#sg)"/>
</g>
<g clip-path="url(#clipd)"><path d="M1124.9 904.3 1128 904.6 1130.85 905.36 1133.7 906.48 1136.55 907.87 1139.4 909.46M1145.1 913.37 1147.95 916.36 1150.8 920 1153.65 924.18 1156.5 928.78 1159.35 933.68M1165.05 944.3 1167.9 950.55 1170.75 957.46 1173.6 965.02 1176.45 973.18 1179.3 981.92M1184.94 1001.3 1185 1001.53 1187.85 1013.19 1190.7 1025.94 1193.55 1039.56 1196.4 1053.82 1199.25 1068.48 1199.92 1072M1204.03 1093.61 1204.95 1098.5 1207.8 1114.52 1210.65 1131.6 1213.5 1150 1216.35 1171.4 1219.2 1194.77 1220.54 1204.8M1223.75 1226.56 1224.9 1233.67 1227.75 1249.75 1230.6 1265.45 1232.1 1274 1233.44 1282.34 1236.3 1301.87 1239.14 1319.93 1239.41 1321.01M1244.85 1338.29 1247.69 1343.29 1250.7 1345.4 1253.39 1343.08 1256.24 1336.7 1259.09 1328.04M1264.79 1308.46 1267.64 1295.67 1270.49 1282.03 1272 1275 1273.34 1268.76 1276.19 1255.03 1279.04 1241.19 1279.39 1239.56M1284.11 1218.07 1284.74 1215.26 1287.59 1202.95 1290.44 1191.16 1292 1185 1293.29 1180.03 1296.14 1169.45 1298.99 1159.36M1304.69 1140.33 1307.54 1131.06 1310.39 1121.99 1313.24 1113.24 1316.09 1104.89 1318.94 1097.04M1324.64 1083.01 1327.49 1076.59 1330.34 1070.49 1333.19 1064.69 1336.04 1059.18 1338.89 1053.94M1344.59 1044.19 1347.44 1039.61 1350.29 1035.23 1353.14 1031.05 1355.99 1027.08 1358.84 1023.33M1364.54 1016.47 1367.39 1013.32 1370.24 1010.32 1373.09 1007.46 1375.94 1004.71 1378.79 1002.06M1384.49 996.96 1387.34 994.51 1390.19 992.14 1393.04 989.86 1395.89 987.66 1398.74 985.55M1404.44 981.63 1407.29 979.8 1410.14 978.05 1412.99 976.36 1415.84 974.71 1418.69 973.09M1424.39 969.87 1427.24 968.26 1430.09 966.68 1432.93 965.14 1435.79 963.66 1438.63 962.26M1444.34 959.76 1447.18 958.62 1450.04 957.54 1452.88 956.5 1455.73 955.49 1458.58 954.49M1464.28 952.47 1467.13 951.45 1469.98 950.43 1472.83 949.45 1475.68 948.5 1478.53 947.62M1484.23 946.07 1487.08 945.39 1489.93 944.75 1492.78 944.13 1495.63 943.53 1498.48 942.92M1504.18 941.63 1507.03 940.96 1509.88 940.27 1512.73 939.6 1515.58 938.95 1518.43 938.35M1524.13 937.31 1526.98 936.84 1529.83 936.4 1532.68 935.98 1535.53 935.57 1538.38 935.19M1544.08 934.44 1546.93 934.08 1549.78 933.73 1552.63 933.39 1555.48 933.07 1558.33 932.77M1564.03 932.25 1566.88 932.01 1569.73 931.78 1572.58 931.57 1575.43 931.37 1578.28 931.18M1583.98 930.83 1586.83 930.67 1589.68 930.51 1592.53 930.37 1595.38 930.23 1598.23 930.11M1603.93 929.91 1606.78 929.81 1609.63 929.71 1612.48 929.63 1615.33 929.56 1618.18 929.52M1623.88 929.5 1626.73 929.5 1629.58 929.5 1632.42 929.5 1635.28 929.5 1638.12 929.5M1643.83 929.51 1646.67 929.54 1649.53 929.6 1652.37 929.67 1655.22 929.76 1658.07 929.87M1663.77 930.19 1666.62 930.56 1669.47 931.1 1672.32 931.8 1675.17 932.67 1678.02 933.72M1683.72 937.22 1686.57 941.24 1689.42 946.41 1692.2 952 1695.12 958.6 1697.97 966.85 1698.15 967.55M1702.72 989.05 1703.67 994.71 1706 1017 1709 1080 1711.9 1113.2 1715 1070 1718 1010 1719.61 995.24M1722.92 973.51 1723.62 969.97 1726.47 958.96 1729.32 950.84 1730.4 948.4 1732.17 944.74 1735.02 939.48 1737.87 935.44M1743.57 932.03 1746.42 931.14 1749.27 930.42 1752.12 929.83 1754.97 929.36 1757.82 928.97M1763.52 928.29 1766.37 928.01 1769.22 927.75 1772.07 927.53 1774.92 927.33 1777.77 927.15M1783.47 926.88 1786.32 926.77 1789.17 926.67 1792.02 926.58 1794.87 926.49 1797.72 926.4M1803.42 926.2 1806.27 926.08 1809.12 925.96 1811.97 925.85 1814.82 925.73 1817.67 925.61M1823.37 925.4 1826.22 925.32 1829.07 925.24 1831.91 925.15 1834.77 925.06 1837.62 924.94M1843.32 924.62 1846.16 924.38 1849.02 924.08 1851.86 923.74 1854.71 923.37 1857.56 922.96M1863.26 922.06 1866.11 921.52 1868.96 920.92 1871.81 920.26 1874.66 919.54 1877.51 918.76M1883.21 916.87 1886.06 915.45 1888.91 913.85 1891.76 912.27 1894.61 910.89 1897.46 909.91M1903.16 919.25 1904 925 1906.2 960 1908.9 1035.4 1911.5 980 1915 940.8 1917.41 936.05M1923.11 931.48 1925.96 930 1928.81 928.77 1931.66 927.75 1934.51 926.91 1937.36 926.18M1943.06 924.92 1945.91 924.32 1948.76 923.76 1951.61 923.26 1954.46 922.87 1957.31 922.61M1963.01 922.5 1965.86 922.51 1968.71 922.55 1971.56 922.62 1974.41 922.74 1977.26 922.91" fill="none" stroke="#0000ff" stroke-width="4.5" stroke-linecap="round" stroke-linejoin="round"/>
<circle cx="1142" cy="911" r="7.2" fill="url(#sb)"/><circle cx="1162" cy="938.4" r="7.2" fill="url(#sb)"/><circle cx="1182" cy="990.7" r="7.2" fill="url(#sb)"/><circle cx="1202" cy="1082.8" r="7.2" fill="url(#sb)"/><circle cx="1222" cy="1215.7" r="7.2" fill="url(#sb)"/><circle cx="1242" cy="1331.7" r="7.2" fill="url(#sb)"/><circle cx="1262" cy="1318.7" r="7.2" fill="url(#sb)"/><circle cx="1281.7" cy="1228.8" r="7.2" fill="url(#sb)"/><circle cx="1301.7" cy="1150.2" r="7.2" fill="url(#sb)"/><circle cx="1321.7" cy="1090" r="7.2" fill="url(#sb)"/><circle cx="1341.6" cy="1049.2" r="7.2" fill="url(#sb)"/><circle cx="1361.6" cy="1019.9" r="7.2" fill="url(#sb)"/><circle cx="1381.5" cy="999.6" r="7.2" fill="url(#sb)"/><circle cx="1401.5" cy="983.6" r="7.2" fill="url(#sb)"/><circle cx="1421.5" cy="971.5" r="7.2" fill="url(#sb)"/><circle cx="1441.4" cy="961" r="7.2" fill="url(#sb)"/><circle cx="1461.4" cy="953.5" r="7.2" fill="url(#sb)"/><circle cx="1481.4" cy="946.8" r="7.2" fill="url(#sb)"/><circle cx="1501.3" cy="942.3" r="7.2" fill="url(#sb)"/><circle cx="1521.3" cy="937.8" r="7.2" fill="url(#sb)"/><circle cx="1541.3" cy="934.8" r="7.2" fill="url(#sb)"/><circle cx="1561.2" cy="932.5" r="7.2" fill="url(#sb)"/><circle cx="1581.2" cy="931" r="7.2" fill="url(#sb)"/><circle cx="1601.2" cy="930" r="7.2" fill="url(#sb)"/><circle cx="1621.1" cy="929.5" r="7.2" fill="url(#sb)"/><circle cx="1641.1" cy="929.5" r="7.2" fill="url(#sb)"/><circle cx="1661.1" cy="930" r="7.2" fill="url(#sb)"/><circle cx="1681" cy="935" r="7.2" fill="url(#sb)"/><circle cx="1700.9" cy="978.2" r="7.2" fill="url(#sb)"/><circle cx="1720.8" cy="984.3" r="7.2" fill="url(#sb)"/><circle cx="1740.8" cy="933.1" r="7.2" fill="url(#sb)"/><circle cx="1760.8" cy="928.6" r="7.2" fill="url(#sb)"/><circle cx="1780.7" cy="927" r="7.2" fill="url(#sb)"/><circle cx="1800.7" cy="926.3" r="7.2" fill="url(#sb)"/><circle cx="1820.6" cy="925.5" r="7.2" fill="url(#sb)"/><circle cx="1840.6" cy="924.8" r="7.2" fill="url(#sb)"/><circle cx="1860.6" cy="922.5" r="7.2" fill="url(#sb)"/><circle cx="1880.5" cy="917.9" r="7.2" fill="url(#sb)"/><circle cx="1900.5" cy="909.5" r="7.2" fill="url(#sb)"/><circle cx="1920.5" cy="933.1" r="7.2" fill="url(#sb)"/><circle cx="1940.4" cy="925.5" r="7.2" fill="url(#sb)"/><circle cx="1960.4" cy="922.5" r="7.2" fill="url(#sb)"/><circle cx="1980.11" cy="923.16" r="7.2" fill="url(#sb)"/>
</g>
<g clip-path="url(#clipd)"><path d="M1124.9 904.3 1128 910 1131 920 1133.7 927.87 1136.55 935.86 1137.7 939.3 1139.4 944.61M1144.62 964.18 1145.1 966.12 1147.95 979.05 1150.8 992.43 1152 998 1153.65 1005.74 1156.5 1019.57 1159.35 1033.37 1159.67 1034.85M1164.46 1056.32 1165.05 1058.88 1167.9 1070.82 1170.75 1082.2 1172 1087 1173.6 1092.99 1176.45 1103.36 1179.3 1113.17M1185 1130.64 1187.85 1138.49 1190.7 1145.82 1192 1149 1193.55 1152.71 1196.4 1159.35 1199.25 1165.45M1204.95 1175.36 1207.8 1179.97 1210.65 1184.33 1213.5 1188.27 1216.35 1191.63 1219.2 1194.23M1224.9 1197.07 1227.75 1198.12 1230.6 1199.04 1233.44 1199.81 1236.3 1200.4 1239.14 1200.77M1244.85 1200.59 1247.69 1199.73 1250.55 1198.44 1253.39 1196.8 1256.24 1194.94 1259.09 1192.95M1264.79 1188.67 1267.64 1185.89 1270.49 1182.71 1273.34 1179.25 1276.19 1175.62 1279.04 1171.95M1284.74 1164.75 1287.59 1161.01 1290.44 1157.16 1293.29 1153.23 1296.14 1149.22 1298.99 1145.17M1304.69 1136.95 1307.54 1132.7 1310.39 1128.38 1313.24 1124.03 1316.09 1119.67 1318.94 1115.34M1324.64 1106.82 1327.49 1102.56 1330.34 1098.32 1333.19 1094.1 1336.04 1089.93 1338.89 1085.83M1344.59 1077.86 1347.44 1073.96 1350.29 1070.12 1353.14 1066.33 1355.99 1062.59 1358.84 1058.91M1364.54 1051.7 1367.39 1048.15 1370.24 1044.65 1373.09 1041.2 1375.94 1037.83 1378.79 1034.54M1384.49 1028.24 1387.34 1025.19 1390.19 1022.21 1393.04 1019.3 1395.89 1016.46 1398.74 1013.7M1404.44 1008.4 1407.29 1005.85 1410.14 1003.35 1412.99 1000.92 1415.84 998.56 1418.69 996.27M1424.39 991.96 1427.24 989.91 1430.09 987.93 1432.93 986.01 1435.79 984.12 1438.63 982.27M1444.34 978.63 1447.18 976.84 1450.04 975.08 1452.88 973.35 1455.73 971.67 1458.58 970.04M1464.28 966.97 1467.13 965.5 1469.98 964.06 1472.83 962.68 1475.68 961.34 1478.53 960.04M1484.23 957.62 1487.08 956.47 1489.93 955.36 1492.78 954.29 1495.63 953.26 1498.48 952.26M1504.18 950.36 1507.03 949.46 1509.88 948.59 1512.73 947.75 1515.58 946.92 1518.43 946.11M1524.13 944.51 1526.98 943.72 1529.83 942.95 1532.68 942.19 1535.53 941.45 1538.38 940.72M1544.08 939.33 1546.93 938.65 1549.78 937.99 1552.63 937.34 1555.48 936.71 1558.33 936.1M1564.03 934.93 1566.88 934.37 1569.73 933.83 1572.58 933.3 1575.43 932.79 1578.28 932.29M1583.98 931.34 1586.83 930.89 1589.68 930.44 1592.53 930.01 1595.38 929.6 1598.23 929.2M1603.93 928.45 1606.78 928.08 1609.63 927.73 1612.48 927.4 1615.33 927.08 1618.18 926.78M1623.88 926.26 1626.73 926.03 1629.58 925.82 1632.42 925.62 1635.28 925.42 1638.12 925.22M1643.83 924.77 1646.67 924.5 1649.53 924.21 1652.37 923.95 1655.22 923.72 1658.07 923.56M1663.77 923.56 1666.62 923.75 1669.47 924.06 1672.32 924.5 1675.17 925.05 1678.02 925.7M1683.72 927.82 1686.57 930.36 1690 935 1692.27 940.57 1695.3 956 1697.97 1011.67 1698.8 1030 1700.24 1054.02M1701.11 1076 1703.5 1200 1706 1303 1708.8 1200 1711.8 1108.6 1715.1 971.3 1717.92 946.73M1723.62 932.7 1726.47 929.91 1729.32 927.76 1732.17 926.12 1735.02 924.9 1737.87 923.97M1743.57 922.58 1746.42 922.03 1749.27 921.57 1752.12 921.18 1754.97 920.83 1757.82 920.51M1763.52 919.92 1766.37 919.65 1769.22 919.39 1772.07 919.16 1774.92 918.94 1777.77 918.76M1783.47 918.46 1786.32 918.32 1789.17 918.19 1792.02 918.08 1794.87 917.99 1797.72 917.92M1803.42 917.9 1806.27 917.9 1809.12 917.9 1811.97 917.9 1814.82 917.9 1817.67 917.9M1823.37 917.88 1826.22 917.82 1829.07 917.73 1831.91 917.61 1834.77 917.46 1837.62 917.29M1843.32 916.85 1846.16 916.46 1849.02 915.95 1851.86 915.36 1854.71 914.71 1857.56 914.03M1863.26 912.43 1866.11 911.32 1868.96 910.57 1870 910.5 1871.81 911.34 1872.5 912 1874.66 923.08 1875.3 925.5 1877.51 929.34M1883.21 931.26 1886.06 930.31 1888.91 929 1891.76 927.56 1894.61 926.22 1897.46 925.22M1903.16 924.82 1906.01 924.89 1908.86 924.99 1911.71 925.11 1914.56 925.24 1917.41 925.37M1923.11 925.59 1925.96 925.69 1928.81 925.78 1931.66 925.88 1934.51 925.99 1937.36 926.13M1943.06 926.51 1945.91 926.81 1948.76 927.19 1951.61 927.63 1954.46 928.13 1957.31 928.67M1963.01 929.9 1965.86 930.68 1968.71 931.57 1971.56 932.57 1974.41 933.65 1977.26 934.81" fill="none" stroke="#000000" stroke-width="4.5" stroke-linecap="round" stroke-linejoin="round"/>
<circle cx="1142" cy="953.5" r="7.2" fill="url(#sk)"/><circle cx="1162" cy="1045.6" r="7.2" fill="url(#sk)"/><circle cx="1182" cy="1121.8" r="7.2" fill="url(#sk)"/><circle cx="1202" cy="1170.5" r="7.2" fill="url(#sk)"/><circle cx="1222" cy="1195.9" r="7.2" fill="url(#sk)"/><circle cx="1242" cy="1200.9" r="7.2" fill="url(#sk)"/><circle cx="1262" cy="1190.9" r="7.2" fill="url(#sk)"/><circle cx="1281.7" cy="1168.6" r="7.2" fill="url(#sk)"/><circle cx="1301.7" cy="1141.3" r="7.2" fill="url(#sk)"/><circle cx="1321.7" cy="1111.2" r="7.2" fill="url(#sk)"/><circle cx="1341.6" cy="1082" r="7.2" fill="url(#sk)"/><circle cx="1361.6" cy="1055.4" r="7.2" fill="url(#sk)"/><circle cx="1381.5" cy="1031.5" r="7.2" fill="url(#sk)"/><circle cx="1401.5" cy="1011.1" r="7.2" fill="url(#sk)"/><circle cx="1421.5" cy="994.1" r="7.2" fill="url(#sk)"/><circle cx="1441.4" cy="980.5" r="7.2" fill="url(#sk)"/><circle cx="1461.4" cy="968.5" r="7.2" fill="url(#sk)"/><circle cx="1481.4" cy="958.8" r="7.2" fill="url(#sk)"/><circle cx="1501.3" cy="951.3" r="7.2" fill="url(#sk)"/><circle cx="1521.3" cy="945.3" r="7.2" fill="url(#sk)"/><circle cx="1541.3" cy="940" r="7.2" fill="url(#sk)"/><circle cx="1561.2" cy="935.5" r="7.2" fill="url(#sk)"/><circle cx="1581.2" cy="931.8" r="7.2" fill="url(#sk)"/><circle cx="1601.2" cy="928.8" r="7.2" fill="url(#sk)"/><circle cx="1621.1" cy="926.5" r="7.2" fill="url(#sk)"/><circle cx="1641.1" cy="925" r="7.2" fill="url(#sk)"/><circle cx="1661.1" cy="923.5" r="7.2" fill="url(#sk)"/><circle cx="1681" cy="926.5" r="7.2" fill="url(#sk)"/><circle cx="1700.9" cy="1065" r="7.2" fill="url(#sk)"/><circle cx="1720.8" cy="936.2" r="7.2" fill="url(#sk)"/><circle cx="1740.8" cy="923.2" r="7.2" fill="url(#sk)"/><circle cx="1760.8" cy="920.2" r="7.2" fill="url(#sk)"/><circle cx="1780.7" cy="918.6" r="7.2" fill="url(#sk)"/><circle cx="1800.7" cy="917.9" r="7.2" fill="url(#sk)"/><circle cx="1820.6" cy="917.9" r="7.2" fill="url(#sk)"/><circle cx="1840.6" cy="917.1" r="7.2" fill="url(#sk)"/><circle cx="1860.6" cy="913.3" r="7.2" fill="url(#sk)"/><circle cx="1880.5" cy="931.6" r="7.2" fill="url(#sk)"/><circle cx="1900.5" cy="924.8" r="7.2" fill="url(#sk)"/><circle cx="1920.5" cy="925.5" r="7.2" fill="url(#sk)"/><circle cx="1940.4" cy="926.3" r="7.2" fill="url(#sk)"/><circle cx="1960.4" cy="929.3" r="7.2" fill="url(#sk)"/><circle cx="1980.11" cy="936.03" r="7.2" fill="url(#sk)"/>
</g>
<rect x="1124.9" y="904.3" width="855.6" height="689.7" fill="none" stroke="#000" stroke-width="3.2"/>
<path d="M1231.85 1594v-6.6M1231.85 904.3v6.6M1338.8 1594v-12.8M1338.8 904.3v12.8M1445.75 1594v-6.6M1445.75 904.3v6.6M1552.7 1594v-12.8M1552.7 904.3v12.8M1659.65 1594v-6.6M1659.65 904.3v6.6M1766.6 1594v-12.8M1766.6 904.3v12.8M1873.55 1594v-6.6M1873.55 904.3v6.6M1124.9 1525.03h6.6M1980.5 1525.03h-6.6M1124.9 1456.06h12.8M1980.5 1456.06h-12.8M1124.9 1387.09h6.6M1980.5 1387.09h-6.6M1124.9 1318.12h12.8M1980.5 1318.12h-12.8M1124.9 1249.15h6.6M1980.5 1249.15h-6.6M1124.9 1180.18h12.8M1980.5 1180.18h-12.8M1124.9 1111.21h6.6M1980.5 1111.21h-6.6M1124.9 1042.24h12.8M1980.5 1042.24h-12.8M1124.9 973.27h6.6M1980.5 973.27h-6.6" stroke="#000" stroke-width="3" fill="none"/>
<rect x="1198.7" y="902.6" width="85.5" height="693.1" fill="url(#bandC)"/>
<g font-family="'Liberation Serif','Times New Roman',serif" font-weight="bold" font-size="32" fill="#000">
<text x="1124.9" y="1634.5" text-anchor="middle">0</text>
<text x="1338.8" y="1634.5" text-anchor="middle">3</text>
<text x="1552.7" y="1634.5" text-anchor="middle">6</text>
<text x="1766.6" y="1634.5" text-anchor="middle">9</text>
<text x="1980.5" y="1634.5" text-anchor="middle">12</text>
<text x="1111.2" y="1604.6" text-anchor="end">0.0</text>
<text x="1111.2" y="1466.66" text-anchor="end">0.2</text>
<text x="1111.2" y="1328.72" text-anchor="end">0.4</text>
<text x="1111.2" y="1190.78" text-anchor="end">0.6</text>
<text x="1111.2" y="1052.84" text-anchor="end">0.8</text>
<text x="1111.2" y="914.9" text-anchor="end">1.0</text>
</g>
<g font-family="'Liberation Serif','Times New Roman',serif" font-weight="bold" font-size="39" fill="#000">
<text x="1552.6" y="1672.8" text-anchor="middle">Frequency(GHz)</text>
<text transform="translate(1054 1251) rotate(-90)" text-anchor="middle">Reflection Coefficient</text>
</g>
<text x="1010.7" y="865.5" font-family="'Liberation Sans',Arial,sans-serif" font-weight="bold" font-size="42" fill="#000">(d)</text>
<line x1="1440.7" y1="1094.1" x2="1527.5" y2="1094.1" stroke="#ff0000" stroke-width="4.8" stroke-linecap="round"/>
<circle cx="1484.2" cy="1094.1" r="7.0" fill="url(#sr)"/>
<text x="1539.8" y="1107.6" font-family="'Liberation Serif','Times New Roman',serif" font-weight="bold" font-size="38.5" fill="#000">TM 0°</text>
<line x1="1440.7" y1="1142.9" x2="1527.5" y2="1142.9" stroke="#ff00ff" stroke-width="4.8" stroke-linecap="round"/>
<circle cx="1484.2" cy="1142.9" r="7.0" fill="url(#sm)"/>
<text x="1539.8" y="1156.4" font-family="'Liberation Serif','Times New Roman',serif" font-weight="bold" font-size="38.5" fill="#000">TM 20°</text>
<line x1="1440.7" y1="1191.8" x2="1527.5" y2="1191.8" stroke="#00ff00" stroke-width="4.8" stroke-linecap="round"/>
<circle cx="1484.2" cy="1191.8" r="7.0" fill="url(#sg)"/>
<text x="1539.8" y="1205.3" font-family="'Liberation Serif','Times New Roman',serif" font-weight="bold" font-size="38.5" fill="#000">TM 40°</text>
<line x1="1440.7" y1="1240.9" x2="1527.5" y2="1240.9" stroke="#0000ff" stroke-width="4.8" stroke-linecap="round"/>
<circle cx="1484.2" cy="1240.9" r="7.0" fill="url(#sb)"/>
<text x="1539.8" y="1254.4" font-family="'Liberation Serif','Times New Roman',serif" font-weight="bold" font-size="38.5" fill="#000">TM 60°</text>
<line x1="1440.7" y1="1289.6" x2="1527.5" y2="1289.6" stroke="#000000" stroke-width="4.8" stroke-linecap="round"/>
<circle cx="1484.2" cy="1289.6" r="7.0" fill="url(#sk)"/>
<text x="1539.8" y="1303.1" font-family="'Liberation Serif','Times New Roman',serif" font-weight="bold" font-size="38.5" fill="#000">TM 80°</text></svg></body></html>
